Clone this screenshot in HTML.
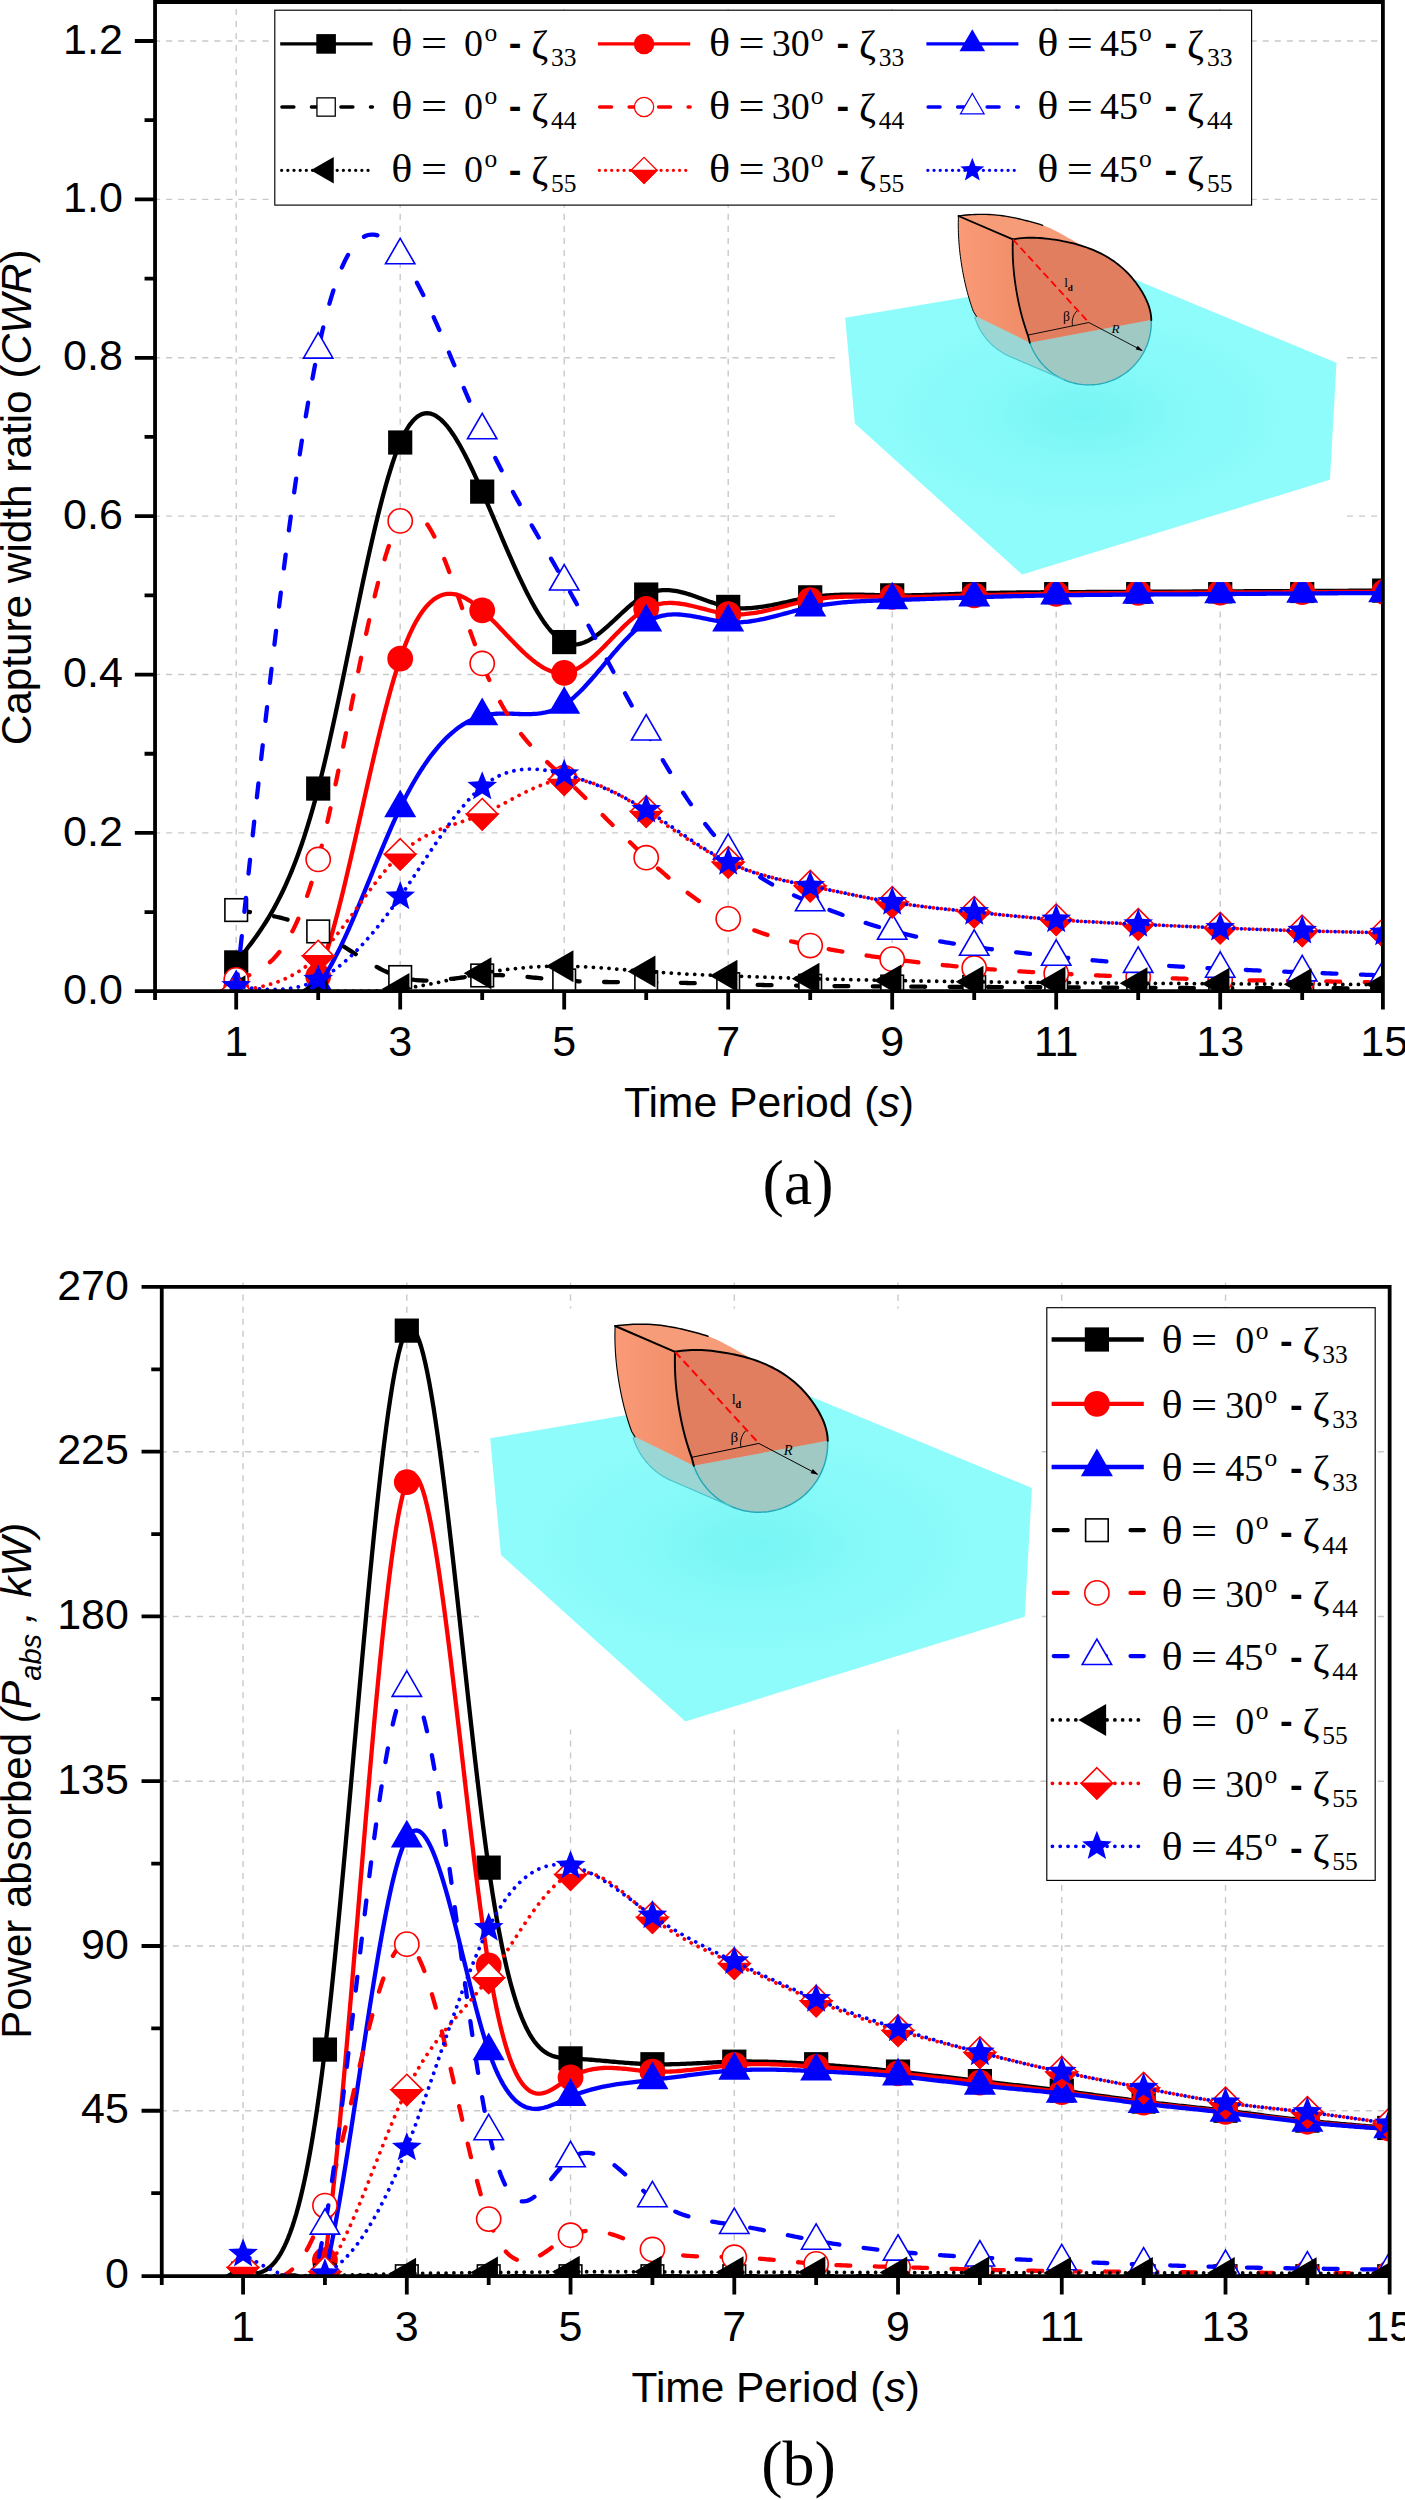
<!DOCTYPE html><html><head><meta charset="utf-8"><title>Figure</title><style>html,body{margin:0;padding:0;background:#fff;overflow:hidden}svg{display:block}</style></head><body><svg width="1405" height="2500" viewBox="0 0 1405 2500"><rect width="1405" height="2500" fill="#fff"/><clipPath id="ca"><rect x="155.05" y="2" width="1227.85" height="989.1"/></clipPath><path d="M154.05 832.92 H1382.9 M154.05 674.54 H1382.9 M154.05 516.16 H1382.9 M154.05 357.78 H1382.9 M154.05 199.4 H1382.9 M154.05 41.02 H1382.9" stroke="#c9c9c9" stroke-width="1.4" fill="none" stroke-dasharray="6.1 5.95"/><path d="M236.2 -3.1 V991.1 M400.2 -3.1 V991.1 M564.2 -3.1 V991.1 M728.2 -3.1 V991.1 M892.2 -3.1 V991.1 M1056.2 -3.1 V991.1 M1220.2 -3.1 V991.1" stroke="#c9c9c9" stroke-width="1.4" fill="none" stroke-dasharray="6.1 5.95"/><g clip-path="url(#ca)"><path d="M236.2 962.4 L238.25 959.84 L240.3 957.27 L242.35 954.69 L244.4 952.09 L246.45 949.46 L248.5 946.8 L250.55 944.1 L252.6 941.35 L254.65 938.55 L256.7 935.69 L258.75 932.76 L260.8 929.76 L262.85 926.67 L264.9 923.51 L266.95 920.24 L269 916.88 L271.05 913.41 L273.1 909.82 L275.15 906.12 L277.2 902.28 L279.25 898.32 L281.3 894.21 L283.35 889.95 L285.4 885.54 L287.45 880.97 L289.5 876.24 L291.55 871.32 L293.6 866.23 L295.65 860.95 L297.7 855.48 L299.75 849.8 L301.8 843.92 L303.85 837.82 L305.9 831.5 L307.95 824.96 L310 818.18 L312.05 811.15 L314.1 803.88 L316.15 796.36 L318.2 788.57 L320.25 780.52 L322.3 772.22 L324.35 763.69 L326.4 754.94 L328.45 745.99 L330.5 736.86 L332.55 727.57 L334.6 718.13 L336.65 708.56 L338.7 698.88 L340.75 689.11 L342.8 679.25 L344.85 669.34 L346.9 659.39 L348.95 649.41 L351 639.42 L353.05 629.44 L355.1 619.49 L357.15 609.58 L359.2 599.74 L361.25 589.97 L363.3 580.31 L365.35 570.75 L367.4 561.32 L369.45 552.05 L371.5 542.94 L373.55 534.01 L375.6 525.28 L377.65 516.78 L379.7 508.5 L381.75 500.48 L383.8 492.73 L385.85 485.26 L387.9 478.1 L389.95 471.27 L392 464.77 L394.05 458.63 L396.1 452.86 L398.15 447.48 L400.2 442.51 L402.25 437.97 L404.3 433.84 L406.35 430.11 L408.4 426.79 L410.45 423.85 L412.5 421.29 L414.55 419.1 L416.6 417.27 L418.65 415.79 L420.7 414.65 L422.75 413.84 L424.8 413.35 L426.85 413.18 L428.9 413.3 L430.95 413.72 L433 414.43 L435.05 415.4 L437.1 416.64 L439.15 418.14 L441.2 419.88 L443.25 421.86 L445.3 424.06 L447.35 426.48 L449.4 429.11 L451.45 431.94 L453.5 434.95 L455.55 438.15 L457.6 441.51 L459.65 445.03 L461.7 448.7 L463.75 452.52 L465.8 456.46 L467.85 460.53 L469.9 464.71 L471.95 468.99 L474 473.37 L476.05 477.83 L478.1 482.36 L480.15 486.96 L482.2 491.61 L484.25 496.31 L486.3 501.05 L488.35 505.82 L490.4 510.62 L492.45 515.43 L494.5 520.26 L496.55 525.09 L498.6 529.91 L500.65 534.73 L502.7 539.54 L504.75 544.31 L506.8 549.06 L508.85 553.78 L510.9 558.45 L512.95 563.07 L515 567.63 L517.05 572.13 L519.1 576.55 L521.15 580.9 L523.2 585.17 L525.25 589.34 L527.3 593.41 L529.35 597.38 L531.4 601.24 L533.45 604.98 L535.5 608.59 L537.55 612.07 L539.6 615.41 L541.65 618.6 L543.7 621.64 L545.75 624.51 L547.8 627.23 L549.85 629.76 L551.9 632.12 L553.95 634.29 L556 636.26 L558.05 638.03 L560.1 639.6 L562.15 640.95 L564.2 642.07 L566.25 642.97 L568.3 643.65 L570.35 644.12 L572.4 644.39 L574.45 644.46 L576.5 644.35 L578.55 644.06 L580.6 643.61 L582.65 643 L584.7 642.24 L586.75 641.34 L588.8 640.31 L590.85 639.15 L592.9 637.89 L594.95 636.52 L597 635.05 L599.05 633.5 L601.1 631.87 L603.15 630.18 L605.2 628.42 L607.25 626.61 L609.3 624.77 L611.35 622.89 L613.4 620.98 L615.45 619.06 L617.5 617.14 L619.55 615.21 L621.6 613.3 L623.65 611.41 L625.7 609.55 L627.75 607.73 L629.8 605.96 L631.85 604.24 L633.9 602.59 L635.95 601.01 L638 599.52 L640.05 598.12 L642.1 596.82 L644.15 595.63 L646.2 594.56 L648.25 593.61 L650.3 592.79 L652.35 592.09 L654.4 591.5 L656.45 591.02 L658.5 590.64 L660.55 590.37 L662.6 590.19 L664.65 590.1 L666.7 590.1 L668.75 590.18 L670.8 590.33 L672.85 590.56 L674.9 590.85 L676.95 591.21 L679 591.63 L681.05 592.09 L683.1 592.61 L685.15 593.17 L687.2 593.78 L689.25 594.41 L691.3 595.08 L693.35 595.77 L695.4 596.48 L697.45 597.21 L699.5 597.95 L701.55 598.7 L703.6 599.45 L705.65 600.19 L707.7 600.93 L709.75 601.66 L711.8 602.37 L713.85 603.06 L715.9 603.73 L717.95 604.36 L720 604.96 L722.05 605.52 L724.1 606.03 L726.15 606.5 L728.2 606.91 L730.25 607.27 L732.3 607.56 L734.35 607.81 L736.4 608 L738.45 608.14 L740.5 608.24 L742.55 608.28 L744.6 608.29 L746.65 608.25 L748.7 608.17 L750.75 608.05 L752.8 607.9 L754.85 607.71 L756.9 607.49 L758.95 607.24 L761 606.97 L763.05 606.67 L765.1 606.34 L767.15 605.99 L769.2 605.63 L771.25 605.24 L773.3 604.84 L775.35 604.43 L777.4 604.01 L779.45 603.57 L781.5 603.13 L783.55 602.68 L785.6 602.23 L787.65 601.78 L789.7 601.33 L791.75 600.89 L793.8 600.44 L795.85 600.01 L797.9 599.58 L799.95 599.17 L802 598.77 L804.05 598.38 L806.1 598.01 L808.15 597.66 L810.2 597.33 L812.25 597.02 L814.3 596.74 L816.35 596.48 L818.4 596.24 L820.45 596.02 L822.5 595.82 L824.55 595.63 L826.6 595.47 L828.65 595.32 L830.7 595.19 L832.75 595.08 L834.8 594.98 L836.85 594.9 L838.9 594.83 L840.95 594.77 L843 594.72 L845.05 594.69 L847.1 594.67 L849.15 594.65 L851.2 594.65 L853.25 594.65 L855.3 594.66 L857.35 594.68 L859.4 594.71 L861.45 594.74 L863.5 594.77 L865.55 594.81 L867.6 594.86 L869.65 594.9 L871.7 594.95 L873.75 595 L875.8 595.04 L877.85 595.09 L879.9 595.14 L881.95 595.18 L884 595.22 L886.05 595.26 L888.1 595.3 L890.15 595.33 L892.2 595.35 L894.25 595.37 L896.3 595.38 L898.35 595.38 L900.4 595.38 L902.45 595.38 L904.5 595.37 L906.55 595.35 L908.6 595.33 L910.65 595.3 L912.7 595.27 L914.75 595.24 L916.8 595.2 L918.85 595.16 L920.9 595.11 L922.95 595.06 L925 595.01 L927.05 594.95 L929.1 594.89 L931.15 594.83 L933.2 594.77 L935.25 594.71 L937.3 594.64 L939.35 594.57 L941.4 594.5 L943.45 594.43 L945.5 594.36 L947.55 594.28 L949.6 594.21 L951.65 594.14 L953.7 594.06 L955.75 593.99 L957.8 593.92 L959.85 593.84 L961.9 593.77 L963.95 593.7 L966 593.63 L968.05 593.56 L970.1 593.5 L972.15 593.43 L974.2 593.37 L976.25 593.31 L978.3 593.25 L980.35 593.2 L982.4 593.14 L984.45 593.09 L986.5 593.04 L988.55 592.99 L990.6 592.95 L992.65 592.9 L994.7 592.86 L996.75 592.82 L998.8 592.78 L1000.85 592.74 L1002.9 592.71 L1004.95 592.68 L1007 592.64 L1009.05 592.61 L1011.1 592.58 L1013.15 592.56 L1015.2 592.53 L1017.25 592.5 L1019.3 592.48 L1021.35 592.46 L1023.4 592.43 L1025.45 592.41 L1027.5 592.39 L1029.55 592.37 L1031.6 592.35 L1033.65 592.34 L1035.7 592.32 L1037.75 592.3 L1039.8 592.29 L1041.85 592.27 L1043.9 592.26 L1045.95 592.25 L1048 592.23 L1050.05 592.22 L1052.1 592.21 L1054.15 592.19 L1056.2 592.18 L1058.25 592.17 L1060.3 592.16 L1062.35 592.15 L1064.4 592.14 L1066.45 592.12 L1068.5 592.11 L1070.55 592.1 L1072.6 592.09 L1074.65 592.08 L1076.7 592.07 L1078.75 592.06 L1080.8 592.05 L1082.85 592.04 L1084.9 592.03 L1086.95 592.02 L1089 592.01 L1091.05 592 L1093.1 591.99 L1095.15 591.98 L1097.2 591.97 L1099.25 591.96 L1101.3 591.95 L1103.35 591.94 L1105.4 591.93 L1107.45 591.92 L1109.5 591.92 L1111.55 591.91 L1113.6 591.9 L1115.65 591.89 L1117.7 591.88 L1119.75 591.87 L1121.8 591.86 L1123.85 591.85 L1125.9 591.84 L1127.95 591.83 L1130 591.82 L1132.05 591.81 L1134.1 591.81 L1136.15 591.8 L1138.2 591.79 L1140.25 591.78 L1142.3 591.77 L1144.35 591.76 L1146.4 591.75 L1148.45 591.74 L1150.5 591.73 L1152.55 591.72 L1154.6 591.71 L1156.65 591.7 L1158.7 591.69 L1160.75 591.68 L1162.8 591.67 L1164.85 591.66 L1166.9 591.65 L1168.95 591.64 L1171 591.63 L1173.05 591.62 L1175.1 591.61 L1177.15 591.6 L1179.2 591.59 L1181.25 591.58 L1183.3 591.57 L1185.35 591.56 L1187.4 591.55 L1189.45 591.54 L1191.5 591.53 L1193.55 591.52 L1195.6 591.51 L1197.65 591.5 L1199.7 591.49 L1201.75 591.48 L1203.8 591.47 L1205.85 591.46 L1207.9 591.45 L1209.95 591.44 L1212 591.43 L1214.05 591.42 L1216.1 591.41 L1218.15 591.4 L1220.2 591.39 L1222.25 591.38 L1224.3 591.37 L1226.35 591.36 L1228.4 591.35 L1230.45 591.34 L1232.5 591.33 L1234.55 591.32 L1236.6 591.31 L1238.65 591.3 L1240.7 591.29 L1242.75 591.28 L1244.8 591.27 L1246.85 591.26 L1248.9 591.25 L1250.95 591.24 L1253 591.23 L1255.05 591.22 L1257.1 591.21 L1259.15 591.2 L1261.2 591.19 L1263.25 591.18 L1265.3 591.17 L1267.35 591.16 L1269.4 591.15 L1271.45 591.14 L1273.5 591.13 L1275.55 591.12 L1277.6 591.11 L1279.65 591.1 L1281.7 591.09 L1283.75 591.08 L1285.8 591.07 L1287.85 591.06 L1289.9 591.05 L1291.95 591.04 L1294 591.03 L1296.05 591.02 L1298.1 591.01 L1300.15 591 L1302.2 590.99 L1304.25 590.98 L1306.3 590.97 L1308.35 590.96 L1310.4 590.96 L1312.45 590.95 L1314.5 590.94 L1316.55 590.93 L1318.6 590.92 L1320.65 590.91 L1322.7 590.9 L1324.75 590.89 L1326.8 590.88 L1328.85 590.87 L1330.9 590.86 L1332.95 590.85 L1335 590.84 L1337.05 590.83 L1339.1 590.82 L1341.15 590.81 L1343.2 590.8 L1345.25 590.79 L1347.3 590.78 L1349.35 590.77 L1351.4 590.76 L1353.45 590.75 L1355.5 590.74 L1357.55 590.73 L1359.6 590.72 L1361.65 590.71 L1363.7 590.7 L1365.75 590.69 L1367.8 590.68 L1369.85 590.67 L1371.9 590.66 L1373.95 590.65 L1376 590.64 L1378.05 590.63 L1380.1 590.62 L1382.15 590.61 L1384.2 590.6" stroke="#000000" stroke-width="4.3" fill="none" stroke-linejoin="round"/><rect x="224.1" y="950.3" width="24.2" height="24.2" fill="#000000"/><rect x="306.1" y="776.47" width="24.2" height="24.2" fill="#000000"/><rect x="388.1" y="430.41" width="24.2" height="24.2" fill="#000000"/><rect x="470.1" y="479.51" width="24.2" height="24.2" fill="#000000"/><rect x="552.1" y="629.97" width="24.2" height="24.2" fill="#000000"/><rect x="634.1" y="582.46" width="24.2" height="24.2" fill="#000000"/><rect x="716.1" y="594.81" width="24.2" height="24.2" fill="#000000"/><rect x="798.1" y="585.23" width="24.2" height="24.2" fill="#000000"/><rect x="880.1" y="583.25" width="24.2" height="24.2" fill="#000000"/><rect x="962.1" y="581.27" width="24.2" height="24.2" fill="#000000"/><rect x="1044.1" y="580.08" width="24.2" height="24.2" fill="#000000"/><rect x="1126.1" y="579.69" width="24.2" height="24.2" fill="#000000"/><rect x="1208.1" y="579.29" width="24.2" height="24.2" fill="#000000"/><rect x="1290.1" y="578.89" width="24.2" height="24.2" fill="#000000"/><rect x="1372.1" y="578.5" width="24.2" height="24.2" fill="#000000"/><path d="M236.2 988.13 L238.25 990.29 L240.3 992.44 L242.35 994.58 L244.4 996.68 L246.45 998.75 L248.5 1000.77 L250.55 1002.74 L252.6 1004.64 L254.65 1006.47 L256.7 1008.21 L258.75 1009.87 L260.8 1011.42 L262.85 1012.86 L264.9 1014.18 L266.95 1015.37 L269 1016.43 L271.05 1017.33 L273.1 1018.08 L275.15 1018.66 L277.2 1019.07 L279.25 1019.3 L281.3 1019.33 L283.35 1019.15 L285.4 1018.77 L287.45 1018.16 L289.5 1017.33 L291.55 1016.25 L293.6 1014.93 L295.65 1013.34 L297.7 1011.49 L299.75 1009.37 L301.8 1006.95 L303.85 1004.25 L305.9 1001.23 L307.95 997.91 L310 994.26 L312.05 990.28 L314.1 985.96 L316.15 981.29 L318.2 976.25 L320.25 970.86 L322.3 965.11 L324.35 959.03 L326.4 952.63 L328.45 945.94 L330.5 938.96 L332.55 931.72 L334.6 924.23 L336.65 916.51 L338.7 908.58 L340.75 900.45 L342.8 892.15 L344.85 883.69 L346.9 875.09 L348.95 866.36 L351 857.53 L353.05 848.6 L355.1 839.61 L357.15 830.55 L359.2 821.47 L361.25 812.36 L363.3 803.25 L365.35 794.15 L367.4 785.09 L369.45 776.07 L371.5 767.13 L373.55 758.26 L375.6 749.5 L377.65 740.86 L379.7 732.36 L381.75 724.01 L383.8 715.83 L385.85 707.85 L387.9 700.07 L389.95 692.51 L392 685.19 L394.05 678.14 L396.1 671.36 L398.15 664.88 L400.2 658.7 L402.25 652.85 L404.3 647.33 L406.35 642.12 L408.4 637.21 L410.45 632.62 L412.5 628.31 L414.55 624.3 L416.6 620.56 L418.65 617.11 L420.7 613.92 L422.75 610.99 L424.8 608.33 L426.85 605.9 L428.9 603.73 L430.95 601.78 L433 600.07 L435.05 598.58 L437.1 597.31 L439.15 596.24 L441.2 595.38 L443.25 594.71 L445.3 594.23 L447.35 593.94 L449.4 593.82 L451.45 593.87 L453.5 594.08 L455.55 594.45 L457.6 594.96 L459.65 595.62 L461.7 596.42 L463.75 597.35 L465.8 598.39 L467.85 599.56 L469.9 600.83 L471.95 602.21 L474 603.68 L476.05 605.24 L478.1 606.89 L480.15 608.61 L482.2 610.4 L484.25 612.25 L486.3 614.16 L488.35 616.12 L490.4 618.13 L492.45 620.18 L494.5 622.26 L496.55 624.37 L498.6 626.5 L500.65 628.65 L502.7 630.82 L504.75 632.98 L506.8 635.15 L508.85 637.32 L510.9 639.47 L512.95 641.61 L515 643.72 L517.05 645.8 L519.1 647.86 L521.15 649.87 L523.2 651.84 L525.25 653.75 L527.3 655.61 L529.35 657.41 L531.4 659.14 L533.45 660.8 L535.5 662.37 L537.55 663.87 L539.6 665.27 L541.65 666.57 L543.7 667.78 L545.75 668.87 L547.8 669.85 L549.85 670.72 L551.9 671.46 L553.95 672.07 L556 672.54 L558.05 672.87 L560.1 673.05 L562.15 673.08 L564.2 672.96 L566.25 672.67 L568.3 672.22 L570.35 671.62 L572.4 670.88 L574.45 670 L576.5 669 L578.55 667.87 L580.6 666.63 L582.65 665.28 L584.7 663.83 L586.75 662.28 L588.8 660.65 L590.85 658.94 L592.9 657.16 L594.95 655.32 L597 653.41 L599.05 651.46 L601.1 649.46 L603.15 647.42 L605.2 645.36 L607.25 643.27 L609.3 641.17 L611.35 639.06 L613.4 636.95 L615.45 634.84 L617.5 632.75 L619.55 630.68 L621.6 628.63 L623.65 626.62 L625.7 624.65 L627.75 622.73 L629.8 620.87 L631.85 619.07 L633.9 617.34 L635.95 615.68 L638 614.11 L640.05 612.63 L642.1 611.25 L644.15 609.98 L646.2 608.81 L648.25 607.77 L650.3 606.84 L652.35 606.02 L654.4 605.31 L656.45 604.7 L658.5 604.18 L660.55 603.77 L662.6 603.44 L664.65 603.19 L666.7 603.03 L668.75 602.94 L670.8 602.93 L672.85 602.98 L674.9 603.09 L676.95 603.27 L679 603.5 L681.05 603.78 L683.1 604.1 L685.15 604.47 L687.2 604.87 L689.25 605.31 L691.3 605.77 L693.35 606.26 L695.4 606.77 L697.45 607.29 L699.5 607.82 L701.55 608.37 L703.6 608.91 L705.65 609.45 L707.7 609.99 L709.75 610.51 L711.8 611.02 L713.85 611.51 L715.9 611.98 L717.95 612.42 L720 612.82 L722.05 613.19 L724.1 613.52 L726.15 613.81 L728.2 614.04 L730.25 614.22 L732.3 614.35 L734.35 614.43 L736.4 614.46 L738.45 614.44 L740.5 614.38 L742.55 614.28 L744.6 614.13 L746.65 613.95 L748.7 613.73 L750.75 613.48 L752.8 613.2 L754.85 612.88 L756.9 612.54 L758.95 612.17 L761 611.77 L763.05 611.36 L765.1 610.92 L767.15 610.46 L769.2 609.99 L771.25 609.51 L773.3 609.01 L775.35 608.5 L777.4 607.98 L779.45 607.45 L781.5 606.92 L783.55 606.39 L785.6 605.85 L787.65 605.32 L789.7 604.79 L791.75 604.27 L793.8 603.75 L795.85 603.24 L797.9 602.74 L799.95 602.26 L802 601.79 L804.05 601.34 L806.1 600.9 L808.15 600.49 L810.2 600.1 L812.25 599.74 L814.3 599.4 L816.35 599.08 L818.4 598.78 L820.45 598.51 L822.5 598.26 L824.55 598.03 L826.6 597.81 L828.65 597.62 L830.7 597.45 L832.75 597.29 L834.8 597.15 L836.85 597.02 L838.9 596.91 L840.95 596.82 L843 596.74 L845.05 596.67 L847.1 596.61 L849.15 596.57 L851.2 596.53 L853.25 596.51 L855.3 596.49 L857.35 596.49 L859.4 596.49 L861.45 596.49 L863.5 596.51 L865.55 596.53 L867.6 596.55 L869.65 596.58 L871.7 596.61 L873.75 596.64 L875.8 596.68 L877.85 596.72 L879.9 596.75 L881.95 596.79 L884 596.82 L886.05 596.86 L888.1 596.89 L890.15 596.91 L892.2 596.93 L894.25 596.95 L896.3 596.96 L898.35 596.97 L900.4 596.97 L902.45 596.97 L904.5 596.97 L906.55 596.96 L908.6 596.94 L910.65 596.93 L912.7 596.9 L914.75 596.88 L916.8 596.85 L918.85 596.82 L920.9 596.79 L922.95 596.75 L925 596.71 L927.05 596.67 L929.1 596.62 L931.15 596.58 L933.2 596.53 L935.25 596.48 L937.3 596.42 L939.35 596.37 L941.4 596.31 L943.45 596.26 L945.5 596.2 L947.55 596.14 L949.6 596.08 L951.65 596.02 L953.7 595.96 L955.75 595.9 L957.8 595.83 L959.85 595.77 L961.9 595.71 L963.95 595.65 L966 595.59 L968.05 595.53 L970.1 595.47 L972.15 595.41 L974.2 595.35 L976.25 595.29 L978.3 595.24 L980.35 595.18 L982.4 595.13 L984.45 595.08 L986.5 595.02 L988.55 594.97 L990.6 594.92 L992.65 594.88 L994.7 594.83 L996.75 594.78 L998.8 594.74 L1000.85 594.69 L1002.9 594.65 L1004.95 594.61 L1007 594.56 L1009.05 594.52 L1011.1 594.48 L1013.15 594.44 L1015.2 594.4 L1017.25 594.37 L1019.3 594.33 L1021.35 594.29 L1023.4 594.26 L1025.45 594.22 L1027.5 594.19 L1029.55 594.15 L1031.6 594.12 L1033.65 594.09 L1035.7 594.06 L1037.75 594.03 L1039.8 593.99 L1041.85 593.96 L1043.9 593.93 L1045.95 593.91 L1048 593.88 L1050.05 593.85 L1052.1 593.82 L1054.15 593.79 L1056.2 593.77 L1058.25 593.74 L1060.3 593.71 L1062.35 593.69 L1064.4 593.66 L1066.45 593.64 L1068.5 593.61 L1070.55 593.59 L1072.6 593.56 L1074.65 593.54 L1076.7 593.52 L1078.75 593.49 L1080.8 593.47 L1082.85 593.45 L1084.9 593.43 L1086.95 593.41 L1089 593.38 L1091.05 593.36 L1093.1 593.34 L1095.15 593.32 L1097.2 593.3 L1099.25 593.28 L1101.3 593.26 L1103.35 593.25 L1105.4 593.23 L1107.45 593.21 L1109.5 593.19 L1111.55 593.17 L1113.6 593.16 L1115.65 593.14 L1117.7 593.12 L1119.75 593.11 L1121.8 593.09 L1123.85 593.07 L1125.9 593.06 L1127.95 593.04 L1130 593.03 L1132.05 593.02 L1134.1 593 L1136.15 592.99 L1138.2 592.97 L1140.25 592.96 L1142.3 592.95 L1144.35 592.94 L1146.4 592.92 L1148.45 592.91 L1150.5 592.9 L1152.55 592.89 L1154.6 592.88 L1156.65 592.87 L1158.7 592.85 L1160.75 592.84 L1162.8 592.83 L1164.85 592.82 L1166.9 592.81 L1168.95 592.8 L1171 592.79 L1173.05 592.78 L1175.1 592.77 L1177.15 592.76 L1179.2 592.75 L1181.25 592.75 L1183.3 592.74 L1185.35 592.73 L1187.4 592.72 L1189.45 592.71 L1191.5 592.7 L1193.55 592.69 L1195.6 592.68 L1197.65 592.67 L1199.7 592.67 L1201.75 592.66 L1203.8 592.65 L1205.85 592.64 L1207.9 592.63 L1209.95 592.62 L1212 592.61 L1214.05 592.6 L1216.1 592.6 L1218.15 592.59 L1220.2 592.58 L1222.25 592.57 L1224.3 592.56 L1226.35 592.55 L1228.4 592.54 L1230.45 592.53 L1232.5 592.52 L1234.55 592.51 L1236.6 592.5 L1238.65 592.49 L1240.7 592.49 L1242.75 592.48 L1244.8 592.47 L1246.85 592.46 L1248.9 592.45 L1250.95 592.44 L1253 592.43 L1255.05 592.42 L1257.1 592.41 L1259.15 592.4 L1261.2 592.39 L1263.25 592.38 L1265.3 592.37 L1267.35 592.36 L1269.4 592.35 L1271.45 592.34 L1273.5 592.33 L1275.55 592.32 L1277.6 592.31 L1279.65 592.29 L1281.7 592.28 L1283.75 592.27 L1285.8 592.26 L1287.85 592.25 L1289.9 592.24 L1291.95 592.23 L1294 592.22 L1296.05 592.21 L1298.1 592.2 L1300.15 592.19 L1302.2 592.18 L1304.25 592.17 L1306.3 592.16 L1308.35 592.15 L1310.4 592.14 L1312.45 592.13 L1314.5 592.12 L1316.55 592.11 L1318.6 592.1 L1320.65 592.09 L1322.7 592.08 L1324.75 592.07 L1326.8 592.06 L1328.85 592.05 L1330.9 592.04 L1332.95 592.03 L1335 592.02 L1337.05 592.01 L1339.1 592 L1341.15 591.99 L1343.2 591.98 L1345.25 591.97 L1347.3 591.96 L1349.35 591.95 L1351.4 591.94 L1353.45 591.93 L1355.5 591.92 L1357.55 591.91 L1359.6 591.9 L1361.65 591.89 L1363.7 591.88 L1365.75 591.87 L1367.8 591.86 L1369.85 591.85 L1371.9 591.85 L1373.95 591.84 L1376 591.83 L1378.05 591.82 L1380.1 591.81 L1382.15 591.8 L1384.2 591.79" stroke="#ff0000" stroke-width="4.3" fill="none" stroke-linejoin="round"/><circle cx="236.2" cy="988.13" r="12.9" fill="#ff0000"/><circle cx="318.2" cy="976.25" r="12.9" fill="#ff0000"/><circle cx="400.2" cy="658.7" r="12.9" fill="#ff0000"/><circle cx="482.2" cy="610.4" r="12.9" fill="#ff0000"/><circle cx="564.2" cy="672.96" r="12.9" fill="#ff0000"/><circle cx="646.2" cy="608.81" r="12.9" fill="#ff0000"/><circle cx="728.2" cy="614.04" r="12.9" fill="#ff0000"/><circle cx="810.2" cy="600.1" r="12.9" fill="#ff0000"/><circle cx="892.2" cy="596.93" r="12.9" fill="#ff0000"/><circle cx="974.2" cy="595.35" r="12.9" fill="#ff0000"/><circle cx="1056.2" cy="593.77" r="12.9" fill="#ff0000"/><circle cx="1138.2" cy="592.97" r="12.9" fill="#ff0000"/><circle cx="1220.2" cy="592.58" r="12.9" fill="#ff0000"/><circle cx="1302.2" cy="592.18" r="12.9" fill="#ff0000"/><circle cx="1384.2" cy="591.79" r="12.9" fill="#ff0000"/><path d="M236.2 988.92 L238.25 990.09 L240.3 991.24 L242.35 992.39 L244.4 993.52 L246.45 994.64 L248.5 995.73 L250.55 996.79 L252.6 997.82 L254.65 998.81 L256.7 999.76 L258.75 1000.66 L260.8 1001.51 L262.85 1002.3 L264.9 1003.04 L266.95 1003.7 L269 1004.29 L271.05 1004.81 L273.1 1005.25 L275.15 1005.6 L277.2 1005.87 L279.25 1006.04 L281.3 1006.1 L283.35 1006.07 L285.4 1005.93 L287.45 1005.67 L289.5 1005.29 L291.55 1004.79 L293.6 1004.17 L295.65 1003.41 L297.7 1002.51 L299.75 1001.47 L301.8 1000.29 L303.85 998.95 L305.9 997.46 L307.95 995.81 L310 993.99 L312.05 992 L314.1 989.84 L316.15 987.49 L318.2 984.96 L320.25 982.25 L322.3 979.35 L324.35 976.28 L326.4 973.04 L328.45 969.64 L330.5 966.09 L332.55 962.4 L334.6 958.57 L336.65 954.61 L338.7 950.52 L340.75 946.32 L342.8 942.02 L344.85 937.61 L346.9 933.11 L348.95 928.52 L351 923.86 L353.05 919.13 L355.1 914.33 L357.15 909.48 L359.2 904.58 L361.25 899.64 L363.3 894.66 L365.35 889.66 L367.4 884.65 L369.45 879.62 L371.5 874.58 L373.55 869.55 L375.6 864.54 L377.65 859.54 L379.7 854.56 L381.75 849.62 L383.8 844.72 L385.85 839.87 L387.9 835.08 L389.95 830.35 L392 825.69 L394.05 821.1 L396.1 816.61 L398.15 812.2 L400.2 807.9 L402.25 803.7 L404.3 799.61 L406.35 795.62 L408.4 791.74 L410.45 787.97 L412.5 784.3 L414.55 780.73 L416.6 777.26 L418.65 773.9 L420.7 770.64 L422.75 767.48 L424.8 764.41 L426.85 761.45 L428.9 758.58 L430.95 755.81 L433 753.14 L435.05 750.56 L437.1 748.08 L439.15 745.69 L441.2 743.4 L443.25 741.2 L445.3 739.09 L447.35 737.07 L449.4 735.14 L451.45 733.3 L453.5 731.55 L455.55 729.89 L457.6 728.31 L459.65 726.83 L461.7 725.42 L463.75 724.11 L465.8 722.87 L467.85 721.72 L469.9 720.66 L471.95 719.67 L474 718.77 L476.05 717.95 L478.1 717.21 L480.15 716.54 L482.2 715.96 L484.25 715.45 L486.3 715.01 L488.35 714.64 L490.4 714.34 L492.45 714.09 L494.5 713.9 L496.55 713.75 L498.6 713.65 L500.65 713.59 L502.7 713.56 L504.75 713.56 L506.8 713.59 L508.85 713.63 L510.9 713.69 L512.95 713.76 L515 713.84 L517.05 713.92 L519.1 713.99 L521.15 714.05 L523.2 714.1 L525.25 714.12 L527.3 714.13 L529.35 714.1 L531.4 714.05 L533.45 713.95 L535.5 713.81 L537.55 713.62 L539.6 713.38 L541.65 713.09 L543.7 712.73 L545.75 712.3 L547.8 711.8 L549.85 711.22 L551.9 710.57 L553.95 709.82 L556 708.99 L558.05 708.05 L560.1 707.02 L562.15 705.88 L564.2 704.63 L566.25 703.27 L568.3 701.8 L570.35 700.22 L572.4 698.54 L574.45 696.78 L576.5 694.92 L578.55 692.99 L580.6 690.98 L582.65 688.9 L584.7 686.76 L586.75 684.56 L588.8 682.32 L590.85 680.02 L592.9 677.69 L594.95 675.32 L597 672.92 L599.05 670.51 L601.1 668.07 L603.15 665.63 L605.2 663.18 L607.25 660.74 L609.3 658.3 L611.35 655.87 L613.4 653.46 L615.45 651.08 L617.5 648.73 L619.55 646.41 L621.6 644.14 L623.65 641.91 L625.7 639.74 L627.75 637.63 L629.8 635.58 L631.85 633.61 L633.9 631.71 L635.95 629.89 L638 628.17 L640.05 626.54 L642.1 625.01 L644.15 623.59 L646.2 622.27 L648.25 621.08 L650.3 620 L652.35 619.03 L654.4 618.17 L656.45 617.4 L658.5 616.74 L660.55 616.17 L662.6 615.68 L664.65 615.28 L666.7 614.97 L668.75 614.73 L670.8 614.56 L672.85 614.46 L674.9 614.42 L676.95 614.44 L679 614.52 L681.05 614.65 L683.1 614.83 L685.15 615.05 L687.2 615.31 L689.25 615.61 L691.3 615.93 L693.35 616.28 L695.4 616.66 L697.45 617.05 L699.5 617.46 L701.55 617.87 L703.6 618.3 L705.65 618.72 L707.7 619.14 L709.75 619.55 L711.8 619.95 L713.85 620.34 L715.9 620.71 L717.95 621.05 L720 621.37 L722.05 621.65 L724.1 621.9 L726.15 622.11 L728.2 622.27 L730.25 622.39 L732.3 622.46 L734.35 622.48 L736.4 622.46 L738.45 622.4 L740.5 622.3 L742.55 622.16 L744.6 621.98 L746.65 621.77 L748.7 621.53 L750.75 621.25 L752.8 620.95 L754.85 620.61 L756.9 620.25 L758.95 619.87 L761 619.46 L763.05 619.03 L765.1 618.58 L767.15 618.11 L769.2 617.63 L771.25 617.13 L773.3 616.62 L775.35 616.1 L777.4 615.57 L779.45 615.03 L781.5 614.49 L783.55 613.94 L785.6 613.39 L787.65 612.84 L789.7 612.29 L791.75 611.75 L793.8 611.2 L795.85 610.67 L797.9 610.14 L799.95 609.62 L802 609.11 L804.05 608.62 L806.1 608.14 L808.15 607.67 L810.2 607.23 L812.25 606.8 L814.3 606.4 L816.35 606.01 L818.4 605.64 L820.45 605.29 L822.5 604.95 L824.55 604.64 L826.6 604.33 L828.65 604.05 L830.7 603.78 L832.75 603.52 L834.8 603.28 L836.85 603.05 L838.9 602.84 L840.95 602.63 L843 602.44 L845.05 602.26 L847.1 602.09 L849.15 601.94 L851.2 601.79 L853.25 601.65 L855.3 601.52 L857.35 601.4 L859.4 601.28 L861.45 601.18 L863.5 601.08 L865.55 600.98 L867.6 600.9 L869.65 600.81 L871.7 600.74 L873.75 600.66 L875.8 600.59 L877.85 600.53 L879.9 600.46 L881.95 600.4 L884 600.34 L886.05 600.28 L888.1 600.22 L890.15 600.16 L892.2 600.1 L894.25 600.04 L896.3 599.98 L898.35 599.92 L900.4 599.85 L902.45 599.79 L904.5 599.72 L906.55 599.66 L908.6 599.59 L910.65 599.52 L912.7 599.45 L914.75 599.38 L916.8 599.31 L918.85 599.24 L920.9 599.17 L922.95 599.1 L925 599.03 L927.05 598.96 L929.1 598.89 L931.15 598.82 L933.2 598.74 L935.25 598.67 L937.3 598.6 L939.35 598.53 L941.4 598.45 L943.45 598.38 L945.5 598.31 L947.55 598.24 L949.6 598.16 L951.65 598.09 L953.7 598.02 L955.75 597.95 L957.8 597.88 L959.85 597.81 L961.9 597.74 L963.95 597.67 L966 597.6 L968.05 597.53 L970.1 597.46 L972.15 597.4 L974.2 597.33 L976.25 597.26 L978.3 597.2 L980.35 597.14 L982.4 597.07 L984.45 597.01 L986.5 596.95 L988.55 596.89 L990.6 596.83 L992.65 596.77 L994.7 596.71 L996.75 596.65 L998.8 596.6 L1000.85 596.54 L1002.9 596.49 L1004.95 596.43 L1007 596.38 L1009.05 596.33 L1011.1 596.27 L1013.15 596.22 L1015.2 596.17 L1017.25 596.12 L1019.3 596.07 L1021.35 596.03 L1023.4 595.98 L1025.45 595.93 L1027.5 595.89 L1029.55 595.85 L1031.6 595.8 L1033.65 595.76 L1035.7 595.72 L1037.75 595.68 L1039.8 595.64 L1041.85 595.6 L1043.9 595.56 L1045.95 595.52 L1048 595.49 L1050.05 595.45 L1052.1 595.42 L1054.15 595.38 L1056.2 595.35 L1058.25 595.32 L1060.3 595.29 L1062.35 595.26 L1064.4 595.23 L1066.45 595.2 L1068.5 595.17 L1070.55 595.14 L1072.6 595.12 L1074.65 595.09 L1076.7 595.07 L1078.75 595.04 L1080.8 595.02 L1082.85 595 L1084.9 594.97 L1086.95 594.95 L1089 594.93 L1091.05 594.91 L1093.1 594.89 L1095.15 594.87 L1097.2 594.85 L1099.25 594.83 L1101.3 594.82 L1103.35 594.8 L1105.4 594.78 L1107.45 594.77 L1109.5 594.75 L1111.55 594.73 L1113.6 594.72 L1115.65 594.7 L1117.7 594.69 L1119.75 594.67 L1121.8 594.66 L1123.85 594.65 L1125.9 594.63 L1127.95 594.62 L1130 594.61 L1132.05 594.6 L1134.1 594.58 L1136.15 594.57 L1138.2 594.56 L1140.25 594.55 L1142.3 594.53 L1144.35 594.52 L1146.4 594.51 L1148.45 594.5 L1150.5 594.49 L1152.55 594.48 L1154.6 594.46 L1156.65 594.45 L1158.7 594.44 L1160.75 594.43 L1162.8 594.42 L1164.85 594.41 L1166.9 594.4 L1168.95 594.39 L1171 594.38 L1173.05 594.36 L1175.1 594.35 L1177.15 594.34 L1179.2 594.33 L1181.25 594.32 L1183.3 594.31 L1185.35 594.3 L1187.4 594.28 L1189.45 594.27 L1191.5 594.26 L1193.55 594.25 L1195.6 594.24 L1197.65 594.23 L1199.7 594.21 L1201.75 594.2 L1203.8 594.19 L1205.85 594.18 L1207.9 594.16 L1209.95 594.15 L1212 594.14 L1214.05 594.12 L1216.1 594.11 L1218.15 594.1 L1220.2 594.08 L1222.25 594.07 L1224.3 594.05 L1226.35 594.04 L1228.4 594.02 L1230.45 594.01 L1232.5 593.99 L1234.55 593.98 L1236.6 593.96 L1238.65 593.95 L1240.7 593.93 L1242.75 593.92 L1244.8 593.9 L1246.85 593.88 L1248.9 593.87 L1250.95 593.85 L1253 593.83 L1255.05 593.82 L1257.1 593.8 L1259.15 593.79 L1261.2 593.77 L1263.25 593.75 L1265.3 593.74 L1267.35 593.72 L1269.4 593.7 L1271.45 593.69 L1273.5 593.67 L1275.55 593.65 L1277.6 593.64 L1279.65 593.62 L1281.7 593.6 L1283.75 593.59 L1285.8 593.57 L1287.85 593.56 L1289.9 593.54 L1291.95 593.52 L1294 593.51 L1296.05 593.49 L1298.1 593.48 L1300.15 593.46 L1302.2 593.45 L1304.25 593.43 L1306.3 593.42 L1308.35 593.41 L1310.4 593.39 L1312.45 593.38 L1314.5 593.37 L1316.55 593.35 L1318.6 593.34 L1320.65 593.33 L1322.7 593.31 L1324.75 593.3 L1326.8 593.29 L1328.85 593.27 L1330.9 593.26 L1332.95 593.25 L1335 593.24 L1337.05 593.23 L1339.1 593.21 L1341.15 593.2 L1343.2 593.19 L1345.25 593.18 L1347.3 593.17 L1349.35 593.16 L1351.4 593.15 L1353.45 593.13 L1355.5 593.12 L1357.55 593.11 L1359.6 593.1 L1361.65 593.09 L1363.7 593.08 L1365.75 593.07 L1367.8 593.06 L1369.85 593.05 L1371.9 593.04 L1373.95 593.03 L1376 593.02 L1378.05 593.01 L1380.1 593 L1382.15 592.98 L1384.2 592.97" stroke="#0000ff" stroke-width="4.3" fill="none" stroke-linejoin="round"/><polygon points="236.2,970.46 252.2,998.16 220.2,998.16" fill="#0000ff"/><polygon points="318.2,966.5 334.2,994.2 302.2,994.2" fill="#0000ff"/><polygon points="400.2,789.43 416.2,817.13 384.2,817.13" fill="#0000ff"/><polygon points="482.2,697.49 498.2,725.19 466.2,725.19" fill="#0000ff"/><polygon points="564.2,686.17 580.2,713.87 548.2,713.87" fill="#0000ff"/><polygon points="646.2,603.81 662.2,631.51 630.2,631.51" fill="#0000ff"/><polygon points="728.2,603.81 744.2,631.51 712.2,631.51" fill="#0000ff"/><polygon points="810.2,588.76 826.2,616.46 794.2,616.46" fill="#0000ff"/><polygon points="892.2,581.63 908.2,609.33 876.2,609.33" fill="#0000ff"/><polygon points="974.2,578.86 990.2,606.56 958.2,606.56" fill="#0000ff"/><polygon points="1056.2,576.88 1072.2,604.58 1040.2,604.58" fill="#0000ff"/><polygon points="1138.2,576.09 1154.2,603.79 1122.2,603.79" fill="#0000ff"/><polygon points="1220.2,575.62 1236.2,603.32 1204.2,603.32" fill="#0000ff"/><polygon points="1302.2,574.98 1318.2,602.68 1286.2,602.68" fill="#0000ff"/><polygon points="1384.2,574.51 1400.2,602.21 1368.2,602.21" fill="#0000ff"/><path d="M236.2 910.05 L238.25 910.34 L240.3 910.62 L242.35 910.91 L244.4 911.2 L246.45 911.49 L248.5 911.79 L250.55 912.09 L252.6 912.4 L254.65 912.72 L256.7 913.05 L258.75 913.38 L260.8 913.73 L262.85 914.09 L264.9 914.46 L266.95 914.84 L269 915.24 L271.05 915.65 L273.1 916.07 L275.15 916.52 L277.2 916.98 L279.25 917.46 L281.3 917.96 L283.35 918.49 L285.4 919.03 L287.45 919.6 L289.5 920.19 L291.55 920.8 L293.6 921.44 L295.65 922.1 L297.7 922.8 L299.75 923.52 L301.8 924.27 L303.85 925.05 L305.9 925.86 L307.95 926.7 L310 927.58 L312.05 928.49 L314.1 929.43 L316.15 930.42 L318.2 931.43 L320.25 932.49 L322.3 933.58 L324.35 934.7 L326.4 935.85 L328.45 937.03 L330.5 938.24 L332.55 939.47 L334.6 940.71 L336.65 941.98 L338.7 943.27 L340.75 944.56 L342.8 945.87 L344.85 947.19 L346.9 948.51 L348.95 949.83 L351 951.16 L353.05 952.49 L355.1 953.81 L357.15 955.12 L359.2 956.43 L361.25 957.73 L363.3 959.01 L365.35 960.28 L367.4 961.53 L369.45 962.75 L371.5 963.96 L373.55 965.14 L375.6 966.29 L377.65 967.41 L379.7 968.5 L381.75 969.55 L383.8 970.57 L385.85 971.54 L387.9 972.48 L389.95 973.36 L392 974.21 L394.05 975 L396.1 975.73 L398.15 976.42 L400.2 977.05 L402.25 977.61 L404.3 978.12 L406.35 978.58 L408.4 978.98 L410.45 979.33 L412.5 979.63 L414.55 979.89 L416.6 980.1 L418.65 980.27 L420.7 980.39 L422.75 980.48 L424.8 980.53 L426.85 980.54 L428.9 980.53 L430.95 980.48 L433 980.41 L435.05 980.3 L437.1 980.18 L439.15 980.03 L441.2 979.86 L443.25 979.67 L445.3 979.47 L447.35 979.25 L449.4 979.03 L451.45 978.79 L453.5 978.54 L455.55 978.29 L457.6 978.04 L459.65 977.78 L461.7 977.53 L463.75 977.27 L465.8 977.02 L467.85 976.78 L469.9 976.55 L471.95 976.33 L474 976.12 L476.05 975.93 L478.1 975.75 L480.15 975.6 L482.2 975.46 L484.25 975.35 L486.3 975.26 L488.35 975.19 L490.4 975.15 L492.45 975.12 L494.5 975.11 L496.55 975.12 L498.6 975.15 L500.65 975.2 L502.7 975.26 L504.75 975.34 L506.8 975.43 L508.85 975.53 L510.9 975.65 L512.95 975.78 L515 975.92 L517.05 976.07 L519.1 976.23 L521.15 976.4 L523.2 976.57 L525.25 976.76 L527.3 976.95 L529.35 977.14 L531.4 977.34 L533.45 977.54 L535.5 977.75 L537.55 977.96 L539.6 978.16 L541.65 978.37 L543.7 978.58 L545.75 978.79 L547.8 978.99 L549.85 979.19 L551.9 979.39 L553.95 979.58 L556 979.77 L558.05 979.95 L560.1 980.13 L562.15 980.29 L564.2 980.45 L566.25 980.6 L568.3 980.74 L570.35 980.87 L572.4 980.99 L574.45 981.1 L576.5 981.21 L578.55 981.3 L580.6 981.39 L582.65 981.47 L584.7 981.55 L586.75 981.62 L588.8 981.68 L590.85 981.74 L592.9 981.79 L594.95 981.83 L597 981.88 L599.05 981.91 L601.1 981.94 L603.15 981.97 L605.2 982 L607.25 982.02 L609.3 982.04 L611.35 982.05 L613.4 982.06 L615.45 982.07 L617.5 982.08 L619.55 982.09 L621.6 982.1 L623.65 982.1 L625.7 982.11 L627.75 982.11 L629.8 982.12 L631.85 982.12 L633.9 982.13 L635.95 982.13 L638 982.14 L640.05 982.15 L642.1 982.16 L644.15 982.18 L646.2 982.19 L648.25 982.21 L650.3 982.23 L652.35 982.26 L654.4 982.29 L656.45 982.32 L658.5 982.35 L660.55 982.38 L662.6 982.42 L664.65 982.46 L666.7 982.5 L668.75 982.54 L670.8 982.59 L672.85 982.63 L674.9 982.68 L676.95 982.73 L679 982.78 L681.05 982.83 L683.1 982.88 L685.15 982.94 L687.2 982.99 L689.25 983.05 L691.3 983.11 L693.35 983.17 L695.4 983.22 L697.45 983.28 L699.5 983.34 L701.55 983.4 L703.6 983.46 L705.65 983.52 L707.7 983.58 L709.75 983.64 L711.8 983.71 L713.85 983.77 L715.9 983.83 L717.95 983.88 L720 983.94 L722.05 984 L724.1 984.06 L726.15 984.12 L728.2 984.17 L730.25 984.23 L732.3 984.28 L734.35 984.34 L736.4 984.39 L738.45 984.44 L740.5 984.49 L742.55 984.54 L744.6 984.59 L746.65 984.63 L748.7 984.68 L750.75 984.73 L752.8 984.77 L754.85 984.82 L756.9 984.86 L758.95 984.9 L761 984.95 L763.05 984.99 L765.1 985.03 L767.15 985.07 L769.2 985.11 L771.25 985.14 L773.3 985.18 L775.35 985.22 L777.4 985.25 L779.45 985.29 L781.5 985.33 L783.55 985.36 L785.6 985.39 L787.65 985.43 L789.7 985.46 L791.75 985.49 L793.8 985.52 L795.85 985.55 L797.9 985.58 L799.95 985.61 L802 985.64 L804.05 985.67 L806.1 985.7 L808.15 985.73 L810.2 985.76 L812.25 985.78 L814.3 985.81 L816.35 985.84 L818.4 985.86 L820.45 985.89 L822.5 985.91 L824.55 985.94 L826.6 985.96 L828.65 985.99 L830.7 986.01 L832.75 986.03 L834.8 986.06 L836.85 986.08 L838.9 986.1 L840.95 986.12 L843 986.14 L845.05 986.16 L847.1 986.18 L849.15 986.2 L851.2 986.22 L853.25 986.24 L855.3 986.26 L857.35 986.28 L859.4 986.3 L861.45 986.32 L863.5 986.33 L865.55 986.35 L867.6 986.37 L869.65 986.39 L871.7 986.4 L873.75 986.42 L875.8 986.43 L877.85 986.45 L879.9 986.46 L881.95 986.48 L884 986.49 L886.05 986.51 L888.1 986.52 L890.15 986.54 L892.2 986.55 L894.25 986.56 L896.3 986.57 L898.35 986.59 L900.4 986.6 L902.45 986.61 L904.5 986.62 L906.55 986.63 L908.6 986.65 L910.65 986.66 L912.7 986.67 L914.75 986.68 L916.8 986.69 L918.85 986.7 L920.9 986.71 L922.95 986.72 L925 986.73 L927.05 986.74 L929.1 986.75 L931.15 986.76 L933.2 986.77 L935.25 986.78 L937.3 986.78 L939.35 986.79 L941.4 986.8 L943.45 986.81 L945.5 986.82 L947.55 986.83 L949.6 986.84 L951.65 986.85 L953.7 986.86 L955.75 986.86 L957.8 986.87 L959.85 986.88 L961.9 986.89 L963.95 986.9 L966 986.91 L968.05 986.92 L970.1 986.93 L972.15 986.94 L974.2 986.94 L976.25 986.95 L978.3 986.96 L980.35 986.97 L982.4 986.98 L984.45 986.99 L986.5 987 L988.55 987.01 L990.6 987.02 L992.65 987.03 L994.7 987.04 L996.75 987.05 L998.8 987.06 L1000.85 987.07 L1002.9 987.08 L1004.95 987.09 L1007 987.1 L1009.05 987.11 L1011.1 987.12 L1013.15 987.13 L1015.2 987.14 L1017.25 987.15 L1019.3 987.16 L1021.35 987.17 L1023.4 987.18 L1025.45 987.19 L1027.5 987.2 L1029.55 987.21 L1031.6 987.22 L1033.65 987.23 L1035.7 987.24 L1037.75 987.25 L1039.8 987.26 L1041.85 987.27 L1043.9 987.28 L1045.95 987.29 L1048 987.3 L1050.05 987.31 L1052.1 987.32 L1054.15 987.33 L1056.2 987.34 L1058.25 987.35 L1060.3 987.36 L1062.35 987.37 L1064.4 987.38 L1066.45 987.39 L1068.5 987.4 L1070.55 987.41 L1072.6 987.42 L1074.65 987.43 L1076.7 987.44 L1078.75 987.44 L1080.8 987.45 L1082.85 987.46 L1084.9 987.47 L1086.95 987.48 L1089 987.49 L1091.05 987.5 L1093.1 987.51 L1095.15 987.52 L1097.2 987.53 L1099.25 987.54 L1101.3 987.55 L1103.35 987.56 L1105.4 987.57 L1107.45 987.58 L1109.5 987.59 L1111.55 987.6 L1113.6 987.61 L1115.65 987.62 L1117.7 987.63 L1119.75 987.64 L1121.8 987.65 L1123.85 987.66 L1125.9 987.67 L1127.95 987.68 L1130 987.69 L1132.05 987.7 L1134.1 987.71 L1136.15 987.73 L1138.2 987.74 L1140.25 987.75 L1142.3 987.76 L1144.35 987.77 L1146.4 987.78 L1148.45 987.8 L1150.5 987.81 L1152.55 987.82 L1154.6 987.83 L1156.65 987.84 L1158.7 987.86 L1160.75 987.87 L1162.8 987.88 L1164.85 987.89 L1166.9 987.9 L1168.95 987.92 L1171 987.93 L1173.05 987.94 L1175.1 987.95 L1177.15 987.96 L1179.2 987.97 L1181.25 987.98 L1183.3 987.99 L1185.35 988.01 L1187.4 988.02 L1189.45 988.03 L1191.5 988.04 L1193.55 988.04 L1195.6 988.05 L1197.65 988.06 L1199.7 988.07 L1201.75 988.08 L1203.8 988.09 L1205.85 988.09 L1207.9 988.1 L1209.95 988.11 L1212 988.11 L1214.05 988.12 L1216.1 988.12 L1218.15 988.13 L1220.2 988.13 L1222.25 988.14 L1224.3 988.14 L1226.35 988.14 L1228.4 988.14 L1230.45 988.15 L1232.5 988.15 L1234.55 988.15 L1236.6 988.15 L1238.65 988.15 L1240.7 988.15 L1242.75 988.15 L1244.8 988.15 L1246.85 988.15 L1248.9 988.14 L1250.95 988.14 L1253 988.14 L1255.05 988.14 L1257.1 988.14 L1259.15 988.14 L1261.2 988.14 L1263.25 988.13 L1265.3 988.13 L1267.35 988.13 L1269.4 988.13 L1271.45 988.13 L1273.5 988.13 L1275.55 988.12 L1277.6 988.12 L1279.65 988.12 L1281.7 988.12 L1283.75 988.12 L1285.8 988.12 L1287.85 988.12 L1289.9 988.12 L1291.95 988.12 L1294 988.12 L1296.05 988.13 L1298.1 988.13 L1300.15 988.13 L1302.2 988.13 L1304.25 988.14 L1306.3 988.14 L1308.35 988.14 L1310.4 988.15 L1312.45 988.15 L1314.5 988.16 L1316.55 988.17 L1318.6 988.17 L1320.65 988.18 L1322.7 988.19 L1324.75 988.19 L1326.8 988.2 L1328.85 988.21 L1330.9 988.22 L1332.95 988.23 L1335 988.24 L1337.05 988.25 L1339.1 988.26 L1341.15 988.27 L1343.2 988.28 L1345.25 988.29 L1347.3 988.3 L1349.35 988.31 L1351.4 988.32 L1353.45 988.34 L1355.5 988.35 L1357.55 988.36 L1359.6 988.37 L1361.65 988.39 L1363.7 988.4 L1365.75 988.41 L1367.8 988.42 L1369.85 988.44 L1371.9 988.45 L1373.95 988.46 L1376 988.48 L1378.05 988.49 L1380.1 988.5 L1382.15 988.52 L1384.2 988.53" stroke="#000000" stroke-width="4.3" fill="none" stroke-linecap="round" stroke-dasharray="13.9 24.5"/><rect x="224.9" y="898.75" width="22.6" height="22.6" fill="#fff" stroke="#000000" stroke-width="1.6"/><rect x="306.9" y="920.13" width="22.6" height="22.6" fill="#fff" stroke="#000000" stroke-width="1.6"/><rect x="388.9" y="965.75" width="22.6" height="22.6" fill="#fff" stroke="#000000" stroke-width="1.6"/><rect x="470.9" y="964.16" width="22.6" height="22.6" fill="#fff" stroke="#000000" stroke-width="1.6"/><rect x="552.9" y="969.15" width="22.6" height="22.6" fill="#fff" stroke="#000000" stroke-width="1.6"/><rect x="634.9" y="970.89" width="22.6" height="22.6" fill="#fff" stroke="#000000" stroke-width="1.6"/><rect x="716.9" y="972.87" width="22.6" height="22.6" fill="#fff" stroke="#000000" stroke-width="1.6"/><rect x="798.9" y="974.46" width="22.6" height="22.6" fill="#fff" stroke="#000000" stroke-width="1.6"/><rect x="880.9" y="975.25" width="22.6" height="22.6" fill="#fff" stroke="#000000" stroke-width="1.6"/><rect x="962.9" y="975.64" width="22.6" height="22.6" fill="#fff" stroke="#000000" stroke-width="1.6"/><rect x="1044.9" y="976.04" width="22.6" height="22.6" fill="#fff" stroke="#000000" stroke-width="1.6"/><rect x="1126.9" y="976.44" width="22.6" height="22.6" fill="#fff" stroke="#000000" stroke-width="1.6"/><rect x="1208.9" y="976.83" width="22.6" height="22.6" fill="#fff" stroke="#000000" stroke-width="1.6"/><rect x="1290.9" y="976.83" width="22.6" height="22.6" fill="#fff" stroke="#000000" stroke-width="1.6"/><rect x="1372.9" y="977.23" width="22.6" height="22.6" fill="#fff" stroke="#000000" stroke-width="1.6"/><path d="M236.2 979.82 L238.25 979.14 L240.3 978.46 L242.35 977.75 L244.4 977.03 L246.45 976.26 L248.5 975.45 L250.55 974.59 L252.6 973.67 L254.65 972.68 L256.7 971.61 L258.75 970.45 L260.8 969.2 L262.85 967.84 L264.9 966.37 L266.95 964.77 L269 963.05 L271.05 961.18 L273.1 959.16 L275.15 956.99 L277.2 954.65 L279.25 952.14 L281.3 949.44 L283.35 946.55 L285.4 943.45 L287.45 940.15 L289.5 936.63 L291.55 932.88 L293.6 928.9 L295.65 924.67 L297.7 920.18 L299.75 915.43 L301.8 910.42 L303.85 905.12 L305.9 899.53 L307.95 893.64 L310 887.45 L312.05 880.95 L314.1 874.12 L316.15 866.95 L318.2 859.45 L320.25 851.6 L322.3 843.42 L324.35 834.94 L326.4 826.18 L328.45 817.17 L330.5 807.92 L332.55 798.46 L334.6 788.81 L336.65 779 L338.7 769.04 L340.75 758.98 L342.8 748.81 L344.85 738.58 L346.9 728.3 L348.95 718 L351 707.69 L353.05 697.41 L355.1 687.18 L357.15 677.01 L359.2 666.94 L361.25 656.99 L363.3 647.17 L365.35 637.51 L367.4 628.05 L369.45 618.79 L371.5 609.76 L373.55 601 L375.6 592.51 L377.65 584.32 L379.7 576.46 L381.75 568.95 L383.8 561.81 L385.85 555.06 L387.9 548.74 L389.95 542.86 L392 537.44 L394.05 532.52 L396.1 528.11 L398.15 524.23 L400.2 520.91 L402.25 518.17 L404.3 515.99 L406.35 514.36 L408.4 513.25 L410.45 512.65 L412.5 512.53 L414.55 512.89 L416.6 513.69 L418.65 514.93 L420.7 516.57 L422.75 518.61 L424.8 521.03 L426.85 523.8 L428.9 526.9 L430.95 530.33 L433 534.05 L435.05 538.05 L437.1 542.31 L439.15 546.81 L441.2 551.53 L443.25 556.46 L445.3 561.57 L447.35 566.84 L449.4 572.26 L451.45 577.81 L453.5 583.47 L455.55 589.22 L457.6 595.04 L459.65 600.91 L461.7 606.81 L463.75 612.73 L465.8 618.64 L467.85 624.52 L469.9 630.37 L471.95 636.15 L474 641.85 L476.05 647.45 L478.1 652.93 L480.15 658.27 L482.2 663.45 L484.25 668.47 L486.3 673.31 L488.35 677.98 L490.4 682.5 L492.45 686.85 L494.5 691.06 L496.55 695.12 L498.6 699.03 L500.65 702.81 L502.7 706.45 L504.75 709.97 L506.8 713.36 L508.85 716.64 L510.9 719.8 L512.95 722.85 L515 725.8 L517.05 728.64 L519.1 731.4 L521.15 734.06 L523.2 736.64 L525.25 739.14 L527.3 741.56 L529.35 743.91 L531.4 746.2 L533.45 748.42 L535.5 750.59 L537.55 752.71 L539.6 754.78 L541.65 756.81 L543.7 758.8 L545.75 760.76 L547.8 762.69 L549.85 764.6 L551.9 766.49 L553.95 768.37 L556 770.24 L558.05 772.1 L560.1 773.97 L562.15 775.84 L564.2 777.72 L566.25 779.62 L568.3 781.54 L570.35 783.46 L572.4 785.4 L574.45 787.35 L576.5 789.32 L578.55 791.29 L580.6 793.28 L582.65 795.28 L584.7 797.28 L586.75 799.29 L588.8 801.31 L590.85 803.34 L592.9 805.37 L594.95 807.4 L597 809.44 L599.05 811.49 L601.1 813.53 L603.15 815.58 L605.2 817.63 L607.25 819.68 L609.3 821.73 L611.35 823.78 L613.4 825.83 L615.45 827.87 L617.5 829.91 L619.55 831.95 L621.6 833.98 L623.65 836.01 L625.7 838.03 L627.75 840.04 L629.8 842.04 L631.85 844.04 L633.9 846.03 L635.95 848 L638 849.97 L640.05 851.92 L642.1 853.86 L644.15 855.79 L646.2 857.71 L648.25 859.61 L650.3 861.49 L652.35 863.36 L654.4 865.21 L656.45 867.05 L658.5 868.87 L660.55 870.68 L662.6 872.47 L664.65 874.24 L666.7 875.99 L668.75 877.73 L670.8 879.44 L672.85 881.14 L674.9 882.82 L676.95 884.48 L679 886.12 L681.05 887.75 L683.1 889.35 L685.15 890.93 L687.2 892.49 L689.25 894.03 L691.3 895.54 L693.35 897.04 L695.4 898.51 L697.45 899.97 L699.5 901.4 L701.55 902.8 L703.6 904.18 L705.65 905.54 L707.7 906.88 L709.75 908.19 L711.8 909.47 L713.85 910.74 L715.9 911.97 L717.95 913.18 L720 914.37 L722.05 915.53 L724.1 916.66 L726.15 917.76 L728.2 918.84 L730.25 919.89 L732.3 920.92 L734.35 921.91 L736.4 922.89 L738.45 923.83 L740.5 924.75 L742.55 925.65 L744.6 926.53 L746.65 927.38 L748.7 928.21 L750.75 929.01 L752.8 929.8 L754.85 930.57 L756.9 931.31 L758.95 932.04 L761 932.75 L763.05 933.43 L765.1 934.11 L767.15 934.76 L769.2 935.4 L771.25 936.02 L773.3 936.62 L775.35 937.22 L777.4 937.79 L779.45 938.35 L781.5 938.9 L783.55 939.44 L785.6 939.97 L787.65 940.48 L789.7 940.98 L791.75 941.47 L793.8 941.96 L795.85 942.43 L797.9 942.89 L799.95 943.35 L802 943.8 L804.05 944.24 L806.1 944.67 L808.15 945.1 L810.2 945.53 L812.25 945.95 L814.3 946.36 L816.35 946.77 L818.4 947.18 L820.45 947.58 L822.5 947.98 L824.55 948.37 L826.6 948.76 L828.65 949.14 L830.7 949.52 L832.75 949.9 L834.8 950.27 L836.85 950.63 L838.9 951 L840.95 951.36 L843 951.71 L845.05 952.06 L847.1 952.41 L849.15 952.75 L851.2 953.09 L853.25 953.43 L855.3 953.76 L857.35 954.09 L859.4 954.41 L861.45 954.73 L863.5 955.05 L865.55 955.36 L867.6 955.68 L869.65 955.98 L871.7 956.29 L873.75 956.59 L875.8 956.88 L877.85 957.18 L879.9 957.47 L881.95 957.76 L884 958.04 L886.05 958.32 L888.1 958.6 L890.15 958.88 L892.2 959.15 L894.25 959.42 L896.3 959.69 L898.35 959.95 L900.4 960.21 L902.45 960.47 L904.5 960.73 L906.55 960.98 L908.6 961.23 L910.65 961.48 L912.7 961.72 L914.75 961.96 L916.8 962.2 L918.85 962.44 L920.9 962.68 L922.95 962.91 L925 963.14 L927.05 963.36 L929.1 963.59 L931.15 963.81 L933.2 964.03 L935.25 964.25 L937.3 964.46 L939.35 964.67 L941.4 964.88 L943.45 965.09 L945.5 965.3 L947.55 965.5 L949.6 965.7 L951.65 965.9 L953.7 966.09 L955.75 966.29 L957.8 966.48 L959.85 966.67 L961.9 966.86 L963.95 967.04 L966 967.23 L968.05 967.41 L970.1 967.59 L972.15 967.76 L974.2 967.94 L976.25 968.11 L978.3 968.28 L980.35 968.45 L982.4 968.62 L984.45 968.78 L986.5 968.95 L988.55 969.11 L990.6 969.27 L992.65 969.43 L994.7 969.58 L996.75 969.74 L998.8 969.89 L1000.85 970.04 L1002.9 970.19 L1004.95 970.33 L1007 970.48 L1009.05 970.62 L1011.1 970.76 L1013.15 970.9 L1015.2 971.04 L1017.25 971.18 L1019.3 971.31 L1021.35 971.45 L1023.4 971.58 L1025.45 971.71 L1027.5 971.84 L1029.55 971.97 L1031.6 972.09 L1033.65 972.21 L1035.7 972.34 L1037.75 972.46 L1039.8 972.58 L1041.85 972.7 L1043.9 972.81 L1045.95 972.93 L1048 973.04 L1050.05 973.15 L1052.1 973.26 L1054.15 973.37 L1056.2 973.48 L1058.25 973.59 L1060.3 973.69 L1062.35 973.8 L1064.4 973.9 L1066.45 974 L1068.5 974.1 L1070.55 974.2 L1072.6 974.3 L1074.65 974.4 L1076.7 974.5 L1078.75 974.59 L1080.8 974.69 L1082.85 974.78 L1084.9 974.87 L1086.95 974.96 L1089 975.05 L1091.05 975.14 L1093.1 975.23 L1095.15 975.32 L1097.2 975.41 L1099.25 975.5 L1101.3 975.58 L1103.35 975.67 L1105.4 975.75 L1107.45 975.84 L1109.5 975.92 L1111.55 976 L1113.6 976.08 L1115.65 976.17 L1117.7 976.25 L1119.75 976.33 L1121.8 976.41 L1123.85 976.49 L1125.9 976.57 L1127.95 976.65 L1130 976.73 L1132.05 976.81 L1134.1 976.89 L1136.15 976.97 L1138.2 977.05 L1140.25 977.12 L1142.3 977.2 L1144.35 977.28 L1146.4 977.36 L1148.45 977.44 L1150.5 977.51 L1152.55 977.59 L1154.6 977.67 L1156.65 977.75 L1158.7 977.82 L1160.75 977.9 L1162.8 977.97 L1164.85 978.05 L1166.9 978.12 L1168.95 978.19 L1171 978.27 L1173.05 978.34 L1175.1 978.41 L1177.15 978.48 L1179.2 978.55 L1181.25 978.62 L1183.3 978.69 L1185.35 978.76 L1187.4 978.82 L1189.45 978.89 L1191.5 978.95 L1193.55 979.02 L1195.6 979.08 L1197.65 979.14 L1199.7 979.2 L1201.75 979.26 L1203.8 979.32 L1205.85 979.38 L1207.9 979.43 L1209.95 979.49 L1212 979.54 L1214.05 979.59 L1216.1 979.64 L1218.15 979.69 L1220.2 979.74 L1222.25 979.78 L1224.3 979.83 L1226.35 979.87 L1228.4 979.91 L1230.45 979.96 L1232.5 979.99 L1234.55 980.03 L1236.6 980.07 L1238.65 980.11 L1240.7 980.14 L1242.75 980.18 L1244.8 980.21 L1246.85 980.24 L1248.9 980.27 L1250.95 980.31 L1253 980.34 L1255.05 980.37 L1257.1 980.4 L1259.15 980.42 L1261.2 980.45 L1263.25 980.48 L1265.3 980.51 L1267.35 980.54 L1269.4 980.56 L1271.45 980.59 L1273.5 980.62 L1275.55 980.64 L1277.6 980.67 L1279.65 980.7 L1281.7 980.72 L1283.75 980.75 L1285.8 980.78 L1287.85 980.8 L1289.9 980.83 L1291.95 980.86 L1294 980.89 L1296.05 980.92 L1298.1 980.95 L1300.15 980.97 L1302.2 981.01 L1304.25 981.04 L1306.3 981.07 L1308.35 981.1 L1310.4 981.13 L1312.45 981.17 L1314.5 981.2 L1316.55 981.24 L1318.6 981.27 L1320.65 981.31 L1322.7 981.34 L1324.75 981.38 L1326.8 981.42 L1328.85 981.45 L1330.9 981.49 L1332.95 981.53 L1335 981.57 L1337.05 981.61 L1339.1 981.65 L1341.15 981.69 L1343.2 981.73 L1345.25 981.77 L1347.3 981.81 L1349.35 981.85 L1351.4 981.9 L1353.45 981.94 L1355.5 981.98 L1357.55 982.02 L1359.6 982.07 L1361.65 982.11 L1363.7 982.15 L1365.75 982.19 L1367.8 982.24 L1369.85 982.28 L1371.9 982.33 L1373.95 982.37 L1376 982.41 L1378.05 982.46 L1380.1 982.5 L1382.15 982.55 L1384.2 982.59" stroke="#ff0000" stroke-width="4.3" fill="none" stroke-linecap="round" stroke-dasharray="13.9 24.5"/><circle cx="236.2" cy="979.82" r="12.1" fill="#fff" stroke="#ff0000" stroke-width="1.6"/><circle cx="318.2" cy="859.45" r="12.1" fill="#fff" stroke="#ff0000" stroke-width="1.6"/><circle cx="400.2" cy="520.91" r="12.1" fill="#fff" stroke="#ff0000" stroke-width="1.6"/><circle cx="482.2" cy="663.45" r="12.1" fill="#fff" stroke="#ff0000" stroke-width="1.6"/><circle cx="564.2" cy="777.72" r="12.1" fill="#fff" stroke="#ff0000" stroke-width="1.6"/><circle cx="646.2" cy="857.71" r="12.1" fill="#fff" stroke="#ff0000" stroke-width="1.6"/><circle cx="728.2" cy="918.84" r="12.1" fill="#fff" stroke="#ff0000" stroke-width="1.6"/><circle cx="810.2" cy="945.53" r="12.1" fill="#fff" stroke="#ff0000" stroke-width="1.6"/><circle cx="892.2" cy="959.15" r="12.1" fill="#fff" stroke="#ff0000" stroke-width="1.6"/><circle cx="974.2" cy="967.94" r="12.1" fill="#fff" stroke="#ff0000" stroke-width="1.6"/><circle cx="1056.2" cy="973.48" r="12.1" fill="#fff" stroke="#ff0000" stroke-width="1.6"/><circle cx="1138.2" cy="977.05" r="12.1" fill="#fff" stroke="#ff0000" stroke-width="1.6"/><circle cx="1220.2" cy="979.74" r="12.1" fill="#fff" stroke="#ff0000" stroke-width="1.6"/><circle cx="1302.2" cy="981.01" r="12.1" fill="#fff" stroke="#ff0000" stroke-width="1.6"/><circle cx="1384.2" cy="982.59" r="12.1" fill="#fff" stroke="#ff0000" stroke-width="1.6"/><path d="M236.2 988.13 L238.25 969.02 L240.3 949.92 L242.35 930.85 L244.4 911.81 L246.45 892.81 L248.5 873.88 L250.55 855.02 L252.6 836.24 L254.65 817.55 L256.7 798.97 L258.75 780.51 L260.8 762.18 L262.85 743.99 L264.9 725.95 L266.95 708.08 L269 690.39 L271.05 672.89 L273.1 655.58 L275.15 638.49 L277.2 621.62 L279.25 604.99 L281.3 588.61 L283.35 572.49 L285.4 556.64 L287.45 541.07 L289.5 525.8 L291.55 510.84 L293.6 496.19 L295.65 481.88 L297.7 467.9 L299.75 454.29 L301.8 441.03 L303.85 428.16 L305.9 415.68 L307.95 403.6 L310 391.93 L312.05 380.68 L314.1 369.88 L316.15 359.52 L318.2 349.62 L320.25 340.2 L322.3 331.23 L324.35 322.73 L326.4 314.67 L328.45 307.05 L330.5 299.87 L332.55 293.1 L334.6 286.76 L336.65 280.82 L338.7 275.29 L340.75 270.14 L342.8 265.38 L344.85 261 L346.9 256.98 L348.95 253.32 L351 250.02 L353.05 247.06 L355.1 244.43 L357.15 242.13 L359.2 240.15 L361.25 238.49 L363.3 237.12 L365.35 236.06 L367.4 235.28 L369.45 234.77 L371.5 234.54 L373.55 234.58 L375.6 234.87 L377.65 235.4 L379.7 236.18 L381.75 237.18 L383.8 238.41 L385.85 239.86 L387.9 241.51 L389.95 243.36 L392 245.4 L394.05 247.62 L396.1 250.02 L398.15 252.58 L400.2 255.31 L402.25 258.18 L404.3 261.2 L406.35 264.36 L408.4 267.66 L410.45 271.08 L412.5 274.63 L414.55 278.29 L416.6 282.07 L418.65 285.95 L420.7 289.94 L422.75 294.02 L424.8 298.2 L426.85 302.46 L428.9 306.8 L430.95 311.22 L433 315.71 L435.05 320.26 L437.1 324.87 L439.15 329.53 L441.2 334.24 L443.25 339 L445.3 343.79 L447.35 348.62 L449.4 353.47 L451.45 358.34 L453.5 363.23 L455.55 368.13 L457.6 373.03 L459.65 377.93 L461.7 382.83 L463.75 387.72 L465.8 392.59 L467.85 397.44 L469.9 402.26 L471.95 407.05 L474 411.8 L476.05 416.51 L478.1 421.17 L480.15 425.77 L482.2 430.32 L484.25 434.8 L486.3 439.22 L488.35 443.58 L490.4 447.88 L492.45 452.12 L494.5 456.31 L496.55 460.45 L498.6 464.53 L500.65 468.57 L502.7 472.56 L504.75 476.51 L506.8 480.42 L508.85 484.29 L510.9 488.12 L512.95 491.92 L515 495.68 L517.05 499.41 L519.1 503.11 L521.15 506.79 L523.2 510.44 L525.25 514.07 L527.3 517.68 L529.35 521.27 L531.4 524.84 L533.45 528.41 L535.5 531.95 L537.55 535.49 L539.6 539.02 L541.65 542.55 L543.7 546.07 L545.75 549.59 L547.8 553.11 L549.85 556.64 L551.9 560.17 L553.95 563.7 L556 567.25 L558.05 570.81 L560.1 574.38 L562.15 577.97 L564.2 581.57 L566.25 585.19 L568.3 588.84 L570.35 592.5 L572.4 596.18 L574.45 599.87 L576.5 603.58 L578.55 607.3 L580.6 611.04 L582.65 614.79 L584.7 618.55 L586.75 622.31 L588.8 626.09 L590.85 629.88 L592.9 633.67 L594.95 637.47 L597 641.28 L599.05 645.08 L601.1 648.9 L603.15 652.71 L605.2 656.53 L607.25 660.34 L609.3 664.15 L611.35 667.97 L613.4 671.78 L615.45 675.58 L617.5 679.39 L619.55 683.18 L621.6 686.97 L623.65 690.75 L625.7 694.52 L627.75 698.29 L629.8 702.04 L631.85 705.78 L633.9 709.51 L635.95 713.22 L638 716.92 L640.05 720.61 L642.1 724.27 L644.15 727.93 L646.2 731.56 L648.25 735.17 L650.3 738.76 L652.35 742.33 L654.4 745.88 L656.45 749.4 L658.5 752.9 L660.55 756.38 L662.6 759.83 L664.65 763.25 L666.7 766.64 L668.75 770.01 L670.8 773.34 L672.85 776.65 L674.9 779.92 L676.95 783.16 L679 786.36 L681.05 789.54 L683.1 792.67 L685.15 795.77 L687.2 798.83 L689.25 801.85 L691.3 804.84 L693.35 807.78 L695.4 810.68 L697.45 813.54 L699.5 816.36 L701.55 819.13 L703.6 821.86 L705.65 824.54 L707.7 827.18 L709.75 829.77 L711.8 832.3 L713.85 834.79 L715.9 837.23 L717.95 839.62 L720 841.95 L722.05 844.23 L724.1 846.45 L726.15 848.62 L728.2 850.74 L730.25 852.79 L732.3 854.8 L734.35 856.74 L736.4 858.63 L738.45 860.47 L740.5 862.26 L742.55 864 L744.6 865.7 L746.65 867.34 L748.7 868.94 L750.75 870.5 L752.8 872.01 L754.85 873.48 L756.9 874.91 L758.95 876.31 L761 877.66 L763.05 878.98 L765.1 880.26 L767.15 881.51 L769.2 882.73 L771.25 883.91 L773.3 885.07 L775.35 886.2 L777.4 887.3 L779.45 888.37 L781.5 889.42 L783.55 890.45 L785.6 891.46 L787.65 892.44 L789.7 893.41 L791.75 894.35 L793.8 895.28 L795.85 896.2 L797.9 897.1 L799.95 897.99 L802 898.87 L804.05 899.74 L806.1 900.59 L808.15 901.45 L810.2 902.29 L812.25 903.13 L814.3 903.97 L816.35 904.8 L818.4 905.62 L820.45 906.44 L822.5 907.25 L824.55 908.06 L826.6 908.87 L828.65 909.66 L830.7 910.45 L832.75 911.24 L834.8 912.02 L836.85 912.79 L838.9 913.56 L840.95 914.32 L843 915.07 L845.05 915.81 L847.1 916.55 L849.15 917.28 L851.2 918.01 L853.25 918.73 L855.3 919.44 L857.35 920.14 L859.4 920.83 L861.45 921.52 L863.5 922.2 L865.55 922.87 L867.6 923.53 L869.65 924.19 L871.7 924.83 L873.75 925.47 L875.8 926.1 L877.85 926.72 L879.9 927.33 L881.95 927.93 L884 928.52 L886.05 929.11 L888.1 929.68 L890.15 930.24 L892.2 930.8 L894.25 931.34 L896.3 931.88 L898.35 932.4 L900.4 932.92 L902.45 933.43 L904.5 933.93 L906.55 934.42 L908.6 934.9 L910.65 935.37 L912.7 935.83 L914.75 936.29 L916.8 936.74 L918.85 937.18 L920.9 937.61 L922.95 938.04 L925 938.45 L927.05 938.87 L929.1 939.27 L931.15 939.67 L933.2 940.06 L935.25 940.44 L937.3 940.82 L939.35 941.2 L941.4 941.56 L943.45 941.92 L945.5 942.28 L947.55 942.63 L949.6 942.98 L951.65 943.32 L953.7 943.65 L955.75 943.99 L957.8 944.31 L959.85 944.64 L961.9 944.96 L963.95 945.27 L966 945.58 L968.05 945.89 L970.1 946.2 L972.15 946.5 L974.2 946.8 L976.25 947.09 L978.3 947.38 L980.35 947.67 L982.4 947.96 L984.45 948.25 L986.5 948.53 L988.55 948.81 L990.6 949.09 L992.65 949.36 L994.7 949.63 L996.75 949.9 L998.8 950.17 L1000.85 950.43 L1002.9 950.7 L1004.95 950.96 L1007 951.21 L1009.05 951.47 L1011.1 951.72 L1013.15 951.97 L1015.2 952.22 L1017.25 952.47 L1019.3 952.71 L1021.35 952.95 L1023.4 953.19 L1025.45 953.43 L1027.5 953.67 L1029.55 953.9 L1031.6 954.13 L1033.65 954.36 L1035.7 954.59 L1037.75 954.82 L1039.8 955.04 L1041.85 955.26 L1043.9 955.48 L1045.95 955.7 L1048 955.92 L1050.05 956.14 L1052.1 956.35 L1054.15 956.56 L1056.2 956.77 L1058.25 956.98 L1060.3 957.19 L1062.35 957.4 L1064.4 957.6 L1066.45 957.8 L1068.5 958 L1070.55 958.2 L1072.6 958.4 L1074.65 958.6 L1076.7 958.79 L1078.75 958.99 L1080.8 959.18 L1082.85 959.37 L1084.9 959.56 L1086.95 959.74 L1089 959.93 L1091.05 960.11 L1093.1 960.29 L1095.15 960.48 L1097.2 960.65 L1099.25 960.83 L1101.3 961.01 L1103.35 961.18 L1105.4 961.35 L1107.45 961.53 L1109.5 961.7 L1111.55 961.86 L1113.6 962.03 L1115.65 962.19 L1117.7 962.36 L1119.75 962.52 L1121.8 962.68 L1123.85 962.84 L1125.9 962.99 L1127.95 963.15 L1130 963.3 L1132.05 963.45 L1134.1 963.6 L1136.15 963.75 L1138.2 963.9 L1140.25 964.05 L1142.3 964.19 L1144.35 964.33 L1146.4 964.47 L1148.45 964.61 L1150.5 964.75 L1152.55 964.89 L1154.6 965.02 L1156.65 965.15 L1158.7 965.29 L1160.75 965.42 L1162.8 965.55 L1164.85 965.68 L1166.9 965.8 L1168.95 965.93 L1171 966.05 L1173.05 966.18 L1175.1 966.3 L1177.15 966.42 L1179.2 966.54 L1181.25 966.66 L1183.3 966.77 L1185.35 966.89 L1187.4 967.01 L1189.45 967.12 L1191.5 967.23 L1193.55 967.35 L1195.6 967.46 L1197.65 967.57 L1199.7 967.68 L1201.75 967.79 L1203.8 967.89 L1205.85 968 L1207.9 968.11 L1209.95 968.21 L1212 968.32 L1214.05 968.42 L1216.1 968.53 L1218.15 968.63 L1220.2 968.73 L1222.25 968.83 L1224.3 968.93 L1226.35 969.03 L1228.4 969.13 L1230.45 969.23 L1232.5 969.33 L1234.55 969.43 L1236.6 969.53 L1238.65 969.62 L1240.7 969.72 L1242.75 969.81 L1244.8 969.91 L1246.85 970 L1248.9 970.1 L1250.95 970.19 L1253 970.28 L1255.05 970.38 L1257.1 970.47 L1259.15 970.56 L1261.2 970.65 L1263.25 970.74 L1265.3 970.83 L1267.35 970.92 L1269.4 971.01 L1271.45 971.1 L1273.5 971.19 L1275.55 971.27 L1277.6 971.36 L1279.65 971.45 L1281.7 971.53 L1283.75 971.62 L1285.8 971.7 L1287.85 971.79 L1289.9 971.87 L1291.95 971.96 L1294 972.04 L1296.05 972.13 L1298.1 972.21 L1300.15 972.29 L1302.2 972.37 L1304.25 972.46 L1306.3 972.54 L1308.35 972.62 L1310.4 972.7 L1312.45 972.78 L1314.5 972.86 L1316.55 972.94 L1318.6 973.02 L1320.65 973.1 L1322.7 973.18 L1324.75 973.26 L1326.8 973.33 L1328.85 973.41 L1330.9 973.49 L1332.95 973.57 L1335 973.65 L1337.05 973.72 L1339.1 973.8 L1341.15 973.88 L1343.2 973.95 L1345.25 974.03 L1347.3 974.11 L1349.35 974.18 L1351.4 974.26 L1353.45 974.34 L1355.5 974.41 L1357.55 974.49 L1359.6 974.56 L1361.65 974.64 L1363.7 974.71 L1365.75 974.79 L1367.8 974.86 L1369.85 974.94 L1371.9 975.01 L1373.95 975.09 L1376 975.16 L1378.05 975.24 L1380.1 975.31 L1382.15 975.39 L1384.2 975.46" stroke="#0000ff" stroke-width="4.3" fill="none" stroke-linecap="round" stroke-dasharray="13.9 24.5"/><polygon points="236.2,971.2 250.9,996.6 221.5,996.6" fill="#fff" stroke="#0000ff" stroke-width="1.6" stroke-linejoin="miter"/><polygon points="318.2,332.69 332.9,358.09 303.5,358.09" fill="#fff" stroke="#0000ff" stroke-width="1.6" stroke-linejoin="miter"/><polygon points="400.2,238.37 414.9,263.77 385.5,263.77" fill="#fff" stroke="#0000ff" stroke-width="1.6" stroke-linejoin="miter"/><polygon points="482.2,413.38 496.9,438.78 467.5,438.78" fill="#fff" stroke="#0000ff" stroke-width="1.6" stroke-linejoin="miter"/><polygon points="564.2,564.64 578.9,590.04 549.5,590.04" fill="#fff" stroke="#0000ff" stroke-width="1.6" stroke-linejoin="miter"/><polygon points="646.2,714.62 660.9,740.02 631.5,740.02" fill="#fff" stroke="#0000ff" stroke-width="1.6" stroke-linejoin="miter"/><polygon points="728.2,833.8 742.9,859.2 713.5,859.2" fill="#fff" stroke="#0000ff" stroke-width="1.6" stroke-linejoin="miter"/><polygon points="810.2,885.36 824.9,910.76 795.5,910.76" fill="#fff" stroke="#0000ff" stroke-width="1.6" stroke-linejoin="miter"/><polygon points="892.2,913.87 906.9,939.27 877.5,939.27" fill="#fff" stroke="#0000ff" stroke-width="1.6" stroke-linejoin="miter"/><polygon points="974.2,929.86 988.9,955.26 959.5,955.26" fill="#fff" stroke="#0000ff" stroke-width="1.6" stroke-linejoin="miter"/><polygon points="1056.2,939.84 1070.9,965.24 1041.5,965.24" fill="#fff" stroke="#0000ff" stroke-width="1.6" stroke-linejoin="miter"/><polygon points="1138.2,946.97 1152.9,972.37 1123.5,972.37" fill="#fff" stroke="#0000ff" stroke-width="1.6" stroke-linejoin="miter"/><polygon points="1220.2,951.8 1234.9,977.2 1205.5,977.2" fill="#fff" stroke="#0000ff" stroke-width="1.6" stroke-linejoin="miter"/><polygon points="1302.2,955.44 1316.9,980.84 1287.5,980.84" fill="#fff" stroke="#0000ff" stroke-width="1.6" stroke-linejoin="miter"/><polygon points="1384.2,958.53 1398.9,983.93 1369.5,983.93" fill="#fff" stroke="#0000ff" stroke-width="1.6" stroke-linejoin="miter"/><path d="M236.2 991.3 L238.25 991.27 L240.3 991.25 L242.35 991.22 L244.4 991.2 L246.45 991.17 L248.5 991.15 L250.55 991.12 L252.6 991.1 L254.65 991.07 L256.7 991.05 L258.75 991.03 L260.8 991 L262.85 990.98 L264.9 990.96 L266.95 990.94 L269 990.92 L271.05 990.9 L273.1 990.89 L275.15 990.87 L277.2 990.86 L279.25 990.84 L281.3 990.83 L283.35 990.82 L285.4 990.81 L287.45 990.8 L289.5 990.8 L291.55 990.79 L293.6 990.79 L295.65 990.79 L297.7 990.79 L299.75 990.79 L301.8 990.8 L303.85 990.8 L305.9 990.81 L307.95 990.82 L310 990.83 L312.05 990.85 L314.1 990.86 L316.15 990.88 L318.2 990.9 L320.25 990.93 L322.3 990.95 L324.35 990.98 L326.4 991.01 L328.45 991.04 L330.5 991.07 L332.55 991.1 L334.6 991.12 L336.65 991.15 L338.7 991.18 L340.75 991.2 L342.8 991.22 L344.85 991.24 L346.9 991.25 L348.95 991.26 L351 991.27 L353.05 991.27 L355.1 991.27 L357.15 991.26 L359.2 991.24 L361.25 991.22 L363.3 991.19 L365.35 991.15 L367.4 991.11 L369.45 991.05 L371.5 990.99 L373.55 990.92 L375.6 990.84 L377.65 990.74 L379.7 990.64 L381.75 990.53 L383.8 990.4 L385.85 990.26 L387.9 990.11 L389.95 989.95 L392 989.77 L394.05 989.58 L396.1 989.38 L398.15 989.16 L400.2 988.92 L402.25 988.67 L404.3 988.41 L406.35 988.13 L408.4 987.83 L410.45 987.53 L412.5 987.21 L414.55 986.88 L416.6 986.53 L418.65 986.18 L420.7 985.82 L422.75 985.44 L424.8 985.06 L426.85 984.67 L428.9 984.27 L430.95 983.87 L433 983.46 L435.05 983.04 L437.1 982.62 L439.15 982.19 L441.2 981.76 L443.25 981.33 L445.3 980.89 L447.35 980.46 L449.4 980.02 L451.45 979.58 L453.5 979.14 L455.55 978.7 L457.6 978.26 L459.65 977.82 L461.7 977.39 L463.75 976.96 L465.8 976.53 L467.85 976.11 L469.9 975.69 L471.95 975.28 L474 974.87 L476.05 974.47 L478.1 974.08 L480.15 973.7 L482.2 973.32 L484.25 972.96 L486.3 972.6 L488.35 972.26 L490.4 971.92 L492.45 971.59 L494.5 971.27 L496.55 970.96 L498.6 970.66 L500.65 970.37 L502.7 970.09 L504.75 969.82 L506.8 969.56 L508.85 969.31 L510.9 969.06 L512.95 968.83 L515 968.61 L517.05 968.39 L519.1 968.19 L521.15 968 L523.2 967.81 L525.25 967.64 L527.3 967.47 L529.35 967.32 L531.4 967.17 L533.45 967.04 L535.5 966.91 L537.55 966.79 L539.6 966.69 L541.65 966.59 L543.7 966.51 L545.75 966.43 L547.8 966.36 L549.85 966.31 L551.9 966.26 L553.95 966.23 L556 966.2 L558.05 966.18 L560.1 966.18 L562.15 966.18 L564.2 966.2 L566.25 966.22 L568.3 966.26 L570.35 966.3 L572.4 966.35 L574.45 966.41 L576.5 966.48 L578.55 966.56 L580.6 966.65 L582.65 966.74 L584.7 966.84 L586.75 966.95 L588.8 967.06 L590.85 967.18 L592.9 967.31 L594.95 967.44 L597 967.58 L599.05 967.72 L601.1 967.86 L603.15 968.01 L605.2 968.17 L607.25 968.32 L609.3 968.48 L611.35 968.64 L613.4 968.81 L615.45 968.98 L617.5 969.15 L619.55 969.32 L621.6 969.49 L623.65 969.66 L625.7 969.83 L627.75 970 L629.8 970.18 L631.85 970.35 L633.9 970.52 L635.95 970.69 L638 970.85 L640.05 971.02 L642.1 971.18 L644.15 971.34 L646.2 971.5 L648.25 971.66 L650.3 971.81 L652.35 971.96 L654.4 972.1 L656.45 972.24 L658.5 972.38 L660.55 972.52 L662.6 972.65 L664.65 972.78 L666.7 972.91 L668.75 973.04 L670.8 973.16 L672.85 973.28 L674.9 973.4 L676.95 973.51 L679 973.63 L681.05 973.74 L683.1 973.85 L685.15 973.95 L687.2 974.06 L689.25 974.16 L691.3 974.26 L693.35 974.36 L695.4 974.46 L697.45 974.56 L699.5 974.65 L701.55 974.75 L703.6 974.84 L705.65 974.93 L707.7 975.02 L709.75 975.11 L711.8 975.19 L713.85 975.28 L715.9 975.36 L717.95 975.45 L720 975.53 L722.05 975.61 L724.1 975.7 L726.15 975.78 L728.2 975.86 L730.25 975.94 L732.3 976.02 L734.35 976.1 L736.4 976.18 L738.45 976.25 L740.5 976.33 L742.55 976.41 L744.6 976.49 L746.65 976.56 L748.7 976.64 L750.75 976.71 L752.8 976.79 L754.85 976.86 L756.9 976.94 L758.95 977.01 L761 977.08 L763.05 977.15 L765.1 977.22 L767.15 977.29 L769.2 977.36 L771.25 977.43 L773.3 977.5 L775.35 977.57 L777.4 977.64 L779.45 977.71 L781.5 977.77 L783.55 977.84 L785.6 977.9 L787.65 977.97 L789.7 978.03 L791.75 978.09 L793.8 978.16 L795.85 978.22 L797.9 978.28 L799.95 978.34 L802 978.4 L804.05 978.46 L806.1 978.52 L808.15 978.57 L810.2 978.63 L812.25 978.69 L814.3 978.74 L816.35 978.8 L818.4 978.85 L820.45 978.9 L822.5 978.95 L824.55 979.01 L826.6 979.06 L828.65 979.11 L830.7 979.16 L832.75 979.21 L834.8 979.26 L836.85 979.3 L838.9 979.35 L840.95 979.4 L843 979.45 L845.05 979.49 L847.1 979.54 L849.15 979.58 L851.2 979.63 L853.25 979.67 L855.3 979.72 L857.35 979.76 L859.4 979.8 L861.45 979.85 L863.5 979.89 L865.55 979.93 L867.6 979.97 L869.65 980.01 L871.7 980.05 L873.75 980.09 L875.8 980.14 L877.85 980.18 L879.9 980.22 L881.95 980.26 L884 980.29 L886.05 980.33 L888.1 980.37 L890.15 980.41 L892.2 980.45 L894.25 980.49 L896.3 980.53 L898.35 980.57 L900.4 980.6 L902.45 980.64 L904.5 980.68 L906.55 980.72 L908.6 980.76 L910.65 980.79 L912.7 980.83 L914.75 980.87 L916.8 980.9 L918.85 980.94 L920.9 980.98 L922.95 981.01 L925 981.05 L927.05 981.08 L929.1 981.12 L931.15 981.15 L933.2 981.19 L935.25 981.22 L937.3 981.25 L939.35 981.29 L941.4 981.32 L943.45 981.35 L945.5 981.39 L947.55 981.42 L949.6 981.45 L951.65 981.48 L953.7 981.51 L955.75 981.54 L957.8 981.57 L959.85 981.6 L961.9 981.63 L963.95 981.66 L966 981.69 L968.05 981.72 L970.1 981.74 L972.15 981.77 L974.2 981.8 L976.25 981.82 L978.3 981.85 L980.35 981.87 L982.4 981.9 L984.45 981.92 L986.5 981.95 L988.55 981.97 L990.6 981.99 L992.65 982.02 L994.7 982.04 L996.75 982.06 L998.8 982.08 L1000.85 982.1 L1002.9 982.12 L1004.95 982.14 L1007 982.16 L1009.05 982.18 L1011.1 982.2 L1013.15 982.22 L1015.2 982.24 L1017.25 982.26 L1019.3 982.28 L1021.35 982.3 L1023.4 982.32 L1025.45 982.34 L1027.5 982.35 L1029.55 982.37 L1031.6 982.39 L1033.65 982.41 L1035.7 982.42 L1037.75 982.44 L1039.8 982.46 L1041.85 982.47 L1043.9 982.49 L1045.95 982.51 L1048 982.52 L1050.05 982.54 L1052.1 982.56 L1054.15 982.57 L1056.2 982.59 L1058.25 982.61 L1060.3 982.62 L1062.35 982.64 L1064.4 982.65 L1066.45 982.67 L1068.5 982.69 L1070.55 982.7 L1072.6 982.72 L1074.65 982.74 L1076.7 982.75 L1078.75 982.77 L1080.8 982.78 L1082.85 982.8 L1084.9 982.82 L1086.95 982.83 L1089 982.85 L1091.05 982.86 L1093.1 982.88 L1095.15 982.9 L1097.2 982.91 L1099.25 982.93 L1101.3 982.94 L1103.35 982.96 L1105.4 982.97 L1107.45 982.99 L1109.5 983.01 L1111.55 983.02 L1113.6 983.04 L1115.65 983.05 L1117.7 983.07 L1119.75 983.08 L1121.8 983.1 L1123.85 983.11 L1125.9 983.13 L1127.95 983.15 L1130 983.16 L1132.05 983.18 L1134.1 983.19 L1136.15 983.21 L1138.2 983.22 L1140.25 983.24 L1142.3 983.25 L1144.35 983.27 L1146.4 983.28 L1148.45 983.3 L1150.5 983.31 L1152.55 983.33 L1154.6 983.34 L1156.65 983.36 L1158.7 983.37 L1160.75 983.39 L1162.8 983.4 L1164.85 983.42 L1166.9 983.43 L1168.95 983.45 L1171 983.46 L1173.05 983.48 L1175.1 983.49 L1177.15 983.5 L1179.2 983.52 L1181.25 983.53 L1183.3 983.55 L1185.35 983.56 L1187.4 983.57 L1189.45 983.59 L1191.5 983.6 L1193.55 983.61 L1195.6 983.63 L1197.65 983.64 L1199.7 983.65 L1201.75 983.67 L1203.8 983.68 L1205.85 983.69 L1207.9 983.7 L1209.95 983.72 L1212 983.73 L1214.05 983.74 L1216.1 983.75 L1218.15 983.77 L1220.2 983.78 L1222.25 983.79 L1224.3 983.8 L1226.35 983.81 L1228.4 983.82 L1230.45 983.83 L1232.5 983.84 L1234.55 983.86 L1236.6 983.87 L1238.65 983.88 L1240.7 983.89 L1242.75 983.9 L1244.8 983.91 L1246.85 983.92 L1248.9 983.93 L1250.95 983.94 L1253 983.95 L1255.05 983.96 L1257.1 983.97 L1259.15 983.98 L1261.2 983.99 L1263.25 984 L1265.3 984.01 L1267.35 984.01 L1269.4 984.02 L1271.45 984.03 L1273.5 984.04 L1275.55 984.05 L1277.6 984.06 L1279.65 984.07 L1281.7 984.08 L1283.75 984.09 L1285.8 984.1 L1287.85 984.11 L1289.9 984.12 L1291.95 984.13 L1294 984.14 L1296.05 984.14 L1298.1 984.15 L1300.15 984.16 L1302.2 984.17 L1304.25 984.18 L1306.3 984.19 L1308.35 984.2 L1310.4 984.21 L1312.45 984.22 L1314.5 984.23 L1316.55 984.24 L1318.6 984.25 L1320.65 984.26 L1322.7 984.27 L1324.75 984.28 L1326.8 984.29 L1328.85 984.3 L1330.9 984.31 L1332.95 984.32 L1335 984.33 L1337.05 984.34 L1339.1 984.35 L1341.15 984.36 L1343.2 984.37 L1345.25 984.38 L1347.3 984.39 L1349.35 984.4 L1351.4 984.41 L1353.45 984.42 L1355.5 984.43 L1357.55 984.44 L1359.6 984.45 L1361.65 984.46 L1363.7 984.47 L1365.75 984.48 L1367.8 984.49 L1369.85 984.5 L1371.9 984.51 L1373.95 984.52 L1376 984.53 L1378.05 984.54 L1380.1 984.55 L1382.15 984.56 L1384.2 984.57" stroke="#000000" stroke-width="3.8" fill="none" stroke-linecap="round" stroke-dasharray="0.01 7.8"/><polygon points="217.73,991.3 245.43,975.3 245.43,1007.3" fill="#000000"/><polygon points="299.73,990.9 327.43,974.9 327.43,1006.9" fill="#000000"/><polygon points="381.73,988.92 409.43,972.92 409.43,1004.92" fill="#000000"/><polygon points="463.73,973.32 491.43,957.32 491.43,989.32" fill="#000000"/><polygon points="545.73,966.2 573.43,950.2 573.43,982.2" fill="#000000"/><polygon points="627.73,971.5 655.43,955.5 655.43,987.5" fill="#000000"/><polygon points="709.73,975.86 737.43,959.86 737.43,991.86" fill="#000000"/><polygon points="791.73,978.63 819.43,962.63 819.43,994.63" fill="#000000"/><polygon points="873.73,980.45 901.43,964.45 901.43,996.45" fill="#000000"/><polygon points="955.73,981.8 983.43,965.8 983.43,997.8" fill="#000000"/><polygon points="1037.73,982.59 1065.43,966.59 1065.43,998.59" fill="#000000"/><polygon points="1119.73,983.22 1147.43,967.22 1147.43,999.22" fill="#000000"/><polygon points="1201.73,983.78 1229.43,967.78 1229.43,999.78" fill="#000000"/><polygon points="1283.73,984.17 1311.43,968.17 1311.43,1000.17" fill="#000000"/><polygon points="1365.73,984.57 1393.43,968.57 1393.43,1000.57" fill="#000000"/><path d="M236.2 991.3 L238.25 990.97 L240.3 990.65 L242.35 990.31 L244.4 989.97 L246.45 989.63 L248.5 989.27 L250.55 988.9 L252.6 988.51 L254.65 988.11 L256.7 987.69 L258.75 987.25 L260.8 986.78 L262.85 986.29 L264.9 985.78 L266.95 985.23 L269 984.65 L271.05 984.04 L273.1 983.39 L275.15 982.71 L277.2 981.98 L279.25 981.22 L281.3 980.41 L283.35 979.55 L285.4 978.65 L287.45 977.69 L289.5 976.68 L291.55 975.62 L293.6 974.5 L295.65 973.32 L297.7 972.09 L299.75 970.79 L301.8 969.42 L303.85 967.99 L305.9 966.48 L307.95 964.91 L310 963.26 L312.05 961.54 L314.1 959.74 L316.15 957.86 L318.2 955.9 L320.25 953.86 L322.3 951.73 L324.35 949.54 L326.4 947.27 L328.45 944.93 L330.5 942.53 L332.55 940.07 L334.6 937.56 L336.65 935 L338.7 932.4 L340.75 929.75 L342.8 927.06 L344.85 924.35 L346.9 921.6 L348.95 918.83 L351 916.05 L353.05 913.24 L355.1 910.43 L357.15 907.6 L359.2 904.78 L361.25 901.96 L363.3 899.14 L365.35 896.33 L367.4 893.54 L369.45 890.76 L371.5 888.01 L373.55 885.29 L375.6 882.6 L377.65 879.94 L379.7 877.32 L381.75 874.75 L383.8 872.23 L385.85 869.76 L387.9 867.34 L389.95 864.99 L392 862.7 L394.05 860.49 L396.1 858.35 L398.15 856.28 L400.2 854.3 L402.25 852.41 L404.3 850.6 L406.35 848.87 L408.4 847.21 L410.45 845.64 L412.5 844.13 L414.55 842.7 L416.6 841.32 L418.65 840.02 L420.7 838.77 L422.75 837.58 L424.8 836.44 L426.85 835.36 L428.9 834.32 L430.95 833.32 L433 832.37 L435.05 831.46 L437.1 830.58 L439.15 829.73 L441.2 828.92 L443.25 828.13 L445.3 827.36 L447.35 826.62 L449.4 825.89 L451.45 825.18 L453.5 824.48 L455.55 823.78 L457.6 823.09 L459.65 822.41 L461.7 821.72 L463.75 821.03 L465.8 820.33 L467.85 819.63 L469.9 818.91 L471.95 818.17 L474 817.42 L476.05 816.64 L478.1 815.84 L480.15 815.01 L482.2 814.15 L484.25 813.26 L486.3 812.33 L488.35 811.38 L490.4 810.4 L492.45 809.4 L494.5 808.38 L496.55 807.33 L498.6 806.27 L500.65 805.2 L502.7 804.12 L504.75 803.03 L506.8 801.93 L508.85 800.83 L510.9 799.73 L512.95 798.64 L515 797.54 L517.05 796.46 L519.1 795.38 L521.15 794.32 L523.2 793.27 L525.25 792.24 L527.3 791.23 L529.35 790.25 L531.4 789.28 L533.45 788.35 L535.5 787.45 L537.55 786.58 L539.6 785.74 L541.65 784.95 L543.7 784.19 L545.75 783.48 L547.8 782.82 L549.85 782.2 L551.9 781.64 L553.95 781.12 L556 780.67 L558.05 780.27 L560.1 779.94 L562.15 779.67 L564.2 779.47 L566.25 779.33 L568.3 779.27 L570.35 779.26 L572.4 779.33 L574.45 779.46 L576.5 779.64 L578.55 779.89 L580.6 780.2 L582.65 780.56 L584.7 780.98 L586.75 781.46 L588.8 781.98 L590.85 782.56 L592.9 783.18 L594.95 783.86 L597 784.57 L599.05 785.34 L601.1 786.14 L603.15 786.99 L605.2 787.88 L607.25 788.8 L609.3 789.76 L611.35 790.76 L613.4 791.79 L615.45 792.85 L617.5 793.94 L619.55 795.06 L621.6 796.21 L623.65 797.38 L625.7 798.58 L627.75 799.8 L629.8 801.04 L631.85 802.3 L633.9 803.58 L635.95 804.88 L638 806.18 L640.05 807.51 L642.1 808.84 L644.15 810.19 L646.2 811.54 L648.25 812.9 L650.3 814.26 L652.35 815.64 L654.4 817.01 L656.45 818.39 L658.5 819.77 L660.55 821.16 L662.6 822.54 L664.65 823.92 L666.7 825.31 L668.75 826.69 L670.8 828.07 L672.85 829.45 L674.9 830.82 L676.95 832.18 L679 833.55 L681.05 834.9 L683.1 836.25 L685.15 837.59 L687.2 838.91 L689.25 840.23 L691.3 841.54 L693.35 842.84 L695.4 844.12 L697.45 845.39 L699.5 846.64 L701.55 847.88 L703.6 849.11 L705.65 850.31 L707.7 851.5 L709.75 852.67 L711.8 853.82 L713.85 854.95 L715.9 856.06 L717.95 857.15 L720 858.21 L722.05 859.25 L724.1 860.27 L726.15 861.26 L728.2 862.22 L730.25 863.16 L732.3 864.07 L734.35 864.95 L736.4 865.81 L738.45 866.64 L740.5 867.45 L742.55 868.24 L744.6 869 L746.65 869.75 L748.7 870.47 L750.75 871.17 L752.8 871.86 L754.85 872.52 L756.9 873.17 L758.95 873.8 L761 874.41 L763.05 875 L765.1 875.59 L767.15 876.15 L769.2 876.71 L771.25 877.25 L773.3 877.77 L775.35 878.29 L777.4 878.79 L779.45 879.29 L781.5 879.78 L783.55 880.25 L785.6 880.72 L787.65 881.18 L789.7 881.64 L791.75 882.09 L793.8 882.53 L795.85 882.97 L797.9 883.4 L799.95 883.84 L802 884.27 L804.05 884.69 L806.1 885.12 L808.15 885.55 L810.2 885.98 L812.25 886.41 L814.3 886.84 L816.35 887.27 L818.4 887.7 L820.45 888.13 L822.5 888.56 L824.55 888.99 L826.6 889.43 L828.65 889.86 L830.7 890.29 L832.75 890.72 L834.8 891.15 L836.85 891.58 L838.9 892.01 L840.95 892.43 L843 892.86 L845.05 893.28 L847.1 893.7 L849.15 894.12 L851.2 894.54 L853.25 894.96 L855.3 895.37 L857.35 895.78 L859.4 896.18 L861.45 896.59 L863.5 896.99 L865.55 897.38 L867.6 897.78 L869.65 898.16 L871.7 898.55 L873.75 898.93 L875.8 899.31 L877.85 899.68 L879.9 900.04 L881.95 900.4 L884 900.76 L886.05 901.11 L888.1 901.46 L890.15 901.8 L892.2 902.13 L894.25 902.46 L896.3 902.78 L898.35 903.1 L900.4 903.41 L902.45 903.71 L904.5 904.01 L906.55 904.31 L908.6 904.6 L910.65 904.88 L912.7 905.16 L914.75 905.44 L916.8 905.71 L918.85 905.98 L920.9 906.24 L922.95 906.5 L925 906.75 L927.05 907 L929.1 907.25 L931.15 907.5 L933.2 907.74 L935.25 907.98 L937.3 908.21 L939.35 908.44 L941.4 908.67 L943.45 908.9 L945.5 909.12 L947.55 909.35 L949.6 909.57 L951.65 909.79 L953.7 910 L955.75 910.22 L957.8 910.43 L959.85 910.65 L961.9 910.86 L963.95 911.07 L966 911.28 L968.05 911.49 L970.1 911.69 L972.15 911.9 L974.2 912.11 L976.25 912.32 L978.3 912.52 L980.35 912.73 L982.4 912.94 L984.45 913.15 L986.5 913.35 L988.55 913.56 L990.6 913.76 L992.65 913.97 L994.7 914.17 L996.75 914.37 L998.8 914.58 L1000.85 914.78 L1002.9 914.98 L1004.95 915.18 L1007 915.37 L1009.05 915.57 L1011.1 915.77 L1013.15 915.96 L1015.2 916.15 L1017.25 916.35 L1019.3 916.54 L1021.35 916.73 L1023.4 916.91 L1025.45 917.1 L1027.5 917.28 L1029.55 917.46 L1031.6 917.64 L1033.65 917.82 L1035.7 918 L1037.75 918.17 L1039.8 918.34 L1041.85 918.51 L1043.9 918.68 L1045.95 918.85 L1048 919.01 L1050.05 919.17 L1052.1 919.33 L1054.15 919.48 L1056.2 919.63 L1058.25 919.78 L1060.3 919.93 L1062.35 920.07 L1064.4 920.22 L1066.45 920.36 L1068.5 920.49 L1070.55 920.63 L1072.6 920.76 L1074.65 920.89 L1076.7 921.02 L1078.75 921.14 L1080.8 921.27 L1082.85 921.39 L1084.9 921.51 L1086.95 921.63 L1089 921.75 L1091.05 921.86 L1093.1 921.98 L1095.15 922.09 L1097.2 922.2 L1099.25 922.31 L1101.3 922.42 L1103.35 922.52 L1105.4 922.63 L1107.45 922.74 L1109.5 922.84 L1111.55 922.94 L1113.6 923.04 L1115.65 923.15 L1117.7 923.25 L1119.75 923.35 L1121.8 923.45 L1123.85 923.54 L1125.9 923.64 L1127.95 923.74 L1130 923.84 L1132.05 923.93 L1134.1 924.03 L1136.15 924.13 L1138.2 924.23 L1140.25 924.32 L1142.3 924.42 L1144.35 924.52 L1146.4 924.61 L1148.45 924.71 L1150.5 924.81 L1152.55 924.9 L1154.6 925 L1156.65 925.1 L1158.7 925.19 L1160.75 925.29 L1162.8 925.39 L1164.85 925.48 L1166.9 925.58 L1168.95 925.67 L1171 925.77 L1173.05 925.86 L1175.1 925.96 L1177.15 926.05 L1179.2 926.15 L1181.25 926.24 L1183.3 926.34 L1185.35 926.43 L1187.4 926.52 L1189.45 926.62 L1191.5 926.71 L1193.55 926.8 L1195.6 926.89 L1197.65 926.98 L1199.7 927.07 L1201.75 927.16 L1203.8 927.25 L1205.85 927.34 L1207.9 927.43 L1209.95 927.52 L1212 927.6 L1214.05 927.69 L1216.1 927.78 L1218.15 927.86 L1220.2 927.95 L1222.25 928.03 L1224.3 928.12 L1226.35 928.2 L1228.4 928.28 L1230.45 928.36 L1232.5 928.44 L1234.55 928.52 L1236.6 928.6 L1238.65 928.68 L1240.7 928.76 L1242.75 928.84 L1244.8 928.92 L1246.85 928.99 L1248.9 929.07 L1250.95 929.14 L1253 929.22 L1255.05 929.29 L1257.1 929.37 L1259.15 929.44 L1261.2 929.51 L1263.25 929.58 L1265.3 929.65 L1267.35 929.72 L1269.4 929.79 L1271.45 929.86 L1273.5 929.93 L1275.55 929.99 L1277.6 930.06 L1279.65 930.13 L1281.7 930.19 L1283.75 930.25 L1285.8 930.32 L1287.85 930.38 L1289.9 930.44 L1291.95 930.5 L1294 930.56 L1296.05 930.62 L1298.1 930.68 L1300.15 930.74 L1302.2 930.8 L1304.25 930.86 L1306.3 930.91 L1308.35 930.97 L1310.4 931.02 L1312.45 931.08 L1314.5 931.13 L1316.55 931.18 L1318.6 931.24 L1320.65 931.29 L1322.7 931.34 L1324.75 931.39 L1326.8 931.44 L1328.85 931.49 L1330.9 931.54 L1332.95 931.59 L1335 931.63 L1337.05 931.68 L1339.1 931.73 L1341.15 931.78 L1343.2 931.82 L1345.25 931.87 L1347.3 931.91 L1349.35 931.96 L1351.4 932 L1353.45 932.05 L1355.5 932.09 L1357.55 932.14 L1359.6 932.18 L1361.65 932.23 L1363.7 932.27 L1365.75 932.31 L1367.8 932.36 L1369.85 932.4 L1371.9 932.44 L1373.95 932.49 L1376 932.53 L1378.05 932.57 L1380.1 932.61 L1382.15 932.66 L1384.2 932.7" stroke="#ff0000" stroke-width="3.8" fill="none" stroke-linecap="round" stroke-dasharray="0.01 7.8" stroke-dashoffset="3.9"/><polygon points="236.2,975.7 251.8,991.3 236.2,1006.9 220.6,991.3" fill="#fff" stroke="#ff0000" stroke-width="1.6"/><polygon points="251.8,991.3 236.2,1006.9 220.6,991.3" fill="#ff0000" stroke="#ff0000" stroke-width="1.6"/><polygon points="318.2,940.3 333.8,955.9 318.2,971.5 302.6,955.9" fill="#fff" stroke="#ff0000" stroke-width="1.6"/><polygon points="333.8,955.9 318.2,971.5 302.6,955.9" fill="#ff0000" stroke="#ff0000" stroke-width="1.6"/><polygon points="400.2,838.7 415.8,854.3 400.2,869.9 384.6,854.3" fill="#fff" stroke="#ff0000" stroke-width="1.6"/><polygon points="415.8,854.3 400.2,869.9 384.6,854.3" fill="#ff0000" stroke="#ff0000" stroke-width="1.6"/><polygon points="482.2,798.55 497.8,814.15 482.2,829.75 466.6,814.15" fill="#fff" stroke="#ff0000" stroke-width="1.6"/><polygon points="497.8,814.15 482.2,829.75 466.6,814.15" fill="#ff0000" stroke="#ff0000" stroke-width="1.6"/><polygon points="564.2,763.87 579.8,779.47 564.2,795.07 548.6,779.47" fill="#fff" stroke="#ff0000" stroke-width="1.6"/><polygon points="579.8,779.47 564.2,795.07 548.6,779.47" fill="#ff0000" stroke="#ff0000" stroke-width="1.6"/><polygon points="646.2,795.94 661.8,811.54 646.2,827.14 630.6,811.54" fill="#fff" stroke="#ff0000" stroke-width="1.6"/><polygon points="661.8,811.54 646.2,827.14 630.6,811.54" fill="#ff0000" stroke="#ff0000" stroke-width="1.6"/><polygon points="728.2,846.62 743.8,862.22 728.2,877.82 712.6,862.22" fill="#fff" stroke="#ff0000" stroke-width="1.6"/><polygon points="743.8,862.22 728.2,877.82 712.6,862.22" fill="#ff0000" stroke="#ff0000" stroke-width="1.6"/><polygon points="810.2,870.38 825.8,885.98 810.2,901.58 794.6,885.98" fill="#fff" stroke="#ff0000" stroke-width="1.6"/><polygon points="825.8,885.98 810.2,901.58 794.6,885.98" fill="#ff0000" stroke="#ff0000" stroke-width="1.6"/><polygon points="892.2,886.53 907.8,902.13 892.2,917.73 876.6,902.13" fill="#fff" stroke="#ff0000" stroke-width="1.6"/><polygon points="907.8,902.13 892.2,917.73 876.6,902.13" fill="#ff0000" stroke="#ff0000" stroke-width="1.6"/><polygon points="974.2,896.51 989.8,912.11 974.2,927.71 958.6,912.11" fill="#fff" stroke="#ff0000" stroke-width="1.6"/><polygon points="989.8,912.11 974.2,927.71 958.6,912.11" fill="#ff0000" stroke="#ff0000" stroke-width="1.6"/><polygon points="1056.2,904.03 1071.8,919.63 1056.2,935.23 1040.6,919.63" fill="#fff" stroke="#ff0000" stroke-width="1.6"/><polygon points="1071.8,919.63 1056.2,935.23 1040.6,919.63" fill="#ff0000" stroke="#ff0000" stroke-width="1.6"/><polygon points="1138.2,908.63 1153.8,924.23 1138.2,939.83 1122.6,924.23" fill="#fff" stroke="#ff0000" stroke-width="1.6"/><polygon points="1153.8,924.23 1138.2,939.83 1122.6,924.23" fill="#ff0000" stroke="#ff0000" stroke-width="1.6"/><polygon points="1220.2,912.35 1235.8,927.95 1220.2,943.55 1204.6,927.95" fill="#fff" stroke="#ff0000" stroke-width="1.6"/><polygon points="1235.8,927.95 1220.2,943.55 1204.6,927.95" fill="#ff0000" stroke="#ff0000" stroke-width="1.6"/><polygon points="1302.2,915.2 1317.8,930.8 1302.2,946.4 1286.6,930.8" fill="#fff" stroke="#ff0000" stroke-width="1.6"/><polygon points="1317.8,930.8 1302.2,946.4 1286.6,930.8" fill="#ff0000" stroke="#ff0000" stroke-width="1.6"/><polygon points="1384.2,917.1 1399.8,932.7 1384.2,948.3 1368.6,932.7" fill="#fff" stroke="#ff0000" stroke-width="1.6"/><polygon points="1399.8,932.7 1384.2,948.3 1368.6,932.7" fill="#ff0000" stroke="#ff0000" stroke-width="1.6"/><path d="M236.2 986.15 L238.25 986.42 L240.3 986.69 L242.35 986.95 L244.4 987.21 L246.45 987.46 L248.5 987.7 L250.55 987.93 L252.6 988.16 L254.65 988.37 L256.7 988.56 L258.75 988.74 L260.8 988.9 L262.85 989.05 L264.9 989.17 L266.95 989.27 L269 989.34 L271.05 989.39 L273.1 989.41 L275.15 989.41 L277.2 989.37 L279.25 989.3 L281.3 989.2 L283.35 989.07 L285.4 988.89 L287.45 988.68 L289.5 988.43 L291.55 988.14 L293.6 987.8 L295.65 987.42 L297.7 986.99 L299.75 986.52 L301.8 985.99 L303.85 985.41 L305.9 984.79 L307.95 984.1 L310 983.36 L312.05 982.57 L314.1 981.71 L316.15 980.8 L318.2 979.82 L320.25 978.78 L322.3 977.67 L324.35 976.5 L326.4 975.27 L328.45 973.98 L330.5 972.64 L332.55 971.23 L334.6 969.76 L336.65 968.23 L338.7 966.65 L340.75 965.01 L342.8 963.32 L344.85 961.57 L346.9 959.77 L348.95 957.92 L351 956.01 L353.05 954.05 L355.1 952.04 L357.15 949.98 L359.2 947.87 L361.25 945.72 L363.3 943.51 L365.35 941.26 L367.4 938.97 L369.45 936.62 L371.5 934.24 L373.55 931.81 L375.6 929.33 L377.65 926.82 L379.7 924.26 L381.75 921.66 L383.8 919.03 L385.85 916.35 L387.9 913.64 L389.95 910.88 L392 908.1 L394.05 905.27 L396.1 902.41 L398.15 899.52 L400.2 896.59 L402.25 893.63 L404.3 890.64 L406.35 887.62 L408.4 884.58 L410.45 881.52 L412.5 878.45 L414.55 875.36 L416.6 872.26 L418.65 869.15 L420.7 866.04 L422.75 862.93 L424.8 859.82 L426.85 856.71 L428.9 853.62 L430.95 850.53 L433 847.46 L435.05 844.42 L437.1 841.39 L439.15 838.38 L441.2 835.41 L443.25 832.47 L445.3 829.56 L447.35 826.69 L449.4 823.86 L451.45 821.07 L453.5 818.33 L455.55 815.64 L457.6 813.01 L459.65 810.43 L461.7 807.91 L463.75 805.46 L465.8 803.07 L467.85 800.75 L469.9 798.51 L471.95 796.34 L474 794.25 L476.05 792.24 L478.1 790.32 L480.15 788.49 L482.2 786.75 L484.25 785.11 L486.3 783.56 L488.35 782.1 L490.4 780.73 L492.45 779.44 L494.5 778.25 L496.55 777.13 L498.6 776.1 L500.65 775.15 L502.7 774.27 L504.75 773.47 L506.8 772.75 L508.85 772.09 L510.9 771.51 L512.95 770.99 L515 770.54 L517.05 770.16 L519.1 769.83 L521.15 769.57 L523.2 769.36 L525.25 769.21 L527.3 769.11 L529.35 769.07 L531.4 769.07 L533.45 769.12 L535.5 769.22 L537.55 769.36 L539.6 769.55 L541.65 769.77 L543.7 770.04 L545.75 770.33 L547.8 770.67 L549.85 771.03 L551.9 771.43 L553.95 771.85 L556 772.3 L558.05 772.77 L560.1 773.27 L562.15 773.78 L564.2 774.32 L566.25 774.87 L568.3 775.44 L570.35 776.02 L572.4 776.62 L574.45 777.24 L576.5 777.87 L578.55 778.52 L580.6 779.19 L582.65 779.88 L584.7 780.58 L586.75 781.3 L588.8 782.03 L590.85 782.79 L592.9 783.56 L594.95 784.34 L597 785.15 L599.05 785.97 L601.1 786.81 L603.15 787.67 L605.2 788.55 L607.25 789.44 L609.3 790.36 L611.35 791.29 L613.4 792.23 L615.45 793.2 L617.5 794.19 L619.55 795.19 L621.6 796.21 L623.65 797.25 L625.7 798.31 L627.75 799.39 L629.8 800.49 L631.85 801.61 L633.9 802.74 L635.95 803.89 L638 805.07 L640.05 806.26 L642.1 807.47 L644.15 808.7 L646.2 809.95 L648.25 811.23 L650.3 812.51 L652.35 813.82 L654.4 815.14 L656.45 816.48 L658.5 817.82 L660.55 819.18 L662.6 820.56 L664.65 821.94 L666.7 823.32 L668.75 824.72 L670.8 826.12 L672.85 827.52 L674.9 828.93 L676.95 830.34 L679 831.75 L681.05 833.15 L683.1 834.56 L685.15 835.96 L687.2 837.36 L689.25 838.75 L691.3 840.13 L693.35 841.5 L695.4 842.86 L697.45 844.21 L699.5 845.55 L701.55 846.88 L703.6 848.19 L705.65 849.48 L707.7 850.75 L709.75 852.01 L711.8 853.24 L713.85 854.45 L715.9 855.64 L717.95 856.81 L720 857.95 L722.05 859.06 L724.1 860.14 L726.15 861.2 L728.2 862.22 L730.25 863.21 L732.3 864.17 L734.35 865.1 L736.4 866 L738.45 866.87 L740.5 867.71 L742.55 868.53 L744.6 869.32 L746.65 870.08 L748.7 870.82 L750.75 871.54 L752.8 872.23 L754.85 872.9 L756.9 873.56 L758.95 874.19 L761 874.8 L763.05 875.39 L765.1 875.97 L767.15 876.53 L769.2 877.07 L771.25 877.6 L773.3 878.11 L775.35 878.61 L777.4 879.1 L779.45 879.58 L781.5 880.05 L783.55 880.51 L785.6 880.96 L787.65 881.4 L789.7 881.83 L791.75 882.26 L793.8 882.68 L795.85 883.1 L797.9 883.52 L799.95 883.93 L802 884.34 L804.05 884.75 L806.1 885.16 L808.15 885.57 L810.2 885.98 L812.25 886.39 L814.3 886.81 L816.35 887.23 L818.4 887.65 L820.45 888.07 L822.5 888.49 L824.55 888.92 L826.6 889.34 L828.65 889.77 L830.7 890.2 L832.75 890.62 L834.8 891.05 L836.85 891.48 L838.9 891.9 L840.95 892.33 L843 892.75 L845.05 893.18 L847.1 893.6 L849.15 894.02 L851.2 894.44 L853.25 894.86 L855.3 895.28 L857.35 895.69 L859.4 896.1 L861.45 896.51 L863.5 896.91 L865.55 897.31 L867.6 897.71 L869.65 898.11 L871.7 898.5 L873.75 898.88 L875.8 899.26 L877.85 899.64 L879.9 900.01 L881.95 900.38 L884 900.74 L886.05 901.1 L888.1 901.45 L890.15 901.79 L892.2 902.13 L894.25 902.46 L896.3 902.79 L898.35 903.11 L900.4 903.42 L902.45 903.73 L904.5 904.03 L906.55 904.33 L908.6 904.62 L910.65 904.91 L912.7 905.19 L914.75 905.47 L916.8 905.74 L918.85 906 L920.9 906.27 L922.95 906.53 L925 906.78 L927.05 907.03 L929.1 907.28 L931.15 907.52 L933.2 907.76 L935.25 908 L937.3 908.24 L939.35 908.47 L941.4 908.7 L943.45 908.92 L945.5 909.14 L947.55 909.37 L949.6 909.59 L951.65 909.8 L953.7 910.02 L955.75 910.23 L957.8 910.44 L959.85 910.65 L961.9 910.86 L963.95 911.07 L966 911.28 L968.05 911.49 L970.1 911.7 L972.15 911.9 L974.2 912.11 L976.25 912.32 L978.3 912.52 L980.35 912.73 L982.4 912.94 L984.45 913.14 L986.5 913.35 L988.55 913.55 L990.6 913.76 L992.65 913.96 L994.7 914.16 L996.75 914.37 L998.8 914.57 L1000.85 914.77 L1002.9 914.97 L1004.95 915.17 L1007 915.37 L1009.05 915.56 L1011.1 915.76 L1013.15 915.95 L1015.2 916.15 L1017.25 916.34 L1019.3 916.53 L1021.35 916.72 L1023.4 916.91 L1025.45 917.09 L1027.5 917.28 L1029.55 917.46 L1031.6 917.64 L1033.65 917.82 L1035.7 917.99 L1037.75 918.17 L1039.8 918.34 L1041.85 918.51 L1043.9 918.68 L1045.95 918.84 L1048 919.01 L1050.05 919.17 L1052.1 919.32 L1054.15 919.48 L1056.2 919.63 L1058.25 919.78 L1060.3 919.93 L1062.35 920.07 L1064.4 920.22 L1066.45 920.36 L1068.5 920.49 L1070.55 920.63 L1072.6 920.76 L1074.65 920.89 L1076.7 921.02 L1078.75 921.15 L1080.8 921.27 L1082.85 921.39 L1084.9 921.51 L1086.95 921.63 L1089 921.75 L1091.05 921.86 L1093.1 921.98 L1095.15 922.09 L1097.2 922.2 L1099.25 922.31 L1101.3 922.42 L1103.35 922.53 L1105.4 922.63 L1107.45 922.74 L1109.5 922.84 L1111.55 922.94 L1113.6 923.05 L1115.65 923.15 L1117.7 923.25 L1119.75 923.35 L1121.8 923.45 L1123.85 923.54 L1125.9 923.64 L1127.95 923.74 L1130 923.84 L1132.05 923.94 L1134.1 924.03 L1136.15 924.13 L1138.2 924.23 L1140.25 924.32 L1142.3 924.42 L1144.35 924.52 L1146.4 924.61 L1148.45 924.71 L1150.5 924.81 L1152.55 924.9 L1154.6 925 L1156.65 925.1 L1158.7 925.19 L1160.75 925.29 L1162.8 925.39 L1164.85 925.48 L1166.9 925.58 L1168.95 925.67 L1171 925.77 L1173.05 925.86 L1175.1 925.96 L1177.15 926.05 L1179.2 926.15 L1181.25 926.24 L1183.3 926.34 L1185.35 926.43 L1187.4 926.52 L1189.45 926.61 L1191.5 926.71 L1193.55 926.8 L1195.6 926.89 L1197.65 926.98 L1199.7 927.07 L1201.75 927.16 L1203.8 927.25 L1205.85 927.34 L1207.9 927.43 L1209.95 927.52 L1212 927.6 L1214.05 927.69 L1216.1 927.78 L1218.15 927.86 L1220.2 927.95 L1222.25 928.03 L1224.3 928.12 L1226.35 928.2 L1228.4 928.28 L1230.45 928.36 L1232.5 928.44 L1234.55 928.53 L1236.6 928.6 L1238.65 928.68 L1240.7 928.76 L1242.75 928.84 L1244.8 928.92 L1246.85 928.99 L1248.9 929.07 L1250.95 929.15 L1253 929.22 L1255.05 929.29 L1257.1 929.37 L1259.15 929.44 L1261.2 929.51 L1263.25 929.58 L1265.3 929.65 L1267.35 929.72 L1269.4 929.79 L1271.45 929.86 L1273.5 929.93 L1275.55 929.99 L1277.6 930.06 L1279.65 930.13 L1281.7 930.19 L1283.75 930.25 L1285.8 930.32 L1287.85 930.38 L1289.9 930.44 L1291.95 930.5 L1294 930.56 L1296.05 930.62 L1298.1 930.68 L1300.15 930.74 L1302.2 930.8 L1304.25 930.86 L1306.3 930.91 L1308.35 930.97 L1310.4 931.02 L1312.45 931.08 L1314.5 931.13 L1316.55 931.18 L1318.6 931.24 L1320.65 931.29 L1322.7 931.34 L1324.75 931.39 L1326.8 931.44 L1328.85 931.49 L1330.9 931.54 L1332.95 931.59 L1335 931.63 L1337.05 931.68 L1339.1 931.73 L1341.15 931.78 L1343.2 931.82 L1345.25 931.87 L1347.3 931.91 L1349.35 931.96 L1351.4 932 L1353.45 932.05 L1355.5 932.09 L1357.55 932.14 L1359.6 932.18 L1361.65 932.23 L1363.7 932.27 L1365.75 932.31 L1367.8 932.36 L1369.85 932.4 L1371.9 932.44 L1373.95 932.49 L1376 932.53 L1378.05 932.57 L1380.1 932.61 L1382.15 932.66 L1384.2 932.7" stroke="#0000ff" stroke-width="3.8" fill="none" stroke-linecap="round" stroke-dasharray="0.01 7.8"/><polygon points="236.2,970.55 240.14,980.73 251.04,981.33 242.58,988.23 245.37,998.77 236.2,992.86 227.03,998.77 229.82,988.23 221.36,981.33 232.26,980.73" fill="#0000ff"/><polygon points="318.2,964.22 322.14,974.39 333.04,975 324.58,981.89 327.37,992.44 318.2,986.53 309.03,992.44 311.82,981.89 303.36,975 314.26,974.39" fill="#0000ff"/><polygon points="400.2,880.99 404.14,891.16 415.04,891.77 406.58,898.66 409.37,909.21 400.2,903.3 391.03,909.21 393.82,898.66 385.36,891.77 396.26,891.16" fill="#0000ff"/><polygon points="482.2,771.15 486.14,781.33 497.04,781.93 488.58,788.83 491.37,799.37 482.2,793.46 473.03,799.37 475.82,788.83 467.36,781.93 478.26,781.33" fill="#0000ff"/><polygon points="564.2,758.72 568.14,768.89 579.04,769.5 570.58,776.39 573.37,786.94 564.2,781.03 555.03,786.94 557.82,776.39 549.36,769.5 560.26,768.89" fill="#0000ff"/><polygon points="646.2,794.35 650.14,804.53 661.04,805.13 652.58,812.03 655.37,822.58 646.2,816.66 637.03,822.58 639.82,812.03 631.36,805.13 642.26,804.53" fill="#0000ff"/><polygon points="728.2,846.62 732.14,856.79 743.04,857.4 734.58,864.29 737.37,874.84 728.2,868.93 719.03,874.84 721.82,864.29 713.36,857.4 724.26,856.79" fill="#0000ff"/><polygon points="810.2,870.38 814.14,880.55 825.04,881.16 816.58,888.05 819.37,898.6 810.2,892.69 801.03,898.6 803.82,888.05 795.36,881.16 806.26,880.55" fill="#0000ff"/><polygon points="892.2,886.53 896.14,896.71 907.04,897.31 898.58,904.2 901.37,914.75 892.2,908.84 883.03,914.75 885.82,904.2 877.36,897.31 888.26,896.71" fill="#0000ff"/><polygon points="974.2,896.51 978.14,906.68 989.04,907.29 980.58,914.18 983.37,924.73 974.2,918.82 965.03,924.73 967.82,914.18 959.36,907.29 970.26,906.68" fill="#0000ff"/><polygon points="1056.2,904.03 1060.14,914.21 1071.04,914.81 1062.58,921.71 1065.37,932.25 1056.2,926.34 1047.03,932.25 1049.82,921.71 1041.36,914.81 1052.26,914.21" fill="#0000ff"/><polygon points="1138.2,908.63 1142.14,918.8 1153.04,919.41 1144.58,926.3 1147.37,936.85 1138.2,930.93 1129.03,936.85 1131.82,926.3 1123.36,919.41 1134.26,918.8" fill="#0000ff"/><polygon points="1220.2,912.35 1224.14,922.52 1235.04,923.13 1226.58,930.02 1229.37,940.57 1220.2,934.66 1211.03,940.57 1213.82,930.02 1205.36,923.13 1216.26,922.52" fill="#0000ff"/><polygon points="1302.2,915.2 1306.14,925.37 1317.04,925.98 1308.58,932.87 1311.37,943.42 1302.2,937.51 1293.03,943.42 1295.82,932.87 1287.36,925.98 1298.26,925.37" fill="#0000ff"/><polygon points="1384.2,917.1 1388.14,927.27 1399.04,927.88 1390.58,934.77 1393.37,945.32 1384.2,939.41 1375.03,945.32 1377.82,934.77 1369.36,927.88 1380.26,927.27" fill="#0000ff"/></g><g transform="translate(835,200.2) scale(0.907)"><rect x="0" y="0" width="562.7" height="421" fill="#fff"/><defs><radialGradient id="cy835" gradientUnits="userSpaceOnUse" cx="275" cy="236" r="230" gradientTransform="translate(0,236) scale(1,0.5) translate(0,-236)"><stop offset="0" stop-color="#76f5f4"/><stop offset="0.45" stop-color="#84f9f8"/><stop offset="1" stop-color="#8efcfb"/></radialGradient><linearGradient id="cy835l" x1="0" x2="1" y1="0" y2="0"><stop offset="0" stop-color="#fa9a76"/><stop offset="1" stop-color="#ef8c68"/></linearGradient></defs><polygon points="11.2,129.7 309.8,78.9 552.9,179.3 545.7,308.2 206.4,412.8 21.9,246.3" fill="url(#cy835)"/><path d="M136.12 17.41 L136 21.12 L135.93 24.83 L135.92 28.53 L135.96 32.24 L136.06 35.94 L136.22 39.64 L136.42 43.34 L136.68 47.03 L136.99 50.73 L137.34 54.41 L137.74 58.09 L138.19 61.77 L138.69 65.44 L139.22 69.11 L139.8 72.77 L140.42 76.42 L141.08 80.07 L141.79 83.71 L142.53 87.34 L143.32 90.95 L144.16 94.56 L145.04 98.16 L145.97 101.74 L146.96 105.31 L147.99 108.87 L149.08 112.41 L150.22 115.93 L151.42 119.44 L152.67 122.93 L152.59 123 L153.09 125.22 L153.66 127.42 L154.3 129.61 L155.02 131.77 L155.81 133.9 L156.66 136.01 L157.59 138.09 L158.59 140.14 L159.65 142.15 L160.78 144.13 L161.97 146.07 L163.23 147.96 L164.55 149.82 L165.93 151.63 L167.36 153.39 L168.86 155.11 L170.41 156.77 L172.02 158.39 L173.68 159.95 L175.39 161.45 L177.15 162.89 L178.95 164.28 L180.8 165.61 L182.7 166.87 L184.63 168.07 L186.6 169.21 L188.61 170.28 L190.65 171.28 L192.73 172.21 L252.69 198.02 L250.62 197.08 L248.58 196.08 L246.57 195.01 L244.59 193.87 L242.66 192.67 L240.77 191.41 L238.92 190.08 L237.11 188.69 L235.35 187.25 L233.64 185.75 L231.98 184.19 L230.38 182.57 L228.83 180.91 L227.33 179.19 L225.89 177.43 L224.51 175.62 L223.19 173.76 L221.93 171.87 L220.74 169.93 L219.61 167.95 L218.55 165.94 L217.56 163.89 L216.63 161.81 L215.77 159.7 L214.98 157.57 L214.27 155.41 L213.62 153.22 L213.05 151.02 L212.55 148.8 L212.64 148.73 L211.38 145.24 L210.19 141.73 L209.04 138.21 L207.96 134.67 L206.92 131.11 L205.94 127.54 L205.01 123.96 L204.12 120.36 L203.29 116.75 L202.5 113.14 L201.75 109.51 L201.05 105.87 L200.39 102.22 L199.77 98.57 L199.19 94.91 L198.65 91.24 L198.16 87.57 L197.71 83.9 L197.3 80.21 L196.95 76.53 L196.64 72.84 L196.39 69.14 L196.18 65.44 L196.03 61.74 L195.93 58.04 L195.88 54.34 L195.89 50.63 L195.96 46.92 L196.09 43.21Z" fill="#9ad6d4"/><path d="M136.12 17.41 L136 21.12 L135.93 24.83 L135.92 28.53 L135.96 32.24 L136.06 35.94 L136.22 39.64 L136.42 43.34 L136.68 47.03 L136.99 50.73 L137.34 54.41 L137.74 58.09 L138.19 61.77 L138.69 65.44 L139.22 69.11 L139.8 72.77 L140.42 76.42 L141.08 80.07 L141.79 83.71 L142.53 87.34 L143.32 90.95 L144.16 94.56 L145.04 98.16 L145.97 101.74 L146.96 105.31 L147.99 108.87 L149.08 112.41 L150.22 115.93 L151.42 119.44 L152.67 122.93 L156.05 128.09 L214.83 157.13 L214.83 157.13 L214.29 155.49 L213.8 153.83 L213.34 152.16 L212.93 150.49 L212.55 148.8 L212.64 148.73 L211.38 145.24 L210.19 141.73 L209.04 138.21 L207.96 134.67 L206.92 131.11 L205.94 127.54 L205.01 123.96 L204.12 120.36 L203.29 116.75 L202.5 113.14 L201.75 109.51 L201.05 105.87 L200.39 102.22 L199.77 98.57 L199.19 94.91 L198.65 91.24 L198.16 87.57 L197.71 83.9 L197.3 80.21 L196.95 76.53 L196.64 72.84 L196.39 69.14 L196.18 65.44 L196.03 61.74 L195.93 58.04 L195.88 54.34 L195.89 50.63 L195.96 46.92 L196.09 43.21Z" fill="url(#cy835l)"/><path d="M136.12 17.41 L139.14 17 L142.15 16.64 L145.18 16.33 L148.21 16.08 L151.25 15.88 L154.29 15.73 L157.33 15.63 L160.38 15.59 L163.42 15.6 L166.46 15.66 L169.51 15.77 L172.55 15.94 L175.58 16.16 L178.61 16.43 L181.64 16.76 L184.66 17.13 L187.67 17.56 L190.67 18.04 L193.66 18.58 L196.64 19.16 L199.61 19.78 L202.57 20.45 L205.53 21.15 L208.48 21.88 L211.43 22.63 L214.38 23.4 L217.33 24.18 L220.26 24.98 L223.19 25.82 L226.11 26.71 L228.99 27.65 L231.85 28.68 L234.68 29.79 L237.46 30.99 L240.21 32.29 L242.92 33.66 L245.62 35.08 L248.29 36.53 L250.95 38.01 L253.6 39.5 L256.25 40.99 L258.9 42.48 L261.54 43.98 L264.19 45.47 L266.84 46.94 L269.51 48.4 L272.18 49.84 L274.87 51.26 L277.58 52.65 L277.67 52.15 L274.53 51.07 L271.37 50.06 L268.2 49.12 L265 48.24 L261.8 47.42 L258.57 46.66 L255.33 45.95 L252.08 45.29 L248.83 44.68 L245.56 44.11 L242.28 43.57 L239 43.09 L235.71 42.65 L232.42 42.27 L229.12 41.95 L225.82 41.69 L222.51 41.51 L219.21 41.4 L215.9 41.37 L212.6 41.43 L209.29 41.58 L205.99 41.83 L202.68 42.18 L199.38 42.64 L196.09 43.21Z" fill="#f79c78"/><path d="M348.62 132.21 L348.67 134.69 L348.63 137.17 L348.5 139.65 L348.28 142.12 L347.98 144.58 L347.58 147.03 L347.1 149.47 L346.53 151.88 L345.87 154.27 L345.13 156.64 L344.3 158.98 L343.39 161.29 L342.39 163.56 L341.31 165.79 L340.16 167.99 L338.92 170.14 L337.61 172.25 L336.23 174.31 L334.77 176.31 L333.24 178.26 L331.64 180.16 L329.97 182 L328.23 183.77 L326.44 185.48 L324.58 187.13 L322.67 188.71 L320.7 190.21 L318.67 191.65 L316.6 193.01 L314.48 194.3 L312.31 195.51 L310.1 196.64 L307.85 197.69 L305.57 198.65 L303.25 199.54 L300.9 200.34 L298.53 201.05 L296.13 201.68 L293.71 202.22 L291.27 202.68 L288.81 203.04 L286.35 203.32 L283.87 203.51 L281.39 203.61 L278.91 203.62 L276.43 203.54 L273.96 203.37 L271.49 203.11 L269.03 202.76 L266.59 202.33 L264.17 201.8 L261.76 201.19 L259.38 200.49 L257.03 199.71 L254.7 198.84 L252.41 197.89 L250.16 196.86 L247.94 195.75 L245.76 194.56 L243.63 193.28 L241.55 191.94 L239.51 190.52 L237.53 189.03 L235.6 187.46 L233.74 185.83 L231.93 184.13 L230.18 182.37 L228.5 180.55 L226.88 178.66 L225.34 176.72 L223.86 174.73 L222.46 172.68 L221.14 170.58 L219.88 168.44 L218.71 166.25 L217.62 164.03 L216.61 161.76 L215.68 159.46 L214.83 157.13Z" fill="#a1c9c4"/><path d="M196.09 43.21 L199.38 42.64 L202.68 42.18 L205.99 41.83 L209.29 41.58 L212.6 41.43 L215.9 41.37 L219.21 41.4 L222.51 41.51 L225.82 41.69 L229.12 41.95 L232.42 42.27 L235.71 42.65 L239 43.09 L242.28 43.57 L245.56 44.11 L248.83 44.68 L252.08 45.29 L255.33 45.95 L258.57 46.66 L261.8 47.42 L265 48.24 L268.2 49.12 L271.37 50.06 L274.53 51.07 L277.67 52.15 L280.78 53.3 L283.86 54.53 L286.92 55.82 L289.94 57.2 L292.92 58.65 L295.87 60.19 L298.77 61.8 L301.62 63.5 L304.43 65.28 L307.18 67.14 L309.88 69.08 L312.51 71.1 L315.08 73.2 L317.58 75.38 L320.01 77.64 L322.36 79.97 L324.63 82.38 L326.83 84.86 L328.96 87.4 L331.02 90 L333 92.67 L334.91 95.39 L336.75 98.17 L338.51 101 L340.19 103.88 L341.76 106.81 L343.22 109.8 L344.54 112.84 L345.71 115.93 L346.71 119.07 L347.53 122.27 L348.16 125.52 L348.57 128.82 L348.76 132.18 L214.83 157.13 L214.83 157.13 L214.29 155.49 L213.8 153.83 L213.34 152.16 L212.93 150.49 L212.55 148.8 L212.64 148.73 L211.38 145.24 L210.19 141.73 L209.04 138.21 L207.96 134.67 L206.92 131.11 L205.94 127.54 L205.01 123.96 L204.12 120.36 L203.29 116.75 L202.5 113.14 L201.75 109.51 L201.05 105.87 L200.39 102.22 L199.77 98.57 L199.19 94.91 L198.65 91.24 L198.16 87.57 L197.71 83.9 L197.3 80.21 L196.95 76.53 L196.64 72.84 L196.39 69.14 L196.18 65.44 L196.03 61.74 L195.93 58.04 L195.88 54.34 L195.89 50.63 L195.96 46.92 L196.09 43.21Z" fill="#e17e60"/><path d="M348.62 132.21 L348.67 134.69 L348.63 137.17 L348.5 139.65 L348.28 142.12 L347.98 144.58 L347.58 147.03 L347.1 149.47 L346.53 151.88 L345.87 154.27 L345.13 156.64 L344.3 158.98 L343.39 161.29 L342.39 163.56 L341.31 165.79 L340.16 167.99 L338.92 170.14 L337.61 172.25 L336.23 174.31 L334.77 176.31 L333.24 178.26 L331.64 180.16 L329.97 182 L328.23 183.77 L326.44 185.48 L324.58 187.13 L322.67 188.71 L320.7 190.21 L318.67 191.65 L316.6 193.01 L314.48 194.3 L312.31 195.51 L310.1 196.64 L307.85 197.69 L305.57 198.65 L303.25 199.54 L300.9 200.34 L298.53 201.05 L296.13 201.68 L293.71 202.22 L291.27 202.68 L288.81 203.04 L286.35 203.32 L283.87 203.51 L281.39 203.61 L278.91 203.62 L276.43 203.54 L273.96 203.37 L271.49 203.11 L269.03 202.76 L266.59 202.33 L264.17 201.8 L261.76 201.19 L259.38 200.49 L257.03 199.71 L254.7 198.84 L252.41 197.89 L250.16 196.86 L247.94 195.75 L245.76 194.56 L243.63 193.28 L241.55 191.94 L239.51 190.52 L237.53 189.03 L235.6 187.46 L233.74 185.83 L231.93 184.13 L230.18 182.37 L228.5 180.55 L226.88 178.66 L225.34 176.72 L223.86 174.73 L222.46 172.68 L221.14 170.58 L219.88 168.44 L218.71 166.25 L217.62 164.03 L216.61 161.76 L215.68 159.46 L214.83 157.13" fill="none" stroke="#25a9b9" stroke-width="1.5"/><path d="M156.05 128.09 L154.3 129.61 L155.02 131.77 L155.81 133.9 L156.66 136.01 L157.59 138.09 L158.59 140.14 L159.65 142.15 L160.78 144.13 L161.97 146.07 L163.23 147.96 L164.55 149.82 L165.93 151.63 L167.36 153.39 L168.86 155.11 L170.41 156.77 L172.02 158.39 L173.68 159.95 L175.39 161.45 L177.15 162.89 L178.95 164.28 L180.8 165.61 L182.7 166.87 L184.63 168.07 L186.6 169.21 L188.61 170.28 L190.65 171.28 L192.73 172.21 L252.69 198.02" fill="none" stroke="#4cc4cc" stroke-width="1.2"/><path d="M196.09 43.21 L199.38 42.64 L202.68 42.18 L205.99 41.83 L209.29 41.58 L212.6 41.43 L215.9 41.37 L219.21 41.4 L222.51 41.51 L225.82 41.69 L229.12 41.95 L232.42 42.27 L235.71 42.65 L239 43.09 L242.28 43.57 L245.56 44.11 L248.83 44.68 L252.08 45.29 L255.33 45.95 L258.57 46.66 L261.8 47.42 L265 48.24 L268.2 49.12 L271.37 50.06 L274.53 51.07 L277.67 52.15 L280.78 53.3 L283.86 54.53 L286.92 55.82 L289.94 57.2 L292.92 58.65 L295.87 60.19 L298.77 61.8 L301.62 63.5 L304.43 65.28 L307.18 67.14 L309.88 69.08 L312.51 71.1 L315.08 73.2 L317.58 75.38 L320.01 77.64 L322.36 79.97 L324.63 82.38 L326.83 84.86 L328.96 87.4 L331.02 90 L333 92.67 L334.91 95.39 L336.75 98.17 L338.51 101 L340.19 103.88 L341.76 106.81 L343.22 109.8 L344.54 112.84 L345.71 115.93 L346.71 119.07 L347.53 122.27 L348.16 125.52 L348.57 128.82 L348.76 132.18" fill="none" stroke="#000" stroke-width="2" stroke-linecap="round"/><path d="M196.09 43.21 L195.96 46.92 L195.89 50.63 L195.88 54.34 L195.93 58.04 L196.03 61.74 L196.18 65.44 L196.39 69.14 L196.64 72.84 L196.95 76.53 L197.3 80.21 L197.71 83.9 L198.16 87.57 L198.65 91.24 L199.19 94.91 L199.77 98.57 L200.39 102.22 L201.05 105.87 L201.75 109.51 L202.5 113.14 L203.29 116.75 L204.12 120.36 L205.01 123.96 L205.94 127.54 L206.92 131.11 L207.96 134.67 L209.04 138.21 L210.19 141.73 L211.38 145.24 L212.64 148.73 L214.83 157.13" fill="none" stroke="#000" stroke-width="2" stroke-linecap="round"/><path d="M196.09 43.21 L136.12 17.41" fill="none" stroke="#000" stroke-width="2" stroke-linecap="round"/><path d="M136.12 17.41 L139.14 17 L142.15 16.64 L145.18 16.33 L148.21 16.08 L151.25 15.88 L154.29 15.73 L157.33 15.63 L160.38 15.59 L163.42 15.6 L166.46 15.66 L169.51 15.77 L172.55 15.94 L175.58 16.16 L178.61 16.43 L181.64 16.76 L184.66 17.13 L187.67 17.56 L190.67 18.04 L193.66 18.58 L196.64 19.16 L199.61 19.78 L202.57 20.45 L205.53 21.15 L208.48 21.88 L211.43 22.63 L214.38 23.4 L217.33 24.18 L220.26 24.98 L223.19 25.82 L226.11 26.71 L228.99 27.65" fill="none" stroke="#000" stroke-width="1.5" stroke-linecap="round"/><path d="M136.12 17.41 L136 21.12 L135.93 24.83 L135.92 28.53 L135.96 32.24 L136.06 35.94 L136.22 39.64 L136.42 43.34 L136.68 47.03 L136.99 50.73 L137.34 54.41 L137.74 58.09 L138.19 61.77 L138.69 65.44 L139.22 69.11 L139.8 72.77 L140.42 76.42 L141.08 80.07 L141.79 83.71 L142.53 87.34 L143.32 90.95 L144.16 94.56 L145.04 98.16 L145.97 101.74 L146.96 105.31 L147.99 108.87 L149.08 112.41 L150.22 115.93 L151.42 119.44 L152.67 122.93 L156.05 128.09" fill="none" stroke="#000" stroke-width="1.1" stroke-linecap="round"/><path d="M196.09 43.21 L279.9 134.85" stroke="#f00" stroke-width="2" stroke-dasharray="8 4.5" fill="none"/><path d="M279.9 134.85 L212.64 148.73" stroke="#000" stroke-width="1" fill="none"/><path d="M279.9 134.85 L338.44 165.63" stroke="#000" stroke-width="1" fill="none"/><polygon points="339.44,166.13 333.8,160.49 331.57,164.73" fill="#000"/><path d="M261.97 138.66 L261.7 137.06 L261.58 135.43 L261.6 133.81 L261.76 132.19 L262.07 130.59 L262.52 129.02 L263.11 127.5 L263.83 126.04 L264.67 124.65 L265.64 123.34 L266.71 122.12" fill="none" stroke="#000" stroke-width="1"/><text x="252.85" y="95.71" font-family='"Liberation Serif", serif' font-size="14.5">l</text><text x="256.59" y="99.62" font-family='"Liberation Serif", serif' font-weight="bold" font-size="10">d</text><text x="251.43" y="133.43" font-family='"Liberation Serif", serif' font-size="15">β</text><text x="304.81" y="146.42" font-family='"Liberation Serif", serif' font-style="italic" font-size="14.5">R</text></g><path d="M155.05 2 H1382.9 V1009.5 M155.05 0.1 V1000 M134.85 991.1 H1384.8 M134.85 832.92 H155.05 M134.85 674.54 H155.05 M134.85 516.16 H155.05 M134.85 357.78 H155.05 M134.85 199.4 H155.05 M134.85 41.02 H155.05 M144.55 912.11 H155.05 M144.55 753.73 H155.05 M144.55 595.35 H155.05 M144.55 436.97 H155.05 M144.55 278.59 H155.05 M144.55 120.21 H155.05 M236.2 991.1 V1009.5 M318.2 991.1 V1000 M400.2 991.1 V1009.5 M482.2 991.1 V1000 M564.2 991.1 V1009.5 M646.2 991.1 V1000 M728.2 991.1 V1009.5 M810.2 991.1 V1000 M892.2 991.1 V1009.5 M974.2 991.1 V1000 M1056.2 991.1 V1009.5 M1138.2 991.1 V1000 M1220.2 991.1 V1009.5 M1302.2 991.1 V1000" stroke="#000" stroke-width="3.8" fill="none"/><text x="122.9" y="1004" text-anchor="end" font-family='"Liberation Sans", sans-serif' font-size="43">0.0</text><text x="122.9" y="845.62" text-anchor="end" font-family='"Liberation Sans", sans-serif' font-size="43">0.2</text><text x="122.9" y="687.24" text-anchor="end" font-family='"Liberation Sans", sans-serif' font-size="43">0.4</text><text x="122.9" y="528.86" text-anchor="end" font-family='"Liberation Sans", sans-serif' font-size="43">0.6</text><text x="122.9" y="370.48" text-anchor="end" font-family='"Liberation Sans", sans-serif' font-size="43">0.8</text><text x="122.9" y="212.1" text-anchor="end" font-family='"Liberation Sans", sans-serif' font-size="43">1.0</text><text x="122.9" y="53.72" text-anchor="end" font-family='"Liberation Sans", sans-serif' font-size="43">1.2</text><text x="236.2" y="1056.2" text-anchor="middle" font-family='"Liberation Sans", sans-serif' font-size="43">1</text><text x="400.2" y="1056.2" text-anchor="middle" font-family='"Liberation Sans", sans-serif' font-size="43">3</text><text x="564.2" y="1056.2" text-anchor="middle" font-family='"Liberation Sans", sans-serif' font-size="43">5</text><text x="728.2" y="1056.2" text-anchor="middle" font-family='"Liberation Sans", sans-serif' font-size="43">7</text><text x="892.2" y="1056.2" text-anchor="middle" font-family='"Liberation Sans", sans-serif' font-size="43">9</text><text x="1056.2" y="1056.2" text-anchor="middle" font-family='"Liberation Sans", sans-serif' font-size="43">11</text><text x="1220.2" y="1056.2" text-anchor="middle" font-family='"Liberation Sans", sans-serif' font-size="43">13</text><text x="1384.2" y="1056.2" text-anchor="middle" font-family='"Liberation Sans", sans-serif' font-size="43">15</text><text transform="translate(31,497.4) rotate(-90)" text-anchor="middle" font-family='"Liberation Sans", sans-serif' font-size="42.3">Capture width ratio (<tspan font-style="italic">CWR</tspan>)</text><text x="768.98" y="1116.5" text-anchor="middle" font-family='"Liberation Sans", sans-serif' font-size="42.7">Time Period (<tspan font-style="italic">s</tspan>)</text><text x="798" y="1204.4" text-anchor="middle" font-family='"Liberation Serif", serif' font-size="64">(a)</text><rect x="274.8" y="10.2" width="976.8" height="194.9" fill="#fff" stroke="#000" stroke-width="1.15"/><path d="M280.2 43.9 L372.5 43.9" stroke="#000000" stroke-width="3.3" fill="none"/><rect x="316.3" y="34.1" width="19.6" height="19.6" fill="#000000"/><text transform="translate(391.3,55.5) scale(1.16,1.03)" font-family='"Liberation Serif", serif' font-size="38">θ</text><text transform="translate(420.9,55.5) scale(1.22,1)" font-family='"Liberation Serif", serif' font-size="38">=</text><text x="464" y="55.5" font-family='"Liberation Serif", serif' font-size="38">0</text><text x="484.5" y="41" font-family='"Liberation Serif", serif' font-size="25.5">o</text><text transform="translate(508.7,55.1) scale(1,0.92)" font-family='"Liberation Sans", sans-serif' font-weight="bold" font-size="38">-</text><text x="531.2" y="57.5" font-family='"Liberation Serif", serif' font-size="41">ζ</text><text x="551" y="65.5" font-family='"Liberation Serif", serif' font-size="25.5">33</text><path d="M281.85 107 L372.5 107" stroke="#000000" stroke-width="3.3" fill="none" stroke-linecap="round" stroke-dasharray="12.1 17.4"/><rect x="316.95" y="97.85" width="18.31" height="18.31" fill="#fff" stroke="#000000" stroke-width="1.3"/><text transform="translate(391.3,118.6) scale(1.16,1.03)" font-family='"Liberation Serif", serif' font-size="38">θ</text><text transform="translate(420.9,118.6) scale(1.22,1)" font-family='"Liberation Serif", serif' font-size="38">=</text><text x="464" y="118.6" font-family='"Liberation Serif", serif' font-size="38">0</text><text x="484.5" y="104.1" font-family='"Liberation Serif", serif' font-size="25.5">o</text><text transform="translate(508.7,118.2) scale(1,0.92)" font-family='"Liberation Sans", sans-serif' font-weight="bold" font-size="38">-</text><text x="531.2" y="120.6" font-family='"Liberation Serif", serif' font-size="41">ζ</text><text x="551" y="128.6" font-family='"Liberation Serif", serif' font-size="25.5">44</text><path d="M281.66 170.3 L372.5 170.3" stroke="#000000" stroke-width="3.3" fill="none" stroke-linecap="round" stroke-dasharray="0.01 6.16"/><polygon points="310.77,170.3 333.76,157.02 333.76,183.58" fill="#000000"/><text transform="translate(391.3,181.9) scale(1.16,1.03)" font-family='"Liberation Serif", serif' font-size="38">θ</text><text transform="translate(420.9,181.9) scale(1.22,1)" font-family='"Liberation Serif", serif' font-size="38">=</text><text x="464" y="181.9" font-family='"Liberation Serif", serif' font-size="38">0</text><text x="484.5" y="167.4" font-family='"Liberation Serif", serif' font-size="25.5">o</text><text transform="translate(508.7,181.5) scale(1,0.92)" font-family='"Liberation Sans", sans-serif' font-weight="bold" font-size="38">-</text><text x="531.2" y="183.9" font-family='"Liberation Serif", serif' font-size="41">ζ</text><text x="551" y="191.9" font-family='"Liberation Serif", serif' font-size="25.5">55</text><path d="M597.9 43.9 L690.2 43.9" stroke="#ff0000" stroke-width="3.3" fill="none"/><circle cx="644.05" cy="43.9" r="10.26" fill="#ff0000"/><text transform="translate(709,55.5) scale(1.16,1.03)" font-family='"Liberation Serif", serif' font-size="38">θ</text><text transform="translate(738.6,55.5) scale(1.22,1)" font-family='"Liberation Serif", serif' font-size="38">=</text><text x="771.7" y="55.5" font-family='"Liberation Serif", serif' font-size="38">30</text><text x="810.8" y="41" font-family='"Liberation Serif", serif' font-size="25.5">o</text><text transform="translate(836.4,55.1) scale(1,0.92)" font-family='"Liberation Sans", sans-serif' font-weight="bold" font-size="38">-</text><text x="858.9" y="57.5" font-family='"Liberation Serif", serif' font-size="41">ζ</text><text x="878.7" y="65.5" font-family='"Liberation Serif", serif' font-size="25.5">33</text><path d="M599.55 107 L690.2 107" stroke="#ff0000" stroke-width="3.3" fill="none" stroke-linecap="round" stroke-dasharray="12.1 17.4"/><circle cx="644.05" cy="107" r="9.62" fill="#fff" stroke="#ff0000" stroke-width="1.27"/><text transform="translate(709,118.6) scale(1.16,1.03)" font-family='"Liberation Serif", serif' font-size="38">θ</text><text transform="translate(738.6,118.6) scale(1.22,1)" font-family='"Liberation Serif", serif' font-size="38">=</text><text x="771.7" y="118.6" font-family='"Liberation Serif", serif' font-size="38">30</text><text x="810.8" y="104.1" font-family='"Liberation Serif", serif' font-size="25.5">o</text><text transform="translate(836.4,118.2) scale(1,0.92)" font-family='"Liberation Sans", sans-serif' font-weight="bold" font-size="38">-</text><text x="858.9" y="120.6" font-family='"Liberation Serif", serif' font-size="41">ζ</text><text x="878.7" y="128.6" font-family='"Liberation Serif", serif' font-size="25.5">44</text><path d="M599.36 170.3 L690.2 170.3" stroke="#ff0000" stroke-width="3.3" fill="none" stroke-linecap="round" stroke-dasharray="0.01 6.16"/><polygon points="644.05,157.35 657,170.3 644.05,183.25 631.1,170.3" fill="#fff" stroke="#ff0000" stroke-width="1.33"/><polygon points="657,170.3 644.05,183.25 631.1,170.3" fill="#ff0000" stroke="#ff0000" stroke-width="1.33"/><text transform="translate(709,181.9) scale(1.16,1.03)" font-family='"Liberation Serif", serif' font-size="38">θ</text><text transform="translate(738.6,181.9) scale(1.22,1)" font-family='"Liberation Serif", serif' font-size="38">=</text><text x="771.7" y="181.9" font-family='"Liberation Serif", serif' font-size="38">30</text><text x="810.8" y="167.4" font-family='"Liberation Serif", serif' font-size="25.5">o</text><text transform="translate(836.4,181.5) scale(1,0.92)" font-family='"Liberation Sans", sans-serif' font-weight="bold" font-size="38">-</text><text x="858.9" y="183.9" font-family='"Liberation Serif", serif' font-size="41">ζ</text><text x="878.7" y="191.9" font-family='"Liberation Serif", serif' font-size="25.5">55</text><path d="M926.4 43.9 L1018.4 43.9" stroke="#0000ff" stroke-width="3.3" fill="none"/><polygon points="972.3,29.13 985.1,51.29 959.5,51.29" fill="#0000ff"/><text transform="translate(1037.2,55.5) scale(1.16,1.03)" font-family='"Liberation Serif", serif' font-size="38">θ</text><text transform="translate(1066.8,55.5) scale(1.22,1)" font-family='"Liberation Serif", serif' font-size="38">=</text><text x="1099.9" y="55.5" font-family='"Liberation Serif", serif' font-size="38">45</text><text x="1139" y="41" font-family='"Liberation Serif", serif' font-size="25.5">o</text><text transform="translate(1164.6,55.1) scale(1,0.92)" font-family='"Liberation Sans", sans-serif' font-weight="bold" font-size="38">-</text><text x="1187.1" y="57.5" font-family='"Liberation Serif", serif' font-size="41">ζ</text><text x="1206.9" y="65.5" font-family='"Liberation Serif", serif' font-size="25.5">33</text><path d="M928.05 107 L1018.4 107" stroke="#0000ff" stroke-width="3.3" fill="none" stroke-linecap="round" stroke-dasharray="12.1 17.4"/><polygon points="972.3,93.45 984.06,113.77 960.54,113.77" fill="#fff" stroke="#0000ff" stroke-width="1.28" stroke-linejoin="miter"/><text transform="translate(1037.2,118.6) scale(1.16,1.03)" font-family='"Liberation Serif", serif' font-size="38">θ</text><text transform="translate(1066.8,118.6) scale(1.22,1)" font-family='"Liberation Serif", serif' font-size="38">=</text><text x="1099.9" y="118.6" font-family='"Liberation Serif", serif' font-size="38">45</text><text x="1139" y="104.1" font-family='"Liberation Serif", serif' font-size="25.5">o</text><text transform="translate(1164.6,118.2) scale(1,0.92)" font-family='"Liberation Sans", sans-serif' font-weight="bold" font-size="38">-</text><text x="1187.1" y="120.6" font-family='"Liberation Serif", serif' font-size="41">ζ</text><text x="1206.9" y="128.6" font-family='"Liberation Serif", serif' font-size="25.5">44</text><path d="M927.86 170.3 L1018.4 170.3" stroke="#0000ff" stroke-width="3.3" fill="none" stroke-linecap="round" stroke-dasharray="0.01 6.16"/><polygon points="972.3,157.66 975.49,165.9 984.32,166.4 977.47,171.98 979.73,180.52 972.3,175.73 964.87,180.52 967.13,171.98 960.28,166.4 969.11,165.9" fill="#0000ff"/><text transform="translate(1037.2,181.9) scale(1.16,1.03)" font-family='"Liberation Serif", serif' font-size="38">θ</text><text transform="translate(1066.8,181.9) scale(1.22,1)" font-family='"Liberation Serif", serif' font-size="38">=</text><text x="1099.9" y="181.9" font-family='"Liberation Serif", serif' font-size="38">45</text><text x="1139" y="167.4" font-family='"Liberation Serif", serif' font-size="25.5">o</text><text transform="translate(1164.6,181.5) scale(1,0.92)" font-family='"Liberation Sans", sans-serif' font-weight="bold" font-size="38">-</text><text x="1187.1" y="183.9" font-family='"Liberation Serif", serif' font-size="41">ζ</text><text x="1206.9" y="191.9" font-family='"Liberation Serif", serif' font-size="25.5">55</text><clipPath id="cb"><rect x="161.75" y="1286.95" width="1227.9" height="989.25"/></clipPath><path d="M160.75 2110.74 H1389.65 M160.75 1945.98 H1389.65 M160.75 1781.22 H1389.65 M160.75 1616.47 H1389.65 M160.75 1451.71 H1389.65" stroke="#c9c9c9" stroke-width="1.4" fill="none" stroke-dasharray="6.1 5.95"/><path d="M243.07 1282.5 V2276.2 M406.81 1282.5 V2276.2 M570.55 1282.5 V2276.2 M734.29 1282.5 V2276.2 M898.03 1282.5 V2276.2 M1061.77 1282.5 V2276.2 M1225.51 1282.5 V2276.2" stroke="#c9c9c9" stroke-width="1.4" fill="none" stroke-dasharray="6.1 5.95"/><g clip-path="url(#cb)"><path d="M243.07 2273.67 L245.12 2273.78 L247.16 2273.86 L249.21 2273.91 L251.26 2273.88 L253.3 2273.78 L255.35 2273.56 L257.4 2273.22 L259.44 2272.73 L261.49 2272.06 L263.54 2271.21 L265.58 2270.14 L267.63 2268.83 L269.68 2267.27 L271.72 2265.42 L273.77 2263.28 L275.82 2260.82 L277.86 2258.01 L279.91 2254.84 L281.96 2251.29 L284 2247.32 L286.05 2242.93 L288.1 2238.09 L290.15 2232.78 L292.19 2226.97 L294.24 2220.65 L296.29 2213.8 L298.33 2206.39 L300.38 2198.39 L302.43 2189.8 L304.47 2180.59 L306.52 2170.74 L308.57 2160.22 L310.61 2149.02 L312.66 2137.11 L314.71 2124.47 L316.75 2111.08 L318.8 2096.92 L320.85 2081.97 L322.89 2066.2 L324.94 2049.6 L326.99 2032.15 L329.03 2013.91 L331.08 1994.93 L333.13 1975.28 L335.17 1955.02 L337.22 1934.2 L339.27 1912.89 L341.31 1891.14 L343.36 1869.03 L345.41 1846.6 L347.45 1823.93 L349.5 1801.06 L351.55 1778.07 L353.59 1755.01 L355.64 1731.95 L357.69 1708.93 L359.73 1686.03 L361.78 1663.31 L363.83 1640.82 L365.88 1618.63 L367.92 1596.8 L369.97 1575.39 L372.02 1554.45 L374.06 1534.05 L376.11 1514.26 L378.16 1495.12 L380.2 1476.71 L382.25 1459.08 L384.3 1442.29 L386.34 1426.4 L388.39 1411.48 L390.44 1397.59 L392.48 1384.78 L394.53 1373.12 L396.58 1362.66 L398.62 1353.48 L400.67 1345.62 L402.72 1339.15 L404.76 1334.14 L406.81 1330.63 L408.86 1328.67 L410.9 1328.23 L412.95 1329.25 L415 1331.67 L417.04 1335.43 L419.09 1340.47 L421.14 1346.74 L423.18 1354.19 L425.23 1362.74 L427.28 1372.35 L429.32 1382.96 L431.37 1394.52 L433.42 1406.95 L435.46 1420.22 L437.51 1434.25 L439.56 1449 L441.6 1464.4 L443.65 1480.4 L445.7 1496.93 L447.75 1513.96 L449.79 1531.4 L451.84 1549.22 L453.89 1567.35 L455.93 1585.73 L457.98 1604.31 L460.03 1623.03 L462.07 1641.83 L464.12 1660.65 L466.17 1679.44 L468.21 1698.15 L470.26 1716.7 L472.31 1735.05 L474.35 1753.14 L476.4 1770.91 L478.45 1788.31 L480.49 1805.27 L482.54 1821.74 L484.59 1837.66 L486.63 1852.98 L488.68 1867.63 L490.73 1881.58 L492.77 1894.82 L494.82 1907.38 L496.87 1919.28 L498.91 1930.53 L500.96 1941.15 L503.01 1951.16 L505.05 1960.58 L507.1 1969.42 L509.15 1977.71 L511.19 1985.46 L513.24 1992.69 L515.29 1999.42 L517.33 2005.67 L519.38 2011.45 L521.43 2016.79 L523.47 2021.7 L525.52 2026.19 L527.57 2030.3 L529.62 2034.03 L531.66 2037.41 L533.71 2040.45 L535.76 2043.18 L537.8 2045.6 L539.85 2047.74 L541.9 2049.62 L543.94 2051.25 L545.99 2052.65 L548.04 2053.84 L550.08 2054.85 L552.13 2055.68 L554.18 2056.35 L556.22 2056.89 L558.27 2057.31 L560.32 2057.63 L562.36 2057.87 L564.41 2058.05 L566.46 2058.18 L568.5 2058.29 L570.55 2058.38 L572.6 2058.49 L574.64 2058.6 L576.69 2058.72 L578.74 2058.85 L580.78 2058.99 L582.83 2059.13 L584.88 2059.28 L586.92 2059.43 L588.97 2059.6 L591.02 2059.76 L593.06 2059.93 L595.11 2060.1 L597.16 2060.28 L599.2 2060.46 L601.25 2060.64 L603.3 2060.82 L605.34 2061.01 L607.39 2061.19 L609.44 2061.38 L611.49 2061.56 L613.53 2061.74 L615.58 2061.92 L617.63 2062.1 L619.67 2062.28 L621.72 2062.45 L623.77 2062.61 L625.81 2062.78 L627.86 2062.94 L629.91 2063.09 L631.95 2063.24 L634 2063.38 L636.05 2063.51 L638.09 2063.63 L640.14 2063.75 L642.19 2063.86 L644.23 2063.96 L646.28 2064.04 L648.33 2064.12 L650.37 2064.19 L652.42 2064.24 L654.47 2064.29 L656.51 2064.32 L658.56 2064.34 L660.61 2064.35 L662.65 2064.35 L664.7 2064.34 L666.75 2064.32 L668.79 2064.29 L670.84 2064.25 L672.89 2064.21 L674.93 2064.16 L676.98 2064.1 L679.03 2064.03 L681.07 2063.96 L683.12 2063.89 L685.17 2063.81 L687.21 2063.72 L689.26 2063.63 L691.31 2063.54 L693.36 2063.45 L695.4 2063.35 L697.45 2063.25 L699.5 2063.15 L701.54 2063.05 L703.59 2062.94 L705.64 2062.84 L707.68 2062.74 L709.73 2062.64 L711.78 2062.54 L713.82 2062.44 L715.87 2062.35 L717.92 2062.25 L719.96 2062.17 L722.01 2062.08 L724.06 2062 L726.1 2061.92 L728.15 2061.85 L730.2 2061.79 L732.24 2061.73 L734.29 2061.68 L736.34 2061.64 L738.38 2061.6 L740.43 2061.57 L742.48 2061.55 L744.52 2061.53 L746.57 2061.52 L748.62 2061.52 L750.66 2061.52 L752.71 2061.53 L754.76 2061.55 L756.8 2061.57 L758.85 2061.59 L760.9 2061.63 L762.94 2061.67 L764.99 2061.71 L767.04 2061.76 L769.08 2061.82 L771.13 2061.88 L773.18 2061.94 L775.23 2062.01 L777.27 2062.09 L779.32 2062.17 L781.37 2062.25 L783.41 2062.34 L785.46 2062.43 L787.51 2062.53 L789.55 2062.63 L791.6 2062.73 L793.65 2062.84 L795.69 2062.95 L797.74 2063.07 L799.79 2063.19 L801.83 2063.31 L803.88 2063.44 L805.93 2063.56 L807.97 2063.69 L810.02 2063.83 L812.07 2063.96 L814.11 2064.1 L816.16 2064.24 L818.21 2064.39 L820.25 2064.53 L822.3 2064.68 L824.35 2064.83 L826.39 2064.98 L828.44 2065.13 L830.49 2065.29 L832.53 2065.45 L834.58 2065.61 L836.63 2065.77 L838.67 2065.94 L840.72 2066.1 L842.77 2066.27 L844.81 2066.44 L846.86 2066.61 L848.91 2066.79 L850.95 2066.97 L853 2067.14 L855.05 2067.33 L857.1 2067.51 L859.14 2067.69 L861.19 2067.88 L863.24 2068.07 L865.28 2068.26 L867.33 2068.45 L869.38 2068.65 L871.42 2068.84 L873.47 2069.04 L875.52 2069.24 L877.56 2069.44 L879.61 2069.65 L881.66 2069.85 L883.7 2070.06 L885.75 2070.27 L887.8 2070.48 L889.84 2070.69 L891.89 2070.91 L893.94 2071.13 L895.98 2071.35 L898.03 2071.57 L900.08 2071.79 L902.12 2072.01 L904.17 2072.24 L906.22 2072.46 L908.26 2072.69 L910.31 2072.92 L912.36 2073.15 L914.4 2073.39 L916.45 2073.62 L918.5 2073.85 L920.54 2074.09 L922.59 2074.33 L924.64 2074.57 L926.68 2074.8 L928.73 2075.04 L930.78 2075.28 L932.82 2075.53 L934.87 2075.77 L936.92 2076.01 L938.97 2076.25 L941.01 2076.49 L943.06 2076.74 L945.11 2076.98 L947.15 2077.22 L949.2 2077.47 L951.25 2077.71 L953.29 2077.95 L955.34 2078.2 L957.39 2078.44 L959.43 2078.68 L961.48 2078.93 L963.53 2079.17 L965.57 2079.41 L967.62 2079.65 L969.67 2079.89 L971.71 2080.13 L973.76 2080.37 L975.81 2080.61 L977.85 2080.85 L979.9 2081.08 L981.95 2081.32 L983.99 2081.56 L986.04 2081.79 L988.09 2082.02 L990.13 2082.25 L992.18 2082.49 L994.23 2082.72 L996.27 2082.95 L998.32 2083.18 L1000.37 2083.41 L1002.41 2083.64 L1004.46 2083.87 L1006.51 2084.1 L1008.55 2084.33 L1010.6 2084.56 L1012.65 2084.79 L1014.69 2085.02 L1016.74 2085.25 L1018.79 2085.48 L1020.84 2085.71 L1022.88 2085.95 L1024.93 2086.18 L1026.98 2086.41 L1029.02 2086.65 L1031.07 2086.89 L1033.12 2087.12 L1035.16 2087.36 L1037.21 2087.6 L1039.26 2087.84 L1041.3 2088.08 L1043.35 2088.33 L1045.4 2088.57 L1047.44 2088.82 L1049.49 2089.07 L1051.54 2089.32 L1053.58 2089.57 L1055.63 2089.83 L1057.68 2090.08 L1059.72 2090.34 L1061.77 2090.6 L1063.82 2090.87 L1065.86 2091.13 L1067.91 2091.4 L1069.96 2091.67 L1072 2091.94 L1074.05 2092.22 L1076.1 2092.49 L1078.14 2092.77 L1080.19 2093.04 L1082.24 2093.32 L1084.28 2093.6 L1086.33 2093.88 L1088.38 2094.16 L1090.42 2094.45 L1092.47 2094.73 L1094.52 2095.01 L1096.56 2095.3 L1098.61 2095.58 L1100.66 2095.86 L1102.71 2096.15 L1104.75 2096.43 L1106.8 2096.71 L1108.85 2096.99 L1110.89 2097.28 L1112.94 2097.56 L1114.99 2097.84 L1117.03 2098.11 L1119.08 2098.39 L1121.13 2098.67 L1123.17 2098.94 L1125.22 2099.22 L1127.27 2099.49 L1129.31 2099.76 L1131.36 2100.03 L1133.41 2100.29 L1135.45 2100.56 L1137.5 2100.82 L1139.55 2101.08 L1141.59 2101.33 L1143.64 2101.59 L1145.69 2101.84 L1147.73 2102.09 L1149.78 2102.33 L1151.83 2102.58 L1153.87 2102.82 L1155.92 2103.06 L1157.97 2103.29 L1160.01 2103.53 L1162.06 2103.76 L1164.11 2103.99 L1166.15 2104.22 L1168.2 2104.45 L1170.25 2104.68 L1172.29 2104.9 L1174.34 2105.13 L1176.39 2105.35 L1178.43 2105.57 L1180.48 2105.79 L1182.53 2106.01 L1184.58 2106.24 L1186.62 2106.46 L1188.67 2106.68 L1190.72 2106.9 L1192.76 2107.12 L1194.81 2107.34 L1196.86 2107.56 L1198.9 2107.78 L1200.95 2108 L1203 2108.22 L1205.04 2108.44 L1207.09 2108.67 L1209.14 2108.89 L1211.18 2109.12 L1213.23 2109.35 L1215.28 2109.57 L1217.32 2109.8 L1219.37 2110.04 L1221.42 2110.27 L1223.46 2110.5 L1225.51 2110.74 L1227.56 2110.98 L1229.6 2111.22 L1231.65 2111.47 L1233.7 2111.71 L1235.74 2111.96 L1237.79 2112.21 L1239.84 2112.45 L1241.88 2112.71 L1243.93 2112.96 L1245.98 2113.21 L1248.02 2113.46 L1250.07 2113.72 L1252.12 2113.97 L1254.16 2114.23 L1256.21 2114.48 L1258.26 2114.74 L1260.3 2115 L1262.35 2115.25 L1264.4 2115.51 L1266.45 2115.76 L1268.49 2116.02 L1270.54 2116.28 L1272.59 2116.53 L1274.63 2116.78 L1276.68 2117.04 L1278.73 2117.29 L1280.77 2117.54 L1282.82 2117.79 L1284.87 2118.03 L1286.91 2118.28 L1288.96 2118.52 L1291.01 2118.77 L1293.05 2119.01 L1295.1 2119.25 L1297.15 2119.48 L1299.19 2119.72 L1301.24 2119.95 L1303.29 2120.18 L1305.33 2120.4 L1307.38 2120.63 L1309.43 2120.85 L1311.47 2121.07 L1313.52 2121.28 L1315.57 2121.49 L1317.61 2121.7 L1319.66 2121.91 L1321.71 2122.11 L1323.75 2122.32 L1325.8 2122.52 L1327.85 2122.71 L1329.89 2122.91 L1331.94 2123.1 L1333.99 2123.29 L1336.03 2123.48 L1338.08 2123.67 L1340.13 2123.86 L1342.17 2124.04 L1344.22 2124.22 L1346.27 2124.4 L1348.32 2124.58 L1350.36 2124.76 L1352.41 2124.94 L1354.46 2125.11 L1356.5 2125.28 L1358.55 2125.46 L1360.6 2125.63 L1362.64 2125.8 L1364.69 2125.97 L1366.74 2126.13 L1368.78 2126.3 L1370.83 2126.47 L1372.88 2126.64 L1374.92 2126.8 L1376.97 2126.97 L1379.02 2127.13 L1381.06 2127.29 L1383.11 2127.46 L1385.16 2127.62 L1387.2 2127.79 L1389.25 2127.95" stroke="#000000" stroke-width="4.3" fill="none" stroke-linejoin="round"/><rect x="230.97" y="2261.57" width="24.2" height="24.2" fill="#000000"/><rect x="312.84" y="2037.5" width="24.2" height="24.2" fill="#000000"/><rect x="394.71" y="1318.53" width="24.2" height="24.2" fill="#000000"/><rect x="476.58" y="1855.53" width="24.2" height="24.2" fill="#000000"/><rect x="558.45" y="2046.28" width="24.2" height="24.2" fill="#000000"/><rect x="640.32" y="2052.14" width="24.2" height="24.2" fill="#000000"/><rect x="722.19" y="2049.58" width="24.2" height="24.2" fill="#000000"/><rect x="804.06" y="2052.14" width="24.2" height="24.2" fill="#000000"/><rect x="885.93" y="2059.47" width="24.2" height="24.2" fill="#000000"/><rect x="967.8" y="2068.98" width="24.2" height="24.2" fill="#000000"/><rect x="1049.67" y="2078.5" width="24.2" height="24.2" fill="#000000"/><rect x="1131.54" y="2089.49" width="24.2" height="24.2" fill="#000000"/><rect x="1213.41" y="2098.64" width="24.2" height="24.2" fill="#000000"/><rect x="1295.28" y="2108.53" width="24.2" height="24.2" fill="#000000"/><rect x="1377.15" y="2115.85" width="24.2" height="24.2" fill="#000000"/><path d="M243.07 2274.4 L245.12 2281.58 L247.16 2288.74 L249.21 2295.83 L251.26 2302.85 L253.3 2309.75 L255.35 2316.5 L257.4 2323.09 L259.44 2329.48 L261.49 2335.64 L263.54 2341.55 L265.58 2347.18 L267.63 2352.49 L269.68 2357.47 L271.72 2362.08 L273.77 2366.29 L275.82 2370.08 L277.86 2373.41 L279.91 2376.26 L281.96 2378.61 L284 2380.42 L286.05 2381.66 L288.1 2382.3 L290.15 2382.33 L292.19 2381.7 L294.24 2380.4 L296.29 2378.39 L298.33 2375.64 L300.38 2372.13 L302.43 2367.83 L304.47 2362.7 L306.52 2356.73 L308.57 2349.88 L310.61 2342.13 L312.66 2333.44 L314.71 2323.79 L316.75 2313.15 L318.8 2301.49 L320.85 2288.79 L322.89 2275.01 L324.94 2260.12 L326.99 2244.12 L329.03 2227.06 L331.08 2209.01 L333.13 2190.04 L335.17 2170.21 L337.22 2149.6 L339.27 2128.28 L341.31 2106.32 L343.36 2083.78 L345.41 2060.75 L347.45 2037.27 L349.5 2013.44 L351.55 1989.31 L353.59 1964.96 L355.64 1940.45 L357.69 1915.86 L359.73 1891.25 L361.78 1866.71 L363.83 1842.28 L365.88 1818.05 L367.92 1794.09 L369.97 1770.46 L372.02 1747.24 L374.06 1724.5 L376.11 1702.29 L378.16 1680.7 L380.2 1659.8 L382.25 1639.65 L384.3 1620.32 L386.34 1601.89 L388.39 1584.42 L390.44 1567.99 L392.48 1552.66 L394.53 1538.5 L396.58 1525.58 L398.62 1513.98 L400.67 1503.76 L402.72 1494.99 L404.76 1487.75 L406.81 1482.1 L408.86 1478.08 L410.9 1475.67 L412.95 1474.8 L415 1475.41 L417.04 1477.43 L419.09 1480.81 L421.14 1485.49 L423.18 1491.39 L425.23 1498.47 L427.28 1506.67 L429.32 1515.91 L431.37 1526.14 L433.42 1537.29 L435.46 1549.32 L437.51 1562.15 L439.56 1575.72 L441.6 1589.97 L443.65 1604.85 L445.7 1620.28 L447.75 1636.22 L449.79 1652.59 L451.84 1669.34 L453.89 1686.4 L455.93 1703.72 L457.98 1721.23 L460.03 1738.87 L462.07 1756.59 L464.12 1774.31 L466.17 1791.98 L468.21 1809.53 L470.26 1826.92 L472.31 1844.06 L474.35 1860.91 L476.4 1877.4 L478.45 1893.47 L480.49 1909.06 L482.54 1924.11 L484.59 1938.55 L486.63 1952.33 L488.68 1965.39 L490.73 1977.67 L492.77 1989.19 L494.82 1999.96 L496.87 2010.01 L498.91 2019.37 L500.96 2028.05 L503.01 2036.07 L505.05 2043.46 L507.1 2050.24 L509.15 2056.43 L511.19 2062.05 L513.24 2067.13 L515.29 2071.68 L517.33 2075.74 L519.38 2079.31 L521.43 2082.43 L523.47 2085.12 L525.52 2087.39 L527.57 2089.27 L529.62 2090.78 L531.66 2091.95 L533.71 2092.78 L535.76 2093.32 L537.8 2093.58 L539.85 2093.57 L541.9 2093.33 L543.94 2092.88 L545.99 2092.23 L548.04 2091.41 L550.08 2090.45 L552.13 2089.35 L554.18 2088.15 L556.22 2086.87 L558.27 2085.53 L560.32 2084.15 L562.36 2082.75 L564.41 2081.35 L566.46 2079.99 L568.5 2078.67 L570.55 2077.42 L572.6 2076.27 L574.64 2075.2 L576.69 2074.22 L578.74 2073.32 L580.78 2072.51 L582.83 2071.77 L584.88 2071.11 L586.92 2070.52 L588.97 2070 L591.02 2069.54 L593.06 2069.15 L595.11 2068.82 L597.16 2068.54 L599.2 2068.32 L601.25 2068.15 L603.3 2068.02 L605.34 2067.95 L607.39 2067.91 L609.44 2067.91 L611.49 2067.95 L613.53 2068.02 L615.58 2068.12 L617.63 2068.25 L619.67 2068.4 L621.72 2068.57 L623.77 2068.76 L625.81 2068.96 L627.86 2069.18 L629.91 2069.4 L631.95 2069.63 L634 2069.86 L636.05 2070.09 L638.09 2070.32 L640.14 2070.54 L642.19 2070.76 L644.23 2070.95 L646.28 2071.14 L648.33 2071.3 L650.37 2071.45 L652.42 2071.57 L654.47 2071.66 L656.51 2071.72 L658.56 2071.76 L660.61 2071.78 L662.65 2071.77 L664.7 2071.74 L666.75 2071.69 L668.79 2071.61 L670.84 2071.52 L672.89 2071.41 L674.93 2071.29 L676.98 2071.15 L679.03 2070.99 L681.07 2070.82 L683.12 2070.63 L685.17 2070.44 L687.21 2070.23 L689.26 2070.02 L691.31 2069.79 L693.36 2069.56 L695.4 2069.32 L697.45 2069.08 L699.5 2068.83 L701.54 2068.58 L703.59 2068.32 L705.64 2068.07 L707.68 2067.81 L709.73 2067.56 L711.78 2067.31 L713.82 2067.06 L715.87 2066.81 L717.92 2066.57 L719.96 2066.34 L722.01 2066.12 L724.06 2065.9 L726.1 2065.69 L728.15 2065.49 L730.2 2065.31 L732.24 2065.13 L734.29 2064.98 L736.34 2064.83 L738.38 2064.7 L740.43 2064.58 L742.48 2064.48 L744.52 2064.39 L746.57 2064.32 L748.62 2064.25 L750.66 2064.2 L752.71 2064.16 L754.76 2064.13 L756.8 2064.11 L758.85 2064.11 L760.9 2064.11 L762.94 2064.13 L764.99 2064.15 L767.04 2064.18 L769.08 2064.22 L771.13 2064.28 L773.18 2064.33 L775.23 2064.4 L777.27 2064.47 L779.32 2064.55 L781.37 2064.64 L783.41 2064.74 L785.46 2064.84 L787.51 2064.94 L789.55 2065.05 L791.6 2065.17 L793.65 2065.29 L795.69 2065.41 L797.74 2065.54 L799.79 2065.67 L801.83 2065.81 L803.88 2065.95 L805.93 2066.09 L807.97 2066.23 L810.02 2066.37 L812.07 2066.51 L814.11 2066.66 L816.16 2066.81 L818.21 2066.95 L820.25 2067.1 L822.3 2067.24 L824.35 2067.39 L826.39 2067.54 L828.44 2067.69 L830.49 2067.83 L832.53 2067.98 L834.58 2068.13 L836.63 2068.28 L838.67 2068.43 L840.72 2068.58 L842.77 2068.74 L844.81 2068.89 L846.86 2069.04 L848.91 2069.2 L850.95 2069.36 L853 2069.51 L855.05 2069.67 L857.1 2069.83 L859.14 2069.99 L861.19 2070.16 L863.24 2070.32 L865.28 2070.49 L867.33 2070.65 L869.38 2070.82 L871.42 2070.99 L873.47 2071.17 L875.52 2071.34 L877.56 2071.52 L879.61 2071.7 L881.66 2071.88 L883.7 2072.06 L885.75 2072.24 L887.8 2072.43 L889.84 2072.62 L891.89 2072.81 L893.94 2073 L895.98 2073.2 L898.03 2073.4 L900.08 2073.6 L902.12 2073.8 L904.17 2074.01 L906.22 2074.21 L908.26 2074.43 L910.31 2074.64 L912.36 2074.85 L914.4 2075.07 L916.45 2075.29 L918.5 2075.51 L920.54 2075.73 L922.59 2075.95 L924.64 2076.18 L926.68 2076.41 L928.73 2076.63 L930.78 2076.86 L932.82 2077.09 L934.87 2077.33 L936.92 2077.56 L938.97 2077.79 L941.01 2078.03 L943.06 2078.26 L945.11 2078.5 L947.15 2078.74 L949.2 2078.97 L951.25 2079.21 L953.29 2079.45 L955.34 2079.69 L957.39 2079.93 L959.43 2080.17 L961.48 2080.41 L963.53 2080.65 L965.57 2080.88 L967.62 2081.12 L969.67 2081.36 L971.71 2081.6 L973.76 2081.84 L975.81 2082.08 L977.85 2082.31 L979.9 2082.55 L981.95 2082.79 L983.99 2083.02 L986.04 2083.25 L988.09 2083.49 L990.13 2083.72 L992.18 2083.95 L994.23 2084.19 L996.27 2084.42 L998.32 2084.65 L1000.37 2084.88 L1002.41 2085.11 L1004.46 2085.35 L1006.51 2085.58 L1008.55 2085.81 L1010.6 2086.04 L1012.65 2086.27 L1014.69 2086.5 L1016.74 2086.74 L1018.79 2086.97 L1020.84 2087.2 L1022.88 2087.44 L1024.93 2087.67 L1026.98 2087.91 L1029.02 2088.14 L1031.07 2088.38 L1033.12 2088.62 L1035.16 2088.86 L1037.21 2089.1 L1039.26 2089.34 L1041.3 2089.58 L1043.35 2089.82 L1045.4 2090.06 L1047.44 2090.31 L1049.49 2090.56 L1051.54 2090.8 L1053.58 2091.05 L1055.63 2091.31 L1057.68 2091.56 L1059.72 2091.81 L1061.77 2092.07 L1063.82 2092.33 L1065.86 2092.59 L1067.91 2092.85 L1069.96 2093.11 L1072 2093.37 L1074.05 2093.64 L1076.1 2093.91 L1078.14 2094.17 L1080.19 2094.44 L1082.24 2094.71 L1084.28 2094.98 L1086.33 2095.25 L1088.38 2095.52 L1090.42 2095.8 L1092.47 2096.07 L1094.52 2096.34 L1096.56 2096.61 L1098.61 2096.89 L1100.66 2097.16 L1102.71 2097.43 L1104.75 2097.7 L1106.8 2097.98 L1108.85 2098.25 L1110.89 2098.52 L1112.94 2098.79 L1114.99 2099.06 L1117.03 2099.33 L1119.08 2099.59 L1121.13 2099.86 L1123.17 2100.12 L1125.22 2100.39 L1127.27 2100.65 L1129.31 2100.91 L1131.36 2101.17 L1133.41 2101.43 L1135.45 2101.68 L1137.5 2101.94 L1139.55 2102.19 L1141.59 2102.44 L1143.64 2102.69 L1145.69 2102.93 L1147.73 2103.17 L1149.78 2103.42 L1151.83 2103.65 L1153.87 2103.89 L1155.92 2104.13 L1157.97 2104.36 L1160.01 2104.59 L1162.06 2104.82 L1164.11 2105.05 L1166.15 2105.28 L1168.2 2105.5 L1170.25 2105.73 L1172.29 2105.95 L1174.34 2106.18 L1176.39 2106.4 L1178.43 2106.62 L1180.48 2106.85 L1182.53 2107.07 L1184.58 2107.29 L1186.62 2107.51 L1188.67 2107.73 L1190.72 2107.95 L1192.76 2108.17 L1194.81 2108.4 L1196.86 2108.62 L1198.9 2108.84 L1200.95 2109.07 L1203 2109.29 L1205.04 2109.52 L1207.09 2109.74 L1209.14 2109.97 L1211.18 2110.2 L1213.23 2110.43 L1215.28 2110.66 L1217.32 2110.89 L1219.37 2111.13 L1221.42 2111.36 L1223.46 2111.6 L1225.51 2111.84 L1227.56 2112.08 L1229.6 2112.33 L1231.65 2112.57 L1233.7 2112.82 L1235.74 2113.07 L1237.79 2113.32 L1239.84 2113.57 L1241.88 2113.82 L1243.93 2114.08 L1245.98 2114.33 L1248.02 2114.59 L1250.07 2114.84 L1252.12 2115.1 L1254.16 2115.36 L1256.21 2115.62 L1258.26 2115.87 L1260.3 2116.13 L1262.35 2116.39 L1264.4 2116.64 L1266.45 2116.9 L1268.49 2117.16 L1270.54 2117.41 L1272.59 2117.67 L1274.63 2117.92 L1276.68 2118.17 L1278.73 2118.42 L1280.77 2118.67 L1282.82 2118.92 L1284.87 2119.16 L1286.91 2119.41 L1288.96 2119.65 L1291.01 2119.89 L1293.05 2120.13 L1295.1 2120.37 L1297.15 2120.6 L1299.19 2120.83 L1301.24 2121.06 L1303.29 2121.28 L1305.33 2121.51 L1307.38 2121.73 L1309.43 2121.94 L1311.47 2122.15 L1313.52 2122.36 L1315.57 2122.57 L1317.61 2122.77 L1319.66 2122.97 L1321.71 2123.17 L1323.75 2123.37 L1325.8 2123.56 L1327.85 2123.75 L1329.89 2123.94 L1331.94 2124.12 L1333.99 2124.31 L1336.03 2124.49 L1338.08 2124.67 L1340.13 2124.84 L1342.17 2125.02 L1344.22 2125.19 L1346.27 2125.36 L1348.32 2125.53 L1350.36 2125.7 L1352.41 2125.86 L1354.46 2126.03 L1356.5 2126.19 L1358.55 2126.35 L1360.6 2126.51 L1362.64 2126.67 L1364.69 2126.83 L1366.74 2126.99 L1368.78 2127.15 L1370.83 2127.3 L1372.88 2127.46 L1374.92 2127.61 L1376.97 2127.77 L1379.02 2127.92 L1381.06 2128.07 L1383.11 2128.23 L1385.16 2128.38 L1387.2 2128.53 L1389.25 2128.68" stroke="#ff0000" stroke-width="4.3" fill="none" stroke-linejoin="round"/><circle cx="243.07" cy="2274.4" r="12.9" fill="#ff0000"/><circle cx="324.94" cy="2260.12" r="12.9" fill="#ff0000"/><circle cx="406.81" cy="1482.1" r="12.9" fill="#ff0000"/><circle cx="488.68" cy="1965.39" r="12.9" fill="#ff0000"/><circle cx="570.55" cy="2077.42" r="12.9" fill="#ff0000"/><circle cx="652.42" cy="2071.57" r="12.9" fill="#ff0000"/><circle cx="734.29" cy="2064.98" r="12.9" fill="#ff0000"/><circle cx="816.16" cy="2066.81" r="12.9" fill="#ff0000"/><circle cx="898.03" cy="2073.4" r="12.9" fill="#ff0000"/><circle cx="979.9" cy="2082.55" r="12.9" fill="#ff0000"/><circle cx="1061.77" cy="2092.07" r="12.9" fill="#ff0000"/><circle cx="1143.64" cy="2102.69" r="12.9" fill="#ff0000"/><circle cx="1225.51" cy="2111.84" r="12.9" fill="#ff0000"/><circle cx="1307.38" cy="2121.73" r="12.9" fill="#ff0000"/><circle cx="1389.25" cy="2128.68" r="12.9" fill="#ff0000"/><path d="M243.07 2274.77 L245.12 2278.88 L247.16 2282.98 L249.21 2287.05 L251.26 2291.07 L253.3 2295.03 L255.35 2298.91 L257.4 2302.7 L259.44 2306.37 L261.49 2309.93 L263.54 2313.34 L265.58 2316.6 L267.63 2319.69 L269.68 2322.59 L271.72 2325.29 L273.77 2327.78 L275.82 2330.02 L277.86 2332.02 L279.91 2333.76 L281.96 2335.22 L284 2336.38 L286.05 2337.23 L288.1 2337.75 L290.15 2337.94 L292.19 2337.76 L294.24 2337.21 L296.29 2336.28 L298.33 2334.94 L300.38 2333.18 L302.43 2330.98 L304.47 2328.33 L306.52 2325.22 L308.57 2321.63 L310.61 2317.54 L312.66 2312.93 L314.71 2307.8 L316.75 2302.12 L318.8 2295.89 L320.85 2289.08 L322.89 2281.68 L324.94 2273.67 L326.99 2265.05 L329.03 2255.84 L331.08 2246.09 L333.13 2235.83 L335.17 2225.09 L337.22 2213.92 L339.27 2202.35 L341.31 2190.41 L343.36 2178.15 L345.41 2165.6 L347.45 2152.8 L349.5 2139.78 L351.55 2126.59 L353.59 2113.25 L355.64 2099.81 L357.69 2086.31 L359.73 2072.77 L361.78 2059.24 L363.83 2045.76 L365.88 2032.36 L367.92 2019.08 L369.97 2005.95 L372.02 1993.01 L374.06 1980.3 L376.11 1967.86 L378.16 1955.72 L380.2 1943.93 L382.25 1932.5 L384.3 1921.5 L386.34 1910.94 L388.39 1900.88 L390.44 1891.33 L392.48 1882.35 L394.53 1873.97 L396.58 1866.23 L398.62 1859.16 L400.67 1852.79 L402.72 1847.18 L404.76 1842.35 L406.81 1838.34 L408.86 1835.18 L410.9 1832.84 L412.95 1831.3 L415 1830.53 L417.04 1830.49 L419.09 1831.15 L421.14 1832.49 L423.18 1834.47 L425.23 1837.05 L427.28 1840.22 L429.32 1843.94 L431.37 1848.17 L433.42 1852.89 L435.46 1858.06 L437.51 1863.66 L439.56 1869.65 L441.6 1876.01 L443.65 1882.7 L445.7 1889.68 L447.75 1896.94 L449.79 1904.44 L451.84 1912.14 L453.89 1920.02 L455.93 1928.05 L457.98 1936.19 L460.03 1944.42 L462.07 1952.7 L464.12 1961 L466.17 1969.29 L468.21 1977.54 L470.26 1985.73 L472.31 1993.81 L474.35 2001.75 L476.4 2009.54 L478.45 2017.12 L480.49 2024.49 L482.54 2031.59 L484.59 2038.41 L486.63 2044.91 L488.68 2051.06 L490.73 2056.84 L492.77 2062.25 L494.82 2067.29 L496.87 2071.99 L498.91 2076.35 L500.96 2080.38 L503.01 2084.1 L505.05 2087.5 L507.1 2090.61 L509.15 2093.44 L511.19 2095.98 L513.24 2098.27 L515.29 2100.29 L517.33 2102.07 L519.38 2103.62 L521.43 2104.95 L523.47 2106.06 L525.52 2106.97 L527.57 2107.68 L529.62 2108.22 L531.66 2108.58 L533.71 2108.78 L535.76 2108.84 L537.8 2108.75 L539.85 2108.53 L541.9 2108.19 L543.94 2107.75 L545.99 2107.2 L548.04 2106.57 L550.08 2105.86 L552.13 2105.09 L554.18 2104.26 L556.22 2103.38 L558.27 2102.47 L560.32 2101.53 L562.36 2100.58 L564.41 2099.62 L566.46 2098.67 L568.5 2097.73 L570.55 2096.83 L572.6 2095.96 L574.64 2095.12 L576.69 2094.33 L578.74 2093.56 L580.78 2092.83 L582.83 2092.13 L584.88 2091.47 L586.92 2090.83 L588.97 2090.22 L591.02 2089.65 L593.06 2089.09 L595.11 2088.57 L597.16 2088.07 L599.2 2087.59 L601.25 2087.13 L603.3 2086.7 L605.34 2086.29 L607.39 2085.89 L609.44 2085.52 L611.49 2085.16 L613.53 2084.82 L615.58 2084.49 L617.63 2084.18 L619.67 2083.88 L621.72 2083.6 L623.77 2083.32 L625.81 2083.05 L627.86 2082.79 L629.91 2082.54 L631.95 2082.3 L634 2082.06 L636.05 2081.83 L638.09 2081.6 L640.14 2081.37 L642.19 2081.14 L644.23 2080.92 L646.28 2080.69 L648.33 2080.46 L650.37 2080.22 L652.42 2079.99 L654.47 2079.74 L656.51 2079.5 L658.56 2079.24 L660.61 2078.99 L662.65 2078.73 L664.7 2078.47 L666.75 2078.2 L668.79 2077.93 L670.84 2077.66 L672.89 2077.39 L674.93 2077.12 L676.98 2076.84 L679.03 2076.57 L681.07 2076.29 L683.12 2076.02 L685.17 2075.75 L687.21 2075.47 L689.26 2075.2 L691.31 2074.94 L693.36 2074.67 L695.4 2074.41 L697.45 2074.15 L699.5 2073.89 L701.54 2073.64 L703.59 2073.39 L705.64 2073.14 L707.68 2072.91 L709.73 2072.67 L711.78 2072.45 L713.82 2072.23 L715.87 2072.01 L717.92 2071.81 L719.96 2071.61 L722.01 2071.42 L724.06 2071.24 L726.1 2071.06 L728.15 2070.9 L730.2 2070.75 L732.24 2070.6 L734.29 2070.47 L736.34 2070.34 L738.38 2070.23 L740.43 2070.13 L742.48 2070.04 L744.52 2069.96 L746.57 2069.88 L748.62 2069.82 L750.66 2069.76 L752.71 2069.72 L754.76 2069.68 L756.8 2069.65 L758.85 2069.63 L760.9 2069.62 L762.94 2069.61 L764.99 2069.61 L767.04 2069.62 L769.08 2069.64 L771.13 2069.66 L773.18 2069.69 L775.23 2069.72 L777.27 2069.76 L779.32 2069.8 L781.37 2069.85 L783.41 2069.9 L785.46 2069.96 L787.51 2070.02 L789.55 2070.09 L791.6 2070.16 L793.65 2070.24 L795.69 2070.31 L797.74 2070.39 L799.79 2070.47 L801.83 2070.56 L803.88 2070.65 L805.93 2070.74 L807.97 2070.83 L810.02 2070.92 L812.07 2071.01 L814.11 2071.11 L816.16 2071.2 L818.21 2071.29 L820.25 2071.39 L822.3 2071.48 L824.35 2071.58 L826.39 2071.68 L828.44 2071.78 L830.49 2071.87 L832.53 2071.97 L834.58 2072.07 L836.63 2072.18 L838.67 2072.28 L840.72 2072.38 L842.77 2072.49 L844.81 2072.6 L846.86 2072.71 L848.91 2072.82 L850.95 2072.93 L853 2073.05 L855.05 2073.17 L857.1 2073.29 L859.14 2073.41 L861.19 2073.53 L863.24 2073.66 L865.28 2073.79 L867.33 2073.93 L869.38 2074.06 L871.42 2074.2 L873.47 2074.34 L875.52 2074.49 L877.56 2074.64 L879.61 2074.79 L881.66 2074.94 L883.7 2075.1 L885.75 2075.26 L887.8 2075.43 L889.84 2075.6 L891.89 2075.78 L893.94 2075.95 L895.98 2076.14 L898.03 2076.33 L900.08 2076.52 L902.12 2076.71 L904.17 2076.91 L906.22 2077.12 L908.26 2077.32 L910.31 2077.54 L912.36 2077.75 L914.4 2077.97 L916.45 2078.19 L918.5 2078.41 L920.54 2078.64 L922.59 2078.87 L924.64 2079.1 L926.68 2079.33 L928.73 2079.57 L930.78 2079.8 L932.82 2080.04 L934.87 2080.28 L936.92 2080.52 L938.97 2080.76 L941.01 2081 L943.06 2081.24 L945.11 2081.49 L947.15 2081.73 L949.2 2081.97 L951.25 2082.21 L953.29 2082.46 L955.34 2082.7 L957.39 2082.94 L959.43 2083.18 L961.48 2083.42 L963.53 2083.65 L965.57 2083.89 L967.62 2084.12 L969.67 2084.35 L971.71 2084.58 L973.76 2084.81 L975.81 2085.04 L977.85 2085.26 L979.9 2085.48 L981.95 2085.7 L983.99 2085.91 L986.04 2086.12 L988.09 2086.33 L990.13 2086.53 L992.18 2086.74 L994.23 2086.94 L996.27 2087.14 L998.32 2087.34 L1000.37 2087.54 L1002.41 2087.73 L1004.46 2087.93 L1006.51 2088.12 L1008.55 2088.31 L1010.6 2088.5 L1012.65 2088.69 L1014.69 2088.88 L1016.74 2089.07 L1018.79 2089.26 L1020.84 2089.45 L1022.88 2089.64 L1024.93 2089.84 L1026.98 2090.03 L1029.02 2090.22 L1031.07 2090.41 L1033.12 2090.61 L1035.16 2090.8 L1037.21 2091 L1039.26 2091.2 L1041.3 2091.4 L1043.35 2091.6 L1045.4 2091.8 L1047.44 2092.01 L1049.49 2092.22 L1051.54 2092.43 L1053.58 2092.65 L1055.63 2092.86 L1057.68 2093.08 L1059.72 2093.31 L1061.77 2093.53 L1063.82 2093.76 L1065.86 2094 L1067.91 2094.23 L1069.96 2094.47 L1072 2094.72 L1074.05 2094.96 L1076.1 2095.21 L1078.14 2095.46 L1080.19 2095.71 L1082.24 2095.97 L1084.28 2096.23 L1086.33 2096.48 L1088.38 2096.74 L1090.42 2097.01 L1092.47 2097.27 L1094.52 2097.53 L1096.56 2097.8 L1098.61 2098.06 L1100.66 2098.33 L1102.71 2098.6 L1104.75 2098.86 L1106.8 2099.13 L1108.85 2099.4 L1110.89 2099.67 L1112.94 2099.93 L1114.99 2100.2 L1117.03 2100.47 L1119.08 2100.73 L1121.13 2100.99 L1123.17 2101.26 L1125.22 2101.52 L1127.27 2101.78 L1129.31 2102.04 L1131.36 2102.29 L1133.41 2102.55 L1135.45 2102.8 L1137.5 2103.05 L1139.55 2103.3 L1141.59 2103.54 L1143.64 2103.79 L1145.69 2104.02 L1147.73 2104.26 L1149.78 2104.49 L1151.83 2104.73 L1153.87 2104.96 L1155.92 2105.18 L1157.97 2105.41 L1160.01 2105.63 L1162.06 2105.85 L1164.11 2106.07 L1166.15 2106.29 L1168.2 2106.5 L1170.25 2106.72 L1172.29 2106.93 L1174.34 2107.15 L1176.39 2107.36 L1178.43 2107.57 L1180.48 2107.78 L1182.53 2107.99 L1184.58 2108.2 L1186.62 2108.41 L1188.67 2108.62 L1190.72 2108.83 L1192.76 2109.04 L1194.81 2109.25 L1196.86 2109.47 L1198.9 2109.68 L1200.95 2109.89 L1203 2110.11 L1205.04 2110.32 L1207.09 2110.54 L1209.14 2110.76 L1211.18 2110.98 L1213.23 2111.2 L1215.28 2111.42 L1217.32 2111.65 L1219.37 2111.88 L1221.42 2112.11 L1223.46 2112.34 L1225.51 2112.57 L1227.56 2112.81 L1229.6 2113.05 L1231.65 2113.29 L1233.7 2113.54 L1235.74 2113.78 L1237.79 2114.03 L1239.84 2114.28 L1241.88 2114.53 L1243.93 2114.79 L1245.98 2115.04 L1248.02 2115.3 L1250.07 2115.55 L1252.12 2115.81 L1254.16 2116.07 L1256.21 2116.33 L1258.26 2116.59 L1260.3 2116.85 L1262.35 2117.1 L1264.4 2117.36 L1266.45 2117.62 L1268.49 2117.88 L1270.54 2118.14 L1272.59 2118.39 L1274.63 2118.65 L1276.68 2118.9 L1278.73 2119.15 L1280.77 2119.4 L1282.82 2119.65 L1284.87 2119.9 L1286.91 2120.15 L1288.96 2120.39 L1291.01 2120.63 L1293.05 2120.87 L1295.1 2121.11 L1297.15 2121.34 L1299.19 2121.57 L1301.24 2121.8 L1303.29 2122.02 L1305.33 2122.24 L1307.38 2122.46 L1309.43 2122.67 L1311.47 2122.88 L1313.52 2123.09 L1315.57 2123.29 L1317.61 2123.49 L1319.66 2123.68 L1321.71 2123.88 L1323.75 2124.06 L1325.8 2124.25 L1327.85 2124.43 L1329.89 2124.62 L1331.94 2124.79 L1333.99 2124.97 L1336.03 2125.14 L1338.08 2125.31 L1340.13 2125.48 L1342.17 2125.65 L1344.22 2125.81 L1346.27 2125.97 L1348.32 2126.13 L1350.36 2126.29 L1352.41 2126.44 L1354.46 2126.6 L1356.5 2126.75 L1358.55 2126.9 L1360.6 2127.05 L1362.64 2127.2 L1364.69 2127.35 L1366.74 2127.49 L1368.78 2127.64 L1370.83 2127.78 L1372.88 2127.92 L1374.92 2128.07 L1376.97 2128.21 L1379.02 2128.35 L1381.06 2128.49 L1383.11 2128.63 L1385.16 2128.77 L1387.2 2128.91 L1389.25 2129.05" stroke="#0000ff" stroke-width="4.3" fill="none" stroke-linejoin="round"/><polygon points="243.07,2256.3 259.07,2284 227.07,2284" fill="#0000ff"/><polygon points="324.94,2255.2 340.94,2282.9 308.94,2282.9" fill="#0000ff"/><polygon points="406.81,1819.87 422.81,1847.57 390.81,1847.57" fill="#0000ff"/><polygon points="488.68,2032.6 504.68,2060.3 472.68,2060.3" fill="#0000ff"/><polygon points="570.55,2078.36 586.55,2106.06 554.55,2106.06" fill="#0000ff"/><polygon points="652.42,2061.52 668.42,2089.22 636.42,2089.22" fill="#0000ff"/><polygon points="734.29,2052 750.29,2079.7 718.29,2079.7" fill="#0000ff"/><polygon points="816.16,2052.73 832.16,2080.43 800.16,2080.43" fill="#0000ff"/><polygon points="898.03,2057.86 914.03,2085.56 882.03,2085.56" fill="#0000ff"/><polygon points="979.9,2067.01 995.9,2094.71 963.9,2094.71" fill="#0000ff"/><polygon points="1061.77,2075.07 1077.77,2102.77 1045.77,2102.77" fill="#0000ff"/><polygon points="1143.64,2085.32 1159.64,2113.02 1127.64,2113.02" fill="#0000ff"/><polygon points="1225.51,2094.11 1241.51,2121.81 1209.51,2121.81" fill="#0000ff"/><polygon points="1307.38,2103.99 1323.38,2131.69 1291.38,2131.69" fill="#0000ff"/><polygon points="1389.25,2110.58 1405.25,2138.28 1373.25,2138.28" fill="#0000ff"/><path d="M243.07 2275.5 L245.12 2275.49 L247.16 2275.49 L249.21 2275.48 L251.26 2275.48 L253.3 2275.47 L255.35 2275.46 L257.4 2275.46 L259.44 2275.45 L261.49 2275.45 L263.54 2275.44 L265.58 2275.44 L267.63 2275.43 L269.68 2275.43 L271.72 2275.42 L273.77 2275.42 L275.82 2275.42 L277.86 2275.41 L279.91 2275.41 L281.96 2275.41 L284 2275.41 L286.05 2275.41 L288.1 2275.4 L290.15 2275.4 L292.19 2275.4 L294.24 2275.41 L296.29 2275.41 L298.33 2275.41 L300.38 2275.41 L302.43 2275.41 L304.47 2275.42 L306.52 2275.42 L308.57 2275.43 L310.61 2275.43 L312.66 2275.44 L314.71 2275.45 L316.75 2275.46 L318.8 2275.47 L320.85 2275.48 L322.89 2275.49 L324.94 2275.5 L326.99 2275.51 L329.03 2275.53 L331.08 2275.54 L333.13 2275.56 L335.17 2275.57 L337.22 2275.59 L339.27 2275.61 L341.31 2275.63 L343.36 2275.64 L345.41 2275.66 L347.45 2275.68 L349.5 2275.7 L351.55 2275.72 L353.59 2275.74 L355.64 2275.76 L357.69 2275.79 L359.73 2275.81 L361.78 2275.83 L363.83 2275.85 L365.88 2275.87 L367.92 2275.89 L369.97 2275.91 L372.02 2275.94 L374.06 2275.96 L376.11 2275.98 L378.16 2276 L380.2 2276.02 L382.25 2276.04 L384.3 2276.06 L386.34 2276.08 L388.39 2276.1 L390.44 2276.11 L392.48 2276.13 L394.53 2276.15 L396.58 2276.16 L398.62 2276.18 L400.67 2276.19 L402.72 2276.21 L404.76 2276.22 L406.81 2276.23 L408.86 2276.24 L410.9 2276.25 L412.95 2276.26 L415 2276.27 L417.04 2276.28 L419.09 2276.28 L421.14 2276.29 L423.18 2276.29 L425.23 2276.3 L427.28 2276.3 L429.32 2276.3 L431.37 2276.31 L433.42 2276.31 L435.46 2276.31 L437.51 2276.31 L439.56 2276.31 L441.6 2276.31 L443.65 2276.31 L445.7 2276.31 L447.75 2276.3 L449.79 2276.3 L451.84 2276.3 L453.89 2276.3 L455.93 2276.29 L457.98 2276.29 L460.03 2276.29 L462.07 2276.28 L464.12 2276.28 L466.17 2276.27 L468.21 2276.27 L470.26 2276.27 L472.31 2276.26 L474.35 2276.26 L476.4 2276.25 L478.45 2276.25 L480.49 2276.25 L482.54 2276.24 L484.59 2276.24 L486.63 2276.24 L488.68 2276.23 L490.73 2276.23 L492.77 2276.23 L494.82 2276.22 L496.87 2276.22 L498.91 2276.22 L500.96 2276.22 L503.01 2276.22 L505.05 2276.22 L507.1 2276.21 L509.15 2276.21 L511.19 2276.21 L513.24 2276.21 L515.29 2276.21 L517.33 2276.21 L519.38 2276.21 L521.43 2276.21 L523.47 2276.21 L525.52 2276.21 L527.57 2276.21 L529.62 2276.21 L531.66 2276.21 L533.71 2276.21 L535.76 2276.21 L537.8 2276.22 L539.85 2276.22 L541.9 2276.22 L543.94 2276.22 L545.99 2276.22 L548.04 2276.22 L550.08 2276.22 L552.13 2276.22 L554.18 2276.22 L556.22 2276.23 L558.27 2276.23 L560.32 2276.23 L562.36 2276.23 L564.41 2276.23 L566.46 2276.23 L568.5 2276.23 L570.55 2276.23 L572.6 2276.23 L574.64 2276.23 L576.69 2276.23 L578.74 2276.23 L580.78 2276.24 L582.83 2276.24 L584.88 2276.24 L586.92 2276.24 L588.97 2276.24 L591.02 2276.24 L593.06 2276.24 L595.11 2276.24 L597.16 2276.24 L599.2 2276.24 L601.25 2276.24 L603.3 2276.24 L605.34 2276.24 L607.39 2276.24 L609.44 2276.24 L611.49 2276.24 L613.53 2276.24 L615.58 2276.24 L617.63 2276.24 L619.67 2276.24 L621.72 2276.24 L623.77 2276.24 L625.81 2276.24 L627.86 2276.24 L629.91 2276.24 L631.95 2276.24 L634 2276.23 L636.05 2276.23 L638.09 2276.23 L640.14 2276.23 L642.19 2276.23 L644.23 2276.23 L646.28 2276.23 L648.33 2276.23 L650.37 2276.23 L652.42 2276.23 L654.47 2276.23 L656.51 2276.23 L658.56 2276.23 L660.61 2276.23 L662.65 2276.23 L664.7 2276.23 L666.75 2276.23 L668.79 2276.23 L670.84 2276.23 L672.89 2276.23 L674.93 2276.23 L676.98 2276.23 L679.03 2276.23 L681.07 2276.23 L683.12 2276.23 L685.17 2276.23 L687.21 2276.23 L689.26 2276.23 L691.31 2276.23 L693.36 2276.23 L695.4 2276.23 L697.45 2276.23 L699.5 2276.23 L701.54 2276.23 L703.59 2276.23 L705.64 2276.23 L707.68 2276.23 L709.73 2276.23 L711.78 2276.23 L713.82 2276.23 L715.87 2276.23 L717.92 2276.23 L719.96 2276.23 L722.01 2276.23 L724.06 2276.23 L726.1 2276.23 L728.15 2276.23 L730.2 2276.23 L732.24 2276.23 L734.29 2276.23 L736.34 2276.23 L738.38 2276.23 L740.43 2276.23 L742.48 2276.23 L744.52 2276.23 L746.57 2276.23 L748.62 2276.23 L750.66 2276.23 L752.71 2276.23 L754.76 2276.23 L756.8 2276.23 L758.85 2276.23 L760.9 2276.23 L762.94 2276.23 L764.99 2276.23 L767.04 2276.23 L769.08 2276.23 L771.13 2276.23 L773.18 2276.23 L775.23 2276.23 L777.27 2276.23 L779.32 2276.23 L781.37 2276.23 L783.41 2276.23 L785.46 2276.23 L787.51 2276.23 L789.55 2276.23 L791.6 2276.23 L793.65 2276.23 L795.69 2276.23 L797.74 2276.23 L799.79 2276.23 L801.83 2276.23 L803.88 2276.23 L805.93 2276.23 L807.97 2276.23 L810.02 2276.23 L812.07 2276.23 L814.11 2276.23 L816.16 2276.23 L818.21 2276.23 L820.25 2276.23 L822.3 2276.23 L824.35 2276.23 L826.39 2276.23 L828.44 2276.23 L830.49 2276.23 L832.53 2276.23 L834.58 2276.23 L836.63 2276.23 L838.67 2276.23 L840.72 2276.23 L842.77 2276.23 L844.81 2276.23 L846.86 2276.23 L848.91 2276.23 L850.95 2276.23 L853 2276.23 L855.05 2276.23 L857.1 2276.23 L859.14 2276.23 L861.19 2276.23 L863.24 2276.23 L865.28 2276.23 L867.33 2276.23 L869.38 2276.23 L871.42 2276.23 L873.47 2276.23 L875.52 2276.23 L877.56 2276.23 L879.61 2276.23 L881.66 2276.23 L883.7 2276.23 L885.75 2276.23 L887.8 2276.23 L889.84 2276.23 L891.89 2276.23 L893.94 2276.23 L895.98 2276.23 L898.03 2276.23 L900.08 2276.23 L902.12 2276.23 L904.17 2276.23 L906.22 2276.23 L908.26 2276.23 L910.31 2276.23 L912.36 2276.23 L914.4 2276.23 L916.45 2276.23 L918.5 2276.23 L920.54 2276.23 L922.59 2276.23 L924.64 2276.23 L926.68 2276.23 L928.73 2276.23 L930.78 2276.23 L932.82 2276.23 L934.87 2276.23 L936.92 2276.23 L938.97 2276.23 L941.01 2276.23 L943.06 2276.23 L945.11 2276.23 L947.15 2276.23 L949.2 2276.23 L951.25 2276.23 L953.29 2276.23 L955.34 2276.23 L957.39 2276.23 L959.43 2276.23 L961.48 2276.23 L963.53 2276.23 L965.57 2276.23 L967.62 2276.23 L969.67 2276.23 L971.71 2276.23 L973.76 2276.23 L975.81 2276.23 L977.85 2276.23 L979.9 2276.23 L981.95 2276.23 L983.99 2276.23 L986.04 2276.23 L988.09 2276.23 L990.13 2276.23 L992.18 2276.23 L994.23 2276.23 L996.27 2276.23 L998.32 2276.23 L1000.37 2276.23 L1002.41 2276.23 L1004.46 2276.23 L1006.51 2276.23 L1008.55 2276.23 L1010.6 2276.23 L1012.65 2276.23 L1014.69 2276.23 L1016.74 2276.23 L1018.79 2276.23 L1020.84 2276.23 L1022.88 2276.23 L1024.93 2276.23 L1026.98 2276.23 L1029.02 2276.23 L1031.07 2276.23 L1033.12 2276.23 L1035.16 2276.23 L1037.21 2276.23 L1039.26 2276.23 L1041.3 2276.23 L1043.35 2276.23 L1045.4 2276.23 L1047.44 2276.23 L1049.49 2276.23 L1051.54 2276.23 L1053.58 2276.23 L1055.63 2276.23 L1057.68 2276.23 L1059.72 2276.23 L1061.77 2276.23 L1063.82 2276.23 L1065.86 2276.23 L1067.91 2276.23 L1069.96 2276.23 L1072 2276.23 L1074.05 2276.23 L1076.1 2276.23 L1078.14 2276.23 L1080.19 2276.23 L1082.24 2276.23 L1084.28 2276.23 L1086.33 2276.23 L1088.38 2276.23 L1090.42 2276.23 L1092.47 2276.23 L1094.52 2276.23 L1096.56 2276.23 L1098.61 2276.23 L1100.66 2276.23 L1102.71 2276.23 L1104.75 2276.23 L1106.8 2276.23 L1108.85 2276.23 L1110.89 2276.23 L1112.94 2276.23 L1114.99 2276.23 L1117.03 2276.23 L1119.08 2276.23 L1121.13 2276.23 L1123.17 2276.23 L1125.22 2276.23 L1127.27 2276.23 L1129.31 2276.23 L1131.36 2276.23 L1133.41 2276.23 L1135.45 2276.23 L1137.5 2276.23 L1139.55 2276.23 L1141.59 2276.23 L1143.64 2276.23 L1145.69 2276.23 L1147.73 2276.23 L1149.78 2276.23 L1151.83 2276.23 L1153.87 2276.23 L1155.92 2276.23 L1157.97 2276.23 L1160.01 2276.23 L1162.06 2276.23 L1164.11 2276.23 L1166.15 2276.23 L1168.2 2276.23 L1170.25 2276.23 L1172.29 2276.23 L1174.34 2276.23 L1176.39 2276.23 L1178.43 2276.23 L1180.48 2276.23 L1182.53 2276.23 L1184.58 2276.23 L1186.62 2276.23 L1188.67 2276.23 L1190.72 2276.23 L1192.76 2276.23 L1194.81 2276.23 L1196.86 2276.23 L1198.9 2276.23 L1200.95 2276.23 L1203 2276.23 L1205.04 2276.23 L1207.09 2276.23 L1209.14 2276.23 L1211.18 2276.23 L1213.23 2276.23 L1215.28 2276.23 L1217.32 2276.23 L1219.37 2276.23 L1221.42 2276.23 L1223.46 2276.23 L1225.51 2276.23 L1227.56 2276.23 L1229.6 2276.23 L1231.65 2276.23 L1233.7 2276.23 L1235.74 2276.23 L1237.79 2276.23 L1239.84 2276.23 L1241.88 2276.23 L1243.93 2276.23 L1245.98 2276.23 L1248.02 2276.23 L1250.07 2276.23 L1252.12 2276.23 L1254.16 2276.23 L1256.21 2276.23 L1258.26 2276.23 L1260.3 2276.23 L1262.35 2276.23 L1264.4 2276.23 L1266.45 2276.23 L1268.49 2276.23 L1270.54 2276.23 L1272.59 2276.23 L1274.63 2276.23 L1276.68 2276.23 L1278.73 2276.23 L1280.77 2276.23 L1282.82 2276.23 L1284.87 2276.23 L1286.91 2276.23 L1288.96 2276.23 L1291.01 2276.23 L1293.05 2276.23 L1295.1 2276.23 L1297.15 2276.23 L1299.19 2276.23 L1301.24 2276.23 L1303.29 2276.23 L1305.33 2276.23 L1307.38 2276.23 L1309.43 2276.23 L1311.47 2276.23 L1313.52 2276.23 L1315.57 2276.23 L1317.61 2276.23 L1319.66 2276.23 L1321.71 2276.23 L1323.75 2276.23 L1325.8 2276.23 L1327.85 2276.23 L1329.89 2276.23 L1331.94 2276.23 L1333.99 2276.23 L1336.03 2276.23 L1338.08 2276.23 L1340.13 2276.23 L1342.17 2276.23 L1344.22 2276.23 L1346.27 2276.23 L1348.32 2276.23 L1350.36 2276.23 L1352.41 2276.23 L1354.46 2276.23 L1356.5 2276.23 L1358.55 2276.23 L1360.6 2276.23 L1362.64 2276.23 L1364.69 2276.23 L1366.74 2276.23 L1368.78 2276.23 L1370.83 2276.23 L1372.88 2276.23 L1374.92 2276.23 L1376.97 2276.23 L1379.02 2276.23 L1381.06 2276.23 L1383.11 2276.23 L1385.16 2276.23 L1387.2 2276.23 L1389.25 2276.23" stroke="#000000" stroke-width="4.3" fill="none" stroke-linecap="round" stroke-dasharray="13.9 24.5"/><rect x="231.77" y="2264.2" width="22.6" height="22.6" fill="#fff" stroke="#000000" stroke-width="1.6"/><rect x="313.64" y="2264.2" width="22.6" height="22.6" fill="#fff" stroke="#000000" stroke-width="1.6"/><rect x="395.51" y="2264.93" width="22.6" height="22.6" fill="#fff" stroke="#000000" stroke-width="1.6"/><rect x="477.38" y="2264.93" width="22.6" height="22.6" fill="#fff" stroke="#000000" stroke-width="1.6"/><rect x="559.25" y="2264.93" width="22.6" height="22.6" fill="#fff" stroke="#000000" stroke-width="1.6"/><rect x="641.12" y="2264.93" width="22.6" height="22.6" fill="#fff" stroke="#000000" stroke-width="1.6"/><rect x="722.99" y="2264.93" width="22.6" height="22.6" fill="#fff" stroke="#000000" stroke-width="1.6"/><rect x="804.86" y="2264.93" width="22.6" height="22.6" fill="#fff" stroke="#000000" stroke-width="1.6"/><rect x="886.73" y="2264.93" width="22.6" height="22.6" fill="#fff" stroke="#000000" stroke-width="1.6"/><rect x="968.6" y="2264.93" width="22.6" height="22.6" fill="#fff" stroke="#000000" stroke-width="1.6"/><rect x="1050.47" y="2264.93" width="22.6" height="22.6" fill="#fff" stroke="#000000" stroke-width="1.6"/><rect x="1132.34" y="2264.93" width="22.6" height="22.6" fill="#fff" stroke="#000000" stroke-width="1.6"/><rect x="1214.21" y="2264.93" width="22.6" height="22.6" fill="#fff" stroke="#000000" stroke-width="1.6"/><rect x="1296.08" y="2264.93" width="22.6" height="22.6" fill="#fff" stroke="#000000" stroke-width="1.6"/><rect x="1377.95" y="2264.93" width="22.6" height="22.6" fill="#fff" stroke="#000000" stroke-width="1.6"/><path d="M243.07 2273.67 L245.12 2274.35 L247.16 2275.02 L249.21 2275.67 L251.26 2276.29 L253.3 2276.88 L255.35 2277.43 L257.4 2277.92 L259.44 2278.34 L261.49 2278.7 L263.54 2278.98 L265.58 2279.16 L267.63 2279.25 L269.68 2279.23 L271.72 2279.1 L273.77 2278.84 L275.82 2278.45 L277.86 2277.91 L279.91 2277.22 L281.96 2276.37 L284 2275.35 L286.05 2274.15 L288.1 2272.77 L290.15 2271.19 L292.19 2269.4 L294.24 2267.4 L296.29 2265.17 L298.33 2262.72 L300.38 2260.02 L302.43 2257.07 L304.47 2253.86 L306.52 2250.39 L308.57 2246.63 L310.61 2242.59 L312.66 2238.26 L314.71 2233.62 L316.75 2228.67 L318.8 2223.4 L320.85 2217.8 L322.89 2211.86 L324.94 2205.57 L326.99 2198.93 L329.03 2191.96 L331.08 2184.68 L333.13 2177.13 L335.17 2169.32 L337.22 2161.29 L339.27 2153.06 L341.31 2144.66 L343.36 2136.12 L345.41 2127.46 L347.45 2118.7 L349.5 2109.88 L351.55 2101.02 L353.59 2092.15 L355.64 2083.3 L357.69 2074.48 L359.73 2065.73 L361.78 2057.08 L363.83 2048.54 L365.88 2040.15 L367.92 2031.94 L369.97 2023.93 L372.02 2016.14 L374.06 2008.61 L376.11 2001.35 L378.16 1994.4 L380.2 1987.79 L382.25 1981.53 L384.3 1975.66 L386.34 1970.21 L388.39 1965.19 L390.44 1960.63 L392.48 1956.57 L394.53 1953.03 L396.58 1950.03 L398.62 1947.61 L400.67 1945.78 L402.72 1944.58 L404.76 1944.03 L406.81 1944.15 L408.86 1944.97 L410.9 1946.47 L412.95 1948.62 L415 1951.38 L417.04 1954.73 L419.09 1958.64 L421.14 1963.08 L423.18 1968.03 L425.23 1973.45 L427.28 1979.31 L429.32 1985.59 L431.37 1992.26 L433.42 1999.28 L435.46 2006.64 L437.51 2014.29 L439.56 2022.22 L441.6 2030.39 L443.65 2038.78 L445.7 2047.35 L447.75 2056.08 L449.79 2064.93 L451.84 2073.89 L453.89 2082.91 L455.93 2091.98 L457.98 2101.05 L460.03 2110.12 L462.07 2119.13 L464.12 2128.07 L466.17 2136.91 L468.21 2145.62 L470.26 2154.17 L472.31 2162.53 L474.35 2170.67 L476.4 2178.56 L478.45 2186.18 L480.49 2193.49 L482.54 2200.47 L484.59 2207.09 L486.63 2213.31 L488.68 2219.12 L490.73 2224.48 L492.77 2229.41 L494.82 2233.92 L496.87 2238.02 L498.91 2241.73 L500.96 2245.06 L503.01 2248.03 L505.05 2250.65 L507.1 2252.94 L509.15 2254.9 L511.19 2256.56 L513.24 2257.93 L515.29 2259.01 L517.33 2259.84 L519.38 2260.41 L521.43 2260.75 L523.47 2260.87 L525.52 2260.78 L527.57 2260.5 L529.62 2260.03 L531.66 2259.41 L533.71 2258.63 L535.76 2257.72 L537.8 2256.69 L539.85 2255.55 L541.9 2254.32 L543.94 2253 L545.99 2251.63 L548.04 2250.2 L550.08 2248.73 L552.13 2247.25 L554.18 2245.75 L556.22 2244.27 L558.27 2242.8 L560.32 2241.37 L562.36 2239.98 L564.41 2238.66 L566.46 2237.42 L568.5 2236.27 L570.55 2235.23 L572.6 2234.3 L574.64 2233.49 L576.69 2232.79 L578.74 2232.2 L580.78 2231.71 L582.83 2231.32 L584.88 2231.03 L586.92 2230.84 L588.97 2230.73 L591.02 2230.7 L593.06 2230.76 L595.11 2230.89 L597.16 2231.09 L599.2 2231.37 L601.25 2231.71 L603.3 2232.1 L605.34 2232.56 L607.39 2233.07 L609.44 2233.62 L611.49 2234.22 L613.53 2234.86 L615.58 2235.54 L617.63 2236.25 L619.67 2236.99 L621.72 2237.76 L623.77 2238.54 L625.81 2239.35 L627.86 2240.16 L629.91 2240.99 L631.95 2241.82 L634 2242.65 L636.05 2243.47 L638.09 2244.29 L640.14 2245.1 L642.19 2245.9 L644.23 2246.67 L646.28 2247.42 L648.33 2248.15 L650.37 2248.84 L652.42 2249.5 L654.47 2250.13 L656.51 2250.71 L658.56 2251.26 L660.61 2251.77 L662.65 2252.25 L664.7 2252.7 L666.75 2253.12 L668.79 2253.5 L670.84 2253.86 L672.89 2254.18 L674.93 2254.49 L676.98 2254.76 L679.03 2255.02 L681.07 2255.25 L683.12 2255.45 L685.17 2255.64 L687.21 2255.81 L689.26 2255.96 L691.31 2256.09 L693.36 2256.21 L695.4 2256.32 L697.45 2256.41 L699.5 2256.48 L701.54 2256.55 L703.59 2256.61 L705.64 2256.66 L707.68 2256.71 L709.73 2256.74 L711.78 2256.78 L713.82 2256.81 L715.87 2256.83 L717.92 2256.86 L719.96 2256.89 L722.01 2256.92 L724.06 2256.95 L726.1 2256.99 L728.15 2257.03 L730.2 2257.07 L732.24 2257.13 L734.29 2257.19 L736.34 2257.27 L738.38 2257.35 L740.43 2257.44 L742.48 2257.55 L744.52 2257.66 L746.57 2257.78 L748.62 2257.9 L750.66 2258.04 L752.71 2258.18 L754.76 2258.32 L756.8 2258.48 L758.85 2258.64 L760.9 2258.8 L762.94 2258.97 L764.99 2259.14 L767.04 2259.32 L769.08 2259.5 L771.13 2259.69 L773.18 2259.87 L775.23 2260.06 L777.27 2260.26 L779.32 2260.45 L781.37 2260.65 L783.41 2260.84 L785.46 2261.04 L787.51 2261.24 L789.55 2261.43 L791.6 2261.63 L793.65 2261.83 L795.69 2262.02 L797.74 2262.21 L799.79 2262.4 L801.83 2262.59 L803.88 2262.77 L805.93 2262.95 L807.97 2263.13 L810.02 2263.3 L812.07 2263.47 L814.11 2263.63 L816.16 2263.78 L818.21 2263.93 L820.25 2264.08 L822.3 2264.22 L824.35 2264.35 L826.39 2264.48 L828.44 2264.61 L830.49 2264.73 L832.53 2264.84 L834.58 2264.95 L836.63 2265.06 L838.67 2265.16 L840.72 2265.25 L842.77 2265.35 L844.81 2265.44 L846.86 2265.52 L848.91 2265.61 L850.95 2265.69 L853 2265.77 L855.05 2265.84 L857.1 2265.91 L859.14 2265.98 L861.19 2266.05 L863.24 2266.11 L865.28 2266.18 L867.33 2266.24 L869.38 2266.3 L871.42 2266.36 L873.47 2266.42 L875.52 2266.47 L877.56 2266.53 L879.61 2266.58 L881.66 2266.64 L883.7 2266.69 L885.75 2266.75 L887.8 2266.8 L889.84 2266.86 L891.89 2266.91 L893.94 2266.97 L895.98 2267.02 L898.03 2267.08 L900.08 2267.14 L902.12 2267.2 L904.17 2267.26 L906.22 2267.32 L908.26 2267.38 L910.31 2267.44 L912.36 2267.51 L914.4 2267.57 L916.45 2267.63 L918.5 2267.7 L920.54 2267.77 L922.59 2267.83 L924.64 2267.9 L926.68 2267.96 L928.73 2268.03 L930.78 2268.1 L932.82 2268.17 L934.87 2268.24 L936.92 2268.3 L938.97 2268.37 L941.01 2268.44 L943.06 2268.51 L945.11 2268.57 L947.15 2268.64 L949.2 2268.71 L951.25 2268.78 L953.29 2268.84 L955.34 2268.91 L957.39 2268.97 L959.43 2269.04 L961.48 2269.1 L963.53 2269.17 L965.57 2269.23 L967.62 2269.29 L969.67 2269.35 L971.71 2269.41 L973.76 2269.47 L975.81 2269.53 L977.85 2269.59 L979.9 2269.64 L981.95 2269.7 L983.99 2269.75 L986.04 2269.8 L988.09 2269.85 L990.13 2269.9 L992.18 2269.95 L994.23 2270 L996.27 2270.05 L998.32 2270.09 L1000.37 2270.14 L1002.41 2270.18 L1004.46 2270.23 L1006.51 2270.27 L1008.55 2270.31 L1010.6 2270.35 L1012.65 2270.39 L1014.69 2270.43 L1016.74 2270.47 L1018.79 2270.5 L1020.84 2270.54 L1022.88 2270.57 L1024.93 2270.61 L1026.98 2270.64 L1029.02 2270.67 L1031.07 2270.7 L1033.12 2270.74 L1035.16 2270.77 L1037.21 2270.8 L1039.26 2270.83 L1041.3 2270.85 L1043.35 2270.88 L1045.4 2270.91 L1047.44 2270.94 L1049.49 2270.96 L1051.54 2270.99 L1053.58 2271.01 L1055.63 2271.04 L1057.68 2271.06 L1059.72 2271.08 L1061.77 2271.11 L1063.82 2271.13 L1065.86 2271.15 L1067.91 2271.17 L1069.96 2271.19 L1072 2271.22 L1074.05 2271.24 L1076.1 2271.26 L1078.14 2271.28 L1080.19 2271.3 L1082.24 2271.31 L1084.28 2271.33 L1086.33 2271.35 L1088.38 2271.37 L1090.42 2271.39 L1092.47 2271.41 L1094.52 2271.43 L1096.56 2271.44 L1098.61 2271.46 L1100.66 2271.48 L1102.71 2271.5 L1104.75 2271.51 L1106.8 2271.53 L1108.85 2271.55 L1110.89 2271.56 L1112.94 2271.58 L1114.99 2271.6 L1117.03 2271.61 L1119.08 2271.63 L1121.13 2271.65 L1123.17 2271.66 L1125.22 2271.68 L1127.27 2271.7 L1129.31 2271.72 L1131.36 2271.73 L1133.41 2271.75 L1135.45 2271.77 L1137.5 2271.78 L1139.55 2271.8 L1141.59 2271.82 L1143.64 2271.84 L1145.69 2271.86 L1147.73 2271.88 L1149.78 2271.89 L1151.83 2271.91 L1153.87 2271.93 L1155.92 2271.95 L1157.97 2271.97 L1160.01 2271.99 L1162.06 2272.01 L1164.11 2272.03 L1166.15 2272.05 L1168.2 2272.07 L1170.25 2272.09 L1172.29 2272.11 L1174.34 2272.13 L1176.39 2272.15 L1178.43 2272.17 L1180.48 2272.19 L1182.53 2272.21 L1184.58 2272.23 L1186.62 2272.24 L1188.67 2272.26 L1190.72 2272.28 L1192.76 2272.3 L1194.81 2272.32 L1196.86 2272.34 L1198.9 2272.36 L1200.95 2272.38 L1203 2272.39 L1205.04 2272.41 L1207.09 2272.43 L1209.14 2272.45 L1211.18 2272.46 L1213.23 2272.48 L1215.28 2272.5 L1217.32 2272.51 L1219.37 2272.53 L1221.42 2272.54 L1223.46 2272.56 L1225.51 2272.57 L1227.56 2272.58 L1229.6 2272.6 L1231.65 2272.61 L1233.7 2272.62 L1235.74 2272.64 L1237.79 2272.65 L1239.84 2272.66 L1241.88 2272.67 L1243.93 2272.68 L1245.98 2272.69 L1248.02 2272.7 L1250.07 2272.71 L1252.12 2272.72 L1254.16 2272.73 L1256.21 2272.74 L1258.26 2272.75 L1260.3 2272.76 L1262.35 2272.77 L1264.4 2272.78 L1266.45 2272.79 L1268.49 2272.79 L1270.54 2272.8 L1272.59 2272.81 L1274.63 2272.82 L1276.68 2272.83 L1278.73 2272.83 L1280.77 2272.84 L1282.82 2272.85 L1284.87 2272.86 L1286.91 2272.86 L1288.96 2272.87 L1291.01 2272.88 L1293.05 2272.88 L1295.1 2272.89 L1297.15 2272.9 L1299.19 2272.91 L1301.24 2272.91 L1303.29 2272.92 L1305.33 2272.93 L1307.38 2272.94 L1309.43 2272.94 L1311.47 2272.95 L1313.52 2272.96 L1315.57 2272.97 L1317.61 2272.98 L1319.66 2272.99 L1321.71 2272.99 L1323.75 2273 L1325.8 2273.01 L1327.85 2273.02 L1329.89 2273.03 L1331.94 2273.04 L1333.99 2273.05 L1336.03 2273.05 L1338.08 2273.06 L1340.13 2273.07 L1342.17 2273.08 L1344.22 2273.09 L1346.27 2273.1 L1348.32 2273.11 L1350.36 2273.12 L1352.41 2273.13 L1354.46 2273.14 L1356.5 2273.15 L1358.55 2273.16 L1360.6 2273.17 L1362.64 2273.18 L1364.69 2273.19 L1366.74 2273.2 L1368.78 2273.21 L1370.83 2273.21 L1372.88 2273.22 L1374.92 2273.23 L1376.97 2273.24 L1379.02 2273.25 L1381.06 2273.26 L1383.11 2273.27 L1385.16 2273.28 L1387.2 2273.29 L1389.25 2273.3" stroke="#ff0000" stroke-width="4.3" fill="none" stroke-linecap="round" stroke-dasharray="13.9 24.5"/><circle cx="243.07" cy="2273.67" r="12.1" fill="#fff" stroke="#ff0000" stroke-width="1.6"/><circle cx="324.94" cy="2205.57" r="12.1" fill="#fff" stroke="#ff0000" stroke-width="1.6"/><circle cx="406.81" cy="1944.15" r="12.1" fill="#fff" stroke="#ff0000" stroke-width="1.6"/><circle cx="488.68" cy="2219.12" r="12.1" fill="#fff" stroke="#ff0000" stroke-width="1.6"/><circle cx="570.55" cy="2235.23" r="12.1" fill="#fff" stroke="#ff0000" stroke-width="1.6"/><circle cx="652.42" cy="2249.5" r="12.1" fill="#fff" stroke="#ff0000" stroke-width="1.6"/><circle cx="734.29" cy="2257.19" r="12.1" fill="#fff" stroke="#ff0000" stroke-width="1.6"/><circle cx="816.16" cy="2263.78" r="12.1" fill="#fff" stroke="#ff0000" stroke-width="1.6"/><circle cx="898.03" cy="2267.08" r="12.1" fill="#fff" stroke="#ff0000" stroke-width="1.6"/><circle cx="979.9" cy="2269.64" r="12.1" fill="#fff" stroke="#ff0000" stroke-width="1.6"/><circle cx="1061.77" cy="2271.11" r="12.1" fill="#fff" stroke="#ff0000" stroke-width="1.6"/><circle cx="1143.64" cy="2271.84" r="12.1" fill="#fff" stroke="#ff0000" stroke-width="1.6"/><circle cx="1225.51" cy="2272.57" r="12.1" fill="#fff" stroke="#ff0000" stroke-width="1.6"/><circle cx="1307.38" cy="2272.94" r="12.1" fill="#fff" stroke="#ff0000" stroke-width="1.6"/><circle cx="1389.25" cy="2273.3" r="12.1" fill="#fff" stroke="#ff0000" stroke-width="1.6"/><path d="M243.07 2274.77 L245.12 2278.78 L247.16 2282.76 L249.21 2286.71 L251.26 2290.6 L253.3 2294.41 L255.35 2298.13 L257.4 2301.72 L259.44 2305.18 L261.49 2308.48 L263.54 2311.61 L265.58 2314.53 L267.63 2317.24 L269.68 2319.72 L271.72 2321.94 L273.77 2323.89 L275.82 2325.54 L277.86 2326.87 L279.91 2327.88 L281.96 2328.53 L284 2328.8 L286.05 2328.69 L288.1 2328.16 L290.15 2327.19 L292.19 2325.78 L294.24 2323.9 L296.29 2321.52 L298.33 2318.64 L300.38 2315.22 L302.43 2311.25 L304.47 2306.72 L306.52 2301.59 L308.57 2295.86 L310.61 2289.49 L312.66 2282.48 L314.71 2274.8 L316.75 2266.44 L318.8 2257.36 L320.85 2247.57 L322.89 2237.02 L324.94 2225.71 L326.99 2213.62 L329.03 2200.8 L331.08 2187.3 L333.13 2173.17 L335.17 2158.47 L337.22 2143.24 L339.27 2127.54 L341.31 2111.42 L343.36 2094.93 L345.41 2078.14 L347.45 2061.07 L349.5 2043.8 L351.55 2026.37 L353.59 2008.84 L355.64 1991.26 L357.69 1973.67 L359.73 1956.14 L361.78 1938.71 L363.83 1921.44 L365.88 1904.38 L367.92 1887.58 L369.97 1871.1 L372.02 1854.98 L374.06 1839.28 L376.11 1824.06 L378.16 1809.35 L380.2 1795.23 L382.25 1781.73 L384.3 1768.91 L386.34 1756.83 L388.39 1745.53 L390.44 1735.07 L392.48 1725.5 L394.53 1716.88 L396.58 1709.25 L398.62 1702.67 L400.67 1697.18 L402.72 1692.85 L404.76 1689.73 L406.81 1687.86 L408.86 1687.29 L410.9 1687.97 L412.95 1689.86 L415 1692.9 L417.04 1697.04 L419.09 1702.23 L421.14 1708.42 L423.18 1715.55 L425.23 1723.58 L427.28 1732.45 L429.32 1742.11 L431.37 1752.5 L433.42 1763.58 L435.46 1775.29 L437.51 1787.58 L439.56 1800.4 L441.6 1813.7 L443.65 1827.42 L445.7 1841.51 L447.75 1855.93 L449.79 1870.61 L451.84 1885.51 L453.89 1900.57 L455.93 1915.74 L457.98 1930.98 L460.03 1946.22 L462.07 1961.42 L464.12 1976.52 L466.17 1991.47 L468.21 2006.22 L470.26 2020.72 L472.31 2034.91 L474.35 2048.75 L476.4 2062.18 L478.45 2075.14 L480.49 2087.6 L482.54 2099.49 L484.59 2110.76 L486.63 2121.36 L488.68 2131.24 L490.73 2140.37 L492.77 2148.74 L494.82 2156.39 L496.87 2163.34 L498.91 2169.61 L500.96 2175.24 L503.01 2180.24 L505.05 2184.65 L507.1 2188.48 L509.15 2191.76 L511.19 2194.52 L513.24 2196.77 L515.29 2198.56 L517.33 2199.89 L519.38 2200.8 L521.43 2201.31 L523.47 2201.44 L525.52 2201.22 L527.57 2200.68 L529.62 2199.84 L531.66 2198.72 L533.71 2197.36 L535.76 2195.76 L537.8 2193.97 L539.85 2192 L541.9 2189.88 L543.94 2187.64 L545.99 2185.29 L548.04 2182.87 L550.08 2180.4 L552.13 2177.9 L554.18 2175.4 L556.22 2172.92 L558.27 2170.49 L560.32 2168.14 L562.36 2165.88 L564.41 2163.75 L566.46 2161.76 L568.5 2159.95 L570.55 2158.34 L572.6 2156.94 L574.64 2155.76 L576.69 2154.79 L578.74 2154.02 L580.78 2153.44 L582.83 2153.05 L584.88 2152.84 L586.92 2152.8 L588.97 2152.92 L591.02 2153.2 L593.06 2153.63 L595.11 2154.2 L597.16 2154.91 L599.2 2155.75 L601.25 2156.7 L603.3 2157.77 L605.34 2158.94 L607.39 2160.22 L609.44 2161.58 L611.49 2163.03 L613.53 2164.55 L615.58 2166.14 L617.63 2167.8 L619.67 2169.5 L621.72 2171.26 L623.77 2173.05 L625.81 2174.88 L627.86 2176.73 L629.91 2178.6 L631.95 2180.49 L634 2182.37 L636.05 2184.25 L638.09 2186.12 L640.14 2187.96 L642.19 2189.79 L644.23 2191.57 L646.28 2193.32 L648.33 2195.02 L650.37 2196.67 L652.42 2198.25 L654.47 2199.76 L656.51 2201.2 L658.56 2202.58 L660.61 2203.89 L662.65 2205.14 L664.7 2206.33 L666.75 2207.47 L668.79 2208.54 L670.84 2209.56 L672.89 2210.53 L674.93 2211.45 L676.98 2212.32 L679.03 2213.14 L681.07 2213.92 L683.12 2214.66 L685.17 2215.35 L687.21 2216.01 L689.26 2216.63 L691.31 2217.21 L693.36 2217.76 L695.4 2218.28 L697.45 2218.78 L699.5 2219.24 L701.54 2219.68 L703.59 2220.1 L705.64 2220.5 L707.68 2220.88 L709.73 2221.24 L711.78 2221.59 L713.82 2221.92 L715.87 2222.24 L717.92 2222.56 L719.96 2222.86 L722.01 2223.16 L724.06 2223.46 L726.1 2223.76 L728.15 2224.06 L730.2 2224.36 L732.24 2224.66 L734.29 2224.97 L736.34 2225.29 L738.38 2225.62 L740.43 2225.96 L742.48 2226.31 L744.52 2226.66 L746.57 2227.02 L748.62 2227.38 L750.66 2227.75 L752.71 2228.13 L754.76 2228.51 L756.8 2228.9 L758.85 2229.29 L760.9 2229.69 L762.94 2230.09 L764.99 2230.5 L767.04 2230.9 L769.08 2231.32 L771.13 2231.73 L773.18 2232.14 L775.23 2232.56 L777.27 2232.98 L779.32 2233.4 L781.37 2233.82 L783.41 2234.24 L785.46 2234.66 L787.51 2235.08 L789.55 2235.5 L791.6 2235.92 L793.65 2236.34 L795.69 2236.75 L797.74 2237.16 L799.79 2237.57 L801.83 2237.98 L803.88 2238.39 L805.93 2238.79 L807.97 2239.18 L810.02 2239.57 L812.07 2239.96 L814.11 2240.34 L816.16 2240.72 L818.21 2241.09 L820.25 2241.45 L822.3 2241.81 L824.35 2242.16 L826.39 2242.51 L828.44 2242.85 L830.49 2243.19 L832.53 2243.52 L834.58 2243.85 L836.63 2244.17 L838.67 2244.48 L840.72 2244.79 L842.77 2245.1 L844.81 2245.4 L846.86 2245.69 L848.91 2245.98 L850.95 2246.27 L853 2246.55 L855.05 2246.83 L857.1 2247.1 L859.14 2247.37 L861.19 2247.63 L863.24 2247.89 L865.28 2248.14 L867.33 2248.39 L869.38 2248.64 L871.42 2248.88 L873.47 2249.12 L875.52 2249.36 L877.56 2249.59 L879.61 2249.81 L881.66 2250.04 L883.7 2250.26 L885.75 2250.47 L887.8 2250.69 L889.84 2250.9 L891.89 2251.1 L893.94 2251.3 L895.98 2251.5 L898.03 2251.7 L900.08 2251.9 L902.12 2252.09 L904.17 2252.27 L906.22 2252.46 L908.26 2252.64 L910.31 2252.82 L912.36 2253 L914.4 2253.17 L916.45 2253.34 L918.5 2253.51 L920.54 2253.68 L922.59 2253.84 L924.64 2254 L926.68 2254.16 L928.73 2254.32 L930.78 2254.47 L932.82 2254.62 L934.87 2254.77 L936.92 2254.92 L938.97 2255.06 L941.01 2255.21 L943.06 2255.35 L945.11 2255.49 L947.15 2255.62 L949.2 2255.76 L951.25 2255.89 L953.29 2256.02 L955.34 2256.15 L957.39 2256.27 L959.43 2256.4 L961.48 2256.52 L963.53 2256.64 L965.57 2256.76 L967.62 2256.88 L969.67 2257 L971.71 2257.11 L973.76 2257.23 L975.81 2257.34 L977.85 2257.45 L979.9 2257.56 L981.95 2257.67 L983.99 2257.77 L986.04 2257.88 L988.09 2257.98 L990.13 2258.09 L992.18 2258.19 L994.23 2258.29 L996.27 2258.39 L998.32 2258.49 L1000.37 2258.58 L1002.41 2258.68 L1004.46 2258.78 L1006.51 2258.87 L1008.55 2258.97 L1010.6 2259.06 L1012.65 2259.15 L1014.69 2259.24 L1016.74 2259.33 L1018.79 2259.42 L1020.84 2259.51 L1022.88 2259.6 L1024.93 2259.69 L1026.98 2259.78 L1029.02 2259.86 L1031.07 2259.95 L1033.12 2260.04 L1035.16 2260.12 L1037.21 2260.21 L1039.26 2260.29 L1041.3 2260.38 L1043.35 2260.46 L1045.4 2260.55 L1047.44 2260.63 L1049.49 2260.72 L1051.54 2260.8 L1053.58 2260.88 L1055.63 2260.97 L1057.68 2261.05 L1059.72 2261.14 L1061.77 2261.22 L1063.82 2261.31 L1065.86 2261.39 L1067.91 2261.47 L1069.96 2261.56 L1072 2261.64 L1074.05 2261.73 L1076.1 2261.81 L1078.14 2261.9 L1080.19 2261.98 L1082.24 2262.07 L1084.28 2262.15 L1086.33 2262.23 L1088.38 2262.32 L1090.42 2262.4 L1092.47 2262.49 L1094.52 2262.57 L1096.56 2262.66 L1098.61 2262.74 L1100.66 2262.82 L1102.71 2262.91 L1104.75 2262.99 L1106.8 2263.07 L1108.85 2263.16 L1110.89 2263.24 L1112.94 2263.32 L1114.99 2263.4 L1117.03 2263.48 L1119.08 2263.57 L1121.13 2263.65 L1123.17 2263.73 L1125.22 2263.81 L1127.27 2263.89 L1129.31 2263.97 L1131.36 2264.05 L1133.41 2264.13 L1135.45 2264.21 L1137.5 2264.28 L1139.55 2264.36 L1141.59 2264.44 L1143.64 2264.52 L1145.69 2264.59 L1147.73 2264.67 L1149.78 2264.74 L1151.83 2264.82 L1153.87 2264.89 L1155.92 2264.97 L1157.97 2265.04 L1160.01 2265.11 L1162.06 2265.18 L1164.11 2265.25 L1166.15 2265.33 L1168.2 2265.4 L1170.25 2265.47 L1172.29 2265.53 L1174.34 2265.6 L1176.39 2265.67 L1178.43 2265.74 L1180.48 2265.8 L1182.53 2265.87 L1184.58 2265.93 L1186.62 2266 L1188.67 2266.06 L1190.72 2266.13 L1192.76 2266.19 L1194.81 2266.25 L1196.86 2266.31 L1198.9 2266.37 L1200.95 2266.43 L1203 2266.49 L1205.04 2266.55 L1207.09 2266.6 L1209.14 2266.66 L1211.18 2266.71 L1213.23 2266.77 L1215.28 2266.82 L1217.32 2266.88 L1219.37 2266.93 L1221.42 2266.98 L1223.46 2267.03 L1225.51 2267.08 L1227.56 2267.13 L1229.6 2267.18 L1231.65 2267.22 L1233.7 2267.27 L1235.74 2267.31 L1237.79 2267.36 L1239.84 2267.4 L1241.88 2267.45 L1243.93 2267.49 L1245.98 2267.53 L1248.02 2267.57 L1250.07 2267.61 L1252.12 2267.65 L1254.16 2267.69 L1256.21 2267.73 L1258.26 2267.77 L1260.3 2267.8 L1262.35 2267.84 L1264.4 2267.88 L1266.45 2267.91 L1268.49 2267.95 L1270.54 2267.98 L1272.59 2268.02 L1274.63 2268.05 L1276.68 2268.08 L1278.73 2268.12 L1280.77 2268.15 L1282.82 2268.18 L1284.87 2268.21 L1286.91 2268.24 L1288.96 2268.27 L1291.01 2268.3 L1293.05 2268.34 L1295.1 2268.37 L1297.15 2268.4 L1299.19 2268.43 L1301.24 2268.46 L1303.29 2268.49 L1305.33 2268.51 L1307.38 2268.54 L1309.43 2268.57 L1311.47 2268.6 L1313.52 2268.63 L1315.57 2268.66 L1317.61 2268.69 L1319.66 2268.72 L1321.71 2268.74 L1323.75 2268.77 L1325.8 2268.8 L1327.85 2268.83 L1329.89 2268.86 L1331.94 2268.88 L1333.99 2268.91 L1336.03 2268.94 L1338.08 2268.97 L1340.13 2269 L1342.17 2269.02 L1344.22 2269.05 L1346.27 2269.08 L1348.32 2269.11 L1350.36 2269.13 L1352.41 2269.16 L1354.46 2269.19 L1356.5 2269.21 L1358.55 2269.24 L1360.6 2269.27 L1362.64 2269.29 L1364.69 2269.32 L1366.74 2269.35 L1368.78 2269.38 L1370.83 2269.4 L1372.88 2269.43 L1374.92 2269.46 L1376.97 2269.48 L1379.02 2269.51 L1381.06 2269.54 L1383.11 2269.56 L1385.16 2269.59 L1387.2 2269.62 L1389.25 2269.64" stroke="#0000ff" stroke-width="4.3" fill="none" stroke-linecap="round" stroke-dasharray="13.9 24.5"/><polygon points="243.07,2257.83 257.77,2283.23 228.37,2283.23" fill="#fff" stroke="#0000ff" stroke-width="1.6" stroke-linejoin="miter"/><polygon points="324.94,2208.77 339.64,2234.17 310.24,2234.17" fill="#fff" stroke="#0000ff" stroke-width="1.6" stroke-linejoin="miter"/><polygon points="406.81,1670.93 421.51,1696.33 392.11,1696.33" fill="#fff" stroke="#0000ff" stroke-width="1.6" stroke-linejoin="miter"/><polygon points="488.68,2114.31 503.38,2139.71 473.98,2139.71" fill="#fff" stroke="#0000ff" stroke-width="1.6" stroke-linejoin="miter"/><polygon points="570.55,2141.41 585.25,2166.81 555.85,2166.81" fill="#fff" stroke="#0000ff" stroke-width="1.6" stroke-linejoin="miter"/><polygon points="652.42,2181.31 667.12,2206.71 637.72,2206.71" fill="#fff" stroke="#0000ff" stroke-width="1.6" stroke-linejoin="miter"/><polygon points="734.29,2208.04 748.99,2233.44 719.59,2233.44" fill="#fff" stroke="#0000ff" stroke-width="1.6" stroke-linejoin="miter"/><polygon points="816.16,2223.78 830.86,2249.18 801.46,2249.18" fill="#fff" stroke="#0000ff" stroke-width="1.6" stroke-linejoin="miter"/><polygon points="898.03,2234.77 912.73,2260.17 883.33,2260.17" fill="#fff" stroke="#0000ff" stroke-width="1.6" stroke-linejoin="miter"/><polygon points="979.9,2240.63 994.6,2266.03 965.2,2266.03" fill="#fff" stroke="#0000ff" stroke-width="1.6" stroke-linejoin="miter"/><polygon points="1061.77,2244.29 1076.47,2269.69 1047.07,2269.69" fill="#fff" stroke="#0000ff" stroke-width="1.6" stroke-linejoin="miter"/><polygon points="1143.64,2247.58 1158.34,2272.98 1128.94,2272.98" fill="#fff" stroke="#0000ff" stroke-width="1.6" stroke-linejoin="miter"/><polygon points="1225.51,2250.15 1240.21,2275.55 1210.81,2275.55" fill="#fff" stroke="#0000ff" stroke-width="1.6" stroke-linejoin="miter"/><polygon points="1307.38,2251.61 1322.08,2277.01 1292.68,2277.01" fill="#fff" stroke="#0000ff" stroke-width="1.6" stroke-linejoin="miter"/><polygon points="1389.25,2252.71 1403.95,2278.11 1374.55,2278.11" fill="#fff" stroke="#0000ff" stroke-width="1.6" stroke-linejoin="miter"/><path d="M243.07 2275.5 L245.12 2275.51 L247.16 2275.53 L249.21 2275.54 L251.26 2275.55 L253.3 2275.57 L255.35 2275.58 L257.4 2275.59 L259.44 2275.6 L261.49 2275.62 L263.54 2275.63 L265.58 2275.64 L267.63 2275.65 L269.68 2275.66 L271.72 2275.67 L273.77 2275.67 L275.82 2275.68 L277.86 2275.69 L279.91 2275.69 L281.96 2275.7 L284 2275.7 L286.05 2275.71 L288.1 2275.71 L290.15 2275.71 L292.19 2275.71 L294.24 2275.71 L296.29 2275.7 L298.33 2275.7 L300.38 2275.69 L302.43 2275.69 L304.47 2275.68 L306.52 2275.67 L308.57 2275.66 L310.61 2275.64 L312.66 2275.63 L314.71 2275.61 L316.75 2275.59 L318.8 2275.57 L320.85 2275.55 L322.89 2275.53 L324.94 2275.5 L326.99 2275.47 L329.03 2275.44 L331.08 2275.41 L333.13 2275.38 L335.17 2275.34 L337.22 2275.3 L339.27 2275.27 L341.31 2275.23 L343.36 2275.19 L345.41 2275.14 L347.45 2275.1 L349.5 2275.05 L351.55 2275.01 L353.59 2274.96 L355.64 2274.91 L357.69 2274.87 L359.73 2274.82 L361.78 2274.77 L363.83 2274.72 L365.88 2274.66 L367.92 2274.61 L369.97 2274.56 L372.02 2274.51 L374.06 2274.46 L376.11 2274.41 L378.16 2274.35 L380.2 2274.3 L382.25 2274.25 L384.3 2274.2 L386.34 2274.15 L388.39 2274.1 L390.44 2274.05 L392.48 2274 L394.53 2273.95 L396.58 2273.9 L398.62 2273.85 L400.67 2273.8 L402.72 2273.76 L404.76 2273.71 L406.81 2273.67 L408.86 2273.63 L410.9 2273.59 L412.95 2273.55 L415 2273.51 L417.04 2273.47 L419.09 2273.43 L421.14 2273.4 L423.18 2273.36 L425.23 2273.33 L427.28 2273.3 L429.32 2273.26 L431.37 2273.23 L433.42 2273.2 L435.46 2273.17 L437.51 2273.14 L439.56 2273.12 L441.6 2273.09 L443.65 2273.06 L445.7 2273.04 L447.75 2273.01 L449.79 2272.99 L451.84 2272.96 L453.89 2272.94 L455.93 2272.91 L457.98 2272.89 L460.03 2272.87 L462.07 2272.85 L464.12 2272.82 L466.17 2272.8 L468.21 2272.78 L470.26 2272.76 L472.31 2272.74 L474.35 2272.72 L476.4 2272.7 L478.45 2272.67 L480.49 2272.65 L482.54 2272.63 L484.59 2272.61 L486.63 2272.59 L488.68 2272.57 L490.73 2272.55 L492.77 2272.53 L494.82 2272.51 L496.87 2272.49 L498.91 2272.47 L500.96 2272.44 L503.01 2272.42 L505.05 2272.4 L507.1 2272.38 L509.15 2272.36 L511.19 2272.34 L513.24 2272.32 L515.29 2272.3 L517.33 2272.27 L519.38 2272.25 L521.43 2272.23 L523.47 2272.21 L525.52 2272.19 L527.57 2272.17 L529.62 2272.15 L531.66 2272.13 L533.71 2272.11 L535.76 2272.1 L537.8 2272.08 L539.85 2272.06 L541.9 2272.04 L543.94 2272.02 L545.99 2272.01 L548.04 2271.99 L550.08 2271.97 L552.13 2271.96 L554.18 2271.94 L556.22 2271.93 L558.27 2271.91 L560.32 2271.9 L562.36 2271.89 L564.41 2271.87 L566.46 2271.86 L568.5 2271.85 L570.55 2271.84 L572.6 2271.83 L574.64 2271.82 L576.69 2271.81 L578.74 2271.8 L580.78 2271.79 L582.83 2271.79 L584.88 2271.78 L586.92 2271.77 L588.97 2271.77 L591.02 2271.76 L593.06 2271.76 L595.11 2271.75 L597.16 2271.75 L599.2 2271.75 L601.25 2271.75 L603.3 2271.74 L605.34 2271.74 L607.39 2271.74 L609.44 2271.74 L611.49 2271.74 L613.53 2271.74 L615.58 2271.74 L617.63 2271.75 L619.67 2271.75 L621.72 2271.75 L623.77 2271.75 L625.81 2271.76 L627.86 2271.76 L629.91 2271.77 L631.95 2271.77 L634 2271.78 L636.05 2271.78 L638.09 2271.79 L640.14 2271.79 L642.19 2271.8 L644.23 2271.81 L646.28 2271.81 L648.33 2271.82 L650.37 2271.83 L652.42 2271.84 L654.47 2271.85 L656.51 2271.86 L658.56 2271.87 L660.61 2271.88 L662.65 2271.89 L664.7 2271.9 L666.75 2271.91 L668.79 2271.92 L670.84 2271.93 L672.89 2271.94 L674.93 2271.95 L676.98 2271.96 L679.03 2271.97 L681.07 2271.98 L683.12 2271.99 L685.17 2272 L687.21 2272.02 L689.26 2272.03 L691.31 2272.04 L693.36 2272.05 L695.4 2272.06 L697.45 2272.07 L699.5 2272.08 L701.54 2272.09 L703.59 2272.1 L705.64 2272.11 L707.68 2272.12 L709.73 2272.13 L711.78 2272.14 L713.82 2272.14 L715.87 2272.15 L717.92 2272.16 L719.96 2272.17 L722.01 2272.17 L724.06 2272.18 L726.1 2272.19 L728.15 2272.19 L730.2 2272.2 L732.24 2272.2 L734.29 2272.2 L736.34 2272.21 L738.38 2272.21 L740.43 2272.21 L742.48 2272.21 L744.52 2272.22 L746.57 2272.22 L748.62 2272.22 L750.66 2272.22 L752.71 2272.22 L754.76 2272.22 L756.8 2272.21 L758.85 2272.21 L760.9 2272.21 L762.94 2272.21 L764.99 2272.21 L767.04 2272.21 L769.08 2272.2 L771.13 2272.2 L773.18 2272.2 L775.23 2272.2 L777.27 2272.2 L779.32 2272.19 L781.37 2272.19 L783.41 2272.19 L785.46 2272.19 L787.51 2272.19 L789.55 2272.19 L791.6 2272.19 L793.65 2272.18 L795.69 2272.18 L797.74 2272.18 L799.79 2272.18 L801.83 2272.19 L803.88 2272.19 L805.93 2272.19 L807.97 2272.19 L810.02 2272.19 L812.07 2272.2 L814.11 2272.2 L816.16 2272.2 L818.21 2272.21 L820.25 2272.22 L822.3 2272.22 L824.35 2272.23 L826.39 2272.24 L828.44 2272.24 L830.49 2272.25 L832.53 2272.26 L834.58 2272.27 L836.63 2272.28 L838.67 2272.29 L840.72 2272.3 L842.77 2272.31 L844.81 2272.32 L846.86 2272.33 L848.91 2272.34 L850.95 2272.35 L853 2272.37 L855.05 2272.38 L857.1 2272.39 L859.14 2272.4 L861.19 2272.41 L863.24 2272.42 L865.28 2272.43 L867.33 2272.44 L869.38 2272.46 L871.42 2272.47 L873.47 2272.48 L875.52 2272.49 L877.56 2272.5 L879.61 2272.51 L881.66 2272.52 L883.7 2272.52 L885.75 2272.53 L887.8 2272.54 L889.84 2272.55 L891.89 2272.55 L893.94 2272.56 L895.98 2272.57 L898.03 2272.57 L900.08 2272.58 L902.12 2272.58 L904.17 2272.58 L906.22 2272.58 L908.26 2272.59 L910.31 2272.59 L912.36 2272.59 L914.4 2272.59 L916.45 2272.59 L918.5 2272.59 L920.54 2272.59 L922.59 2272.59 L924.64 2272.59 L926.68 2272.59 L928.73 2272.58 L930.78 2272.58 L932.82 2272.58 L934.87 2272.58 L936.92 2272.58 L938.97 2272.57 L941.01 2272.57 L943.06 2272.57 L945.11 2272.57 L947.15 2272.57 L949.2 2272.56 L951.25 2272.56 L953.29 2272.56 L955.34 2272.56 L957.39 2272.56 L959.43 2272.56 L961.48 2272.56 L963.53 2272.56 L965.57 2272.56 L967.62 2272.56 L969.67 2272.56 L971.71 2272.56 L973.76 2272.56 L975.81 2272.56 L977.85 2272.57 L979.9 2272.57 L981.95 2272.58 L983.99 2272.58 L986.04 2272.59 L988.09 2272.59 L990.13 2272.6 L992.18 2272.61 L994.23 2272.61 L996.27 2272.62 L998.32 2272.63 L1000.37 2272.64 L1002.41 2272.65 L1004.46 2272.66 L1006.51 2272.67 L1008.55 2272.68 L1010.6 2272.69 L1012.65 2272.7 L1014.69 2272.71 L1016.74 2272.72 L1018.79 2272.73 L1020.84 2272.74 L1022.88 2272.75 L1024.93 2272.76 L1026.98 2272.77 L1029.02 2272.79 L1031.07 2272.8 L1033.12 2272.81 L1035.16 2272.82 L1037.21 2272.83 L1039.26 2272.84 L1041.3 2272.85 L1043.35 2272.86 L1045.4 2272.87 L1047.44 2272.88 L1049.49 2272.89 L1051.54 2272.9 L1053.58 2272.91 L1055.63 2272.91 L1057.68 2272.92 L1059.72 2272.93 L1061.77 2272.94 L1063.82 2272.94 L1065.86 2272.95 L1067.91 2272.95 L1069.96 2272.96 L1072 2272.96 L1074.05 2272.97 L1076.1 2272.97 L1078.14 2272.98 L1080.19 2272.98 L1082.24 2272.98 L1084.28 2272.98 L1086.33 2272.98 L1088.38 2272.99 L1090.42 2272.99 L1092.47 2272.99 L1094.52 2272.99 L1096.56 2272.99 L1098.61 2272.99 L1100.66 2272.99 L1102.71 2272.99 L1104.75 2272.99 L1106.8 2272.98 L1108.85 2272.98 L1110.89 2272.98 L1112.94 2272.98 L1114.99 2272.98 L1117.03 2272.98 L1119.08 2272.97 L1121.13 2272.97 L1123.17 2272.97 L1125.22 2272.96 L1127.27 2272.96 L1129.31 2272.96 L1131.36 2272.96 L1133.41 2272.95 L1135.45 2272.95 L1137.5 2272.95 L1139.55 2272.94 L1141.59 2272.94 L1143.64 2272.94 L1145.69 2272.93 L1147.73 2272.93 L1149.78 2272.93 L1151.83 2272.92 L1153.87 2272.92 L1155.92 2272.92 L1157.97 2272.92 L1160.01 2272.91 L1162.06 2272.91 L1164.11 2272.91 L1166.15 2272.91 L1168.2 2272.9 L1170.25 2272.9 L1172.29 2272.9 L1174.34 2272.9 L1176.39 2272.9 L1178.43 2272.89 L1180.48 2272.89 L1182.53 2272.89 L1184.58 2272.89 L1186.62 2272.89 L1188.67 2272.89 L1190.72 2272.89 L1192.76 2272.89 L1194.81 2272.89 L1196.86 2272.89 L1198.9 2272.89 L1200.95 2272.89 L1203 2272.89 L1205.04 2272.9 L1207.09 2272.9 L1209.14 2272.9 L1211.18 2272.9 L1213.23 2272.91 L1215.28 2272.91 L1217.32 2272.92 L1219.37 2272.92 L1221.42 2272.93 L1223.46 2272.93 L1225.51 2272.94 L1227.56 2272.94 L1229.6 2272.95 L1231.65 2272.96 L1233.7 2272.97 L1235.74 2272.97 L1237.79 2272.98 L1239.84 2272.99 L1241.88 2273 L1243.93 2273.01 L1245.98 2273.02 L1248.02 2273.03 L1250.07 2273.04 L1252.12 2273.05 L1254.16 2273.06 L1256.21 2273.07 L1258.26 2273.08 L1260.3 2273.09 L1262.35 2273.1 L1264.4 2273.11 L1266.45 2273.12 L1268.49 2273.13 L1270.54 2273.14 L1272.59 2273.15 L1274.63 2273.16 L1276.68 2273.17 L1278.73 2273.18 L1280.77 2273.19 L1282.82 2273.2 L1284.87 2273.21 L1286.91 2273.22 L1288.96 2273.23 L1291.01 2273.24 L1293.05 2273.25 L1295.1 2273.26 L1297.15 2273.27 L1299.19 2273.28 L1301.24 2273.28 L1303.29 2273.29 L1305.33 2273.3 L1307.38 2273.3 L1309.43 2273.31 L1311.47 2273.31 L1313.52 2273.32 L1315.57 2273.32 L1317.61 2273.33 L1319.66 2273.33 L1321.71 2273.34 L1323.75 2273.34 L1325.8 2273.34 L1327.85 2273.34 L1329.89 2273.35 L1331.94 2273.35 L1333.99 2273.35 L1336.03 2273.35 L1338.08 2273.35 L1340.13 2273.35 L1342.17 2273.35 L1344.22 2273.35 L1346.27 2273.35 L1348.32 2273.35 L1350.36 2273.35 L1352.41 2273.35 L1354.46 2273.35 L1356.5 2273.34 L1358.55 2273.34 L1360.6 2273.34 L1362.64 2273.34 L1364.69 2273.34 L1366.74 2273.33 L1368.78 2273.33 L1370.83 2273.33 L1372.88 2273.33 L1374.92 2273.32 L1376.97 2273.32 L1379.02 2273.32 L1381.06 2273.32 L1383.11 2273.31 L1385.16 2273.31 L1387.2 2273.31 L1389.25 2273.3" stroke="#000000" stroke-width="3.8" fill="none" stroke-linecap="round" stroke-dasharray="0.01 7.8"/><polygon points="224.6,2275.5 252.3,2259.5 252.3,2291.5" fill="#000000"/><polygon points="306.47,2275.5 334.17,2259.5 334.17,2291.5" fill="#000000"/><polygon points="388.34,2273.67 416.04,2257.67 416.04,2289.67" fill="#000000"/><polygon points="470.21,2272.57 497.91,2256.57 497.91,2288.57" fill="#000000"/><polygon points="552.08,2271.84 579.78,2255.84 579.78,2287.84" fill="#000000"/><polygon points="633.95,2271.84 661.65,2255.84 661.65,2287.84" fill="#000000"/><polygon points="715.82,2272.2 743.52,2256.2 743.52,2288.2" fill="#000000"/><polygon points="797.69,2272.2 825.39,2256.2 825.39,2288.2" fill="#000000"/><polygon points="879.56,2272.57 907.26,2256.57 907.26,2288.57" fill="#000000"/><polygon points="961.43,2272.57 989.13,2256.57 989.13,2288.57" fill="#000000"/><polygon points="1043.3,2272.94 1071,2256.94 1071,2288.94" fill="#000000"/><polygon points="1125.17,2272.94 1152.87,2256.94 1152.87,2288.94" fill="#000000"/><polygon points="1207.04,2272.94 1234.74,2256.94 1234.74,2288.94" fill="#000000"/><polygon points="1288.91,2273.3 1316.61,2257.3 1316.61,2289.3" fill="#000000"/><polygon points="1370.78,2273.3 1398.48,2257.3 1398.48,2289.3" fill="#000000"/><path d="M243.07 2267.45 L245.12 2268.94 L247.16 2270.43 L249.21 2271.92 L251.26 2273.38 L253.3 2274.83 L255.35 2276.25 L257.4 2277.63 L259.44 2278.99 L261.49 2280.3 L263.54 2281.56 L265.58 2282.77 L267.63 2283.92 L269.68 2285.01 L271.72 2286.04 L273.77 2286.99 L275.82 2287.86 L277.86 2288.65 L279.91 2289.35 L281.96 2289.96 L284 2290.47 L286.05 2290.87 L288.1 2291.17 L290.15 2291.35 L292.19 2291.41 L294.24 2291.34 L296.29 2291.15 L298.33 2290.82 L300.38 2290.35 L302.43 2289.73 L304.47 2288.96 L306.52 2288.04 L308.57 2286.95 L310.61 2285.7 L312.66 2284.28 L314.71 2282.68 L316.75 2280.9 L318.8 2278.93 L320.85 2276.76 L322.89 2274.4 L324.94 2271.84 L326.99 2269.07 L329.03 2266.1 L331.08 2262.94 L333.13 2259.6 L335.17 2256.08 L337.22 2252.4 L339.27 2248.56 L341.31 2244.57 L343.36 2240.44 L345.41 2236.19 L347.45 2231.8 L349.5 2227.31 L351.55 2222.71 L353.59 2218.01 L355.64 2213.22 L357.69 2208.36 L359.73 2203.42 L361.78 2198.42 L363.83 2193.37 L365.88 2188.27 L367.92 2183.13 L369.97 2177.96 L372.02 2172.78 L374.06 2167.58 L376.11 2162.38 L378.16 2157.19 L380.2 2152.01 L382.25 2146.85 L384.3 2141.73 L386.34 2136.64 L388.39 2131.61 L390.44 2126.63 L392.48 2121.71 L394.53 2116.87 L396.58 2112.12 L398.62 2107.45 L400.67 2102.88 L402.72 2098.43 L404.76 2094.09 L406.81 2089.87 L408.86 2085.79 L410.9 2081.84 L412.95 2078.01 L415 2074.3 L417.04 2070.7 L419.09 2067.21 L421.14 2063.83 L423.18 2060.55 L425.23 2057.36 L427.28 2054.26 L429.32 2051.24 L431.37 2048.3 L433.42 2045.44 L435.46 2042.64 L437.51 2039.91 L439.56 2037.24 L441.6 2034.62 L443.65 2032.06 L445.7 2029.53 L447.75 2027.05 L449.79 2024.6 L451.84 2022.17 L453.89 2019.78 L455.93 2017.4 L457.98 2015.03 L460.03 2012.68 L462.07 2010.32 L464.12 2007.97 L466.17 2005.61 L468.21 2003.24 L470.26 2000.86 L472.31 1998.45 L474.35 1996.02 L476.4 1993.55 L478.45 1991.05 L480.49 1988.51 L482.54 1985.92 L484.59 1983.29 L486.63 1980.59 L488.68 1977.84 L490.73 1975.02 L492.77 1972.14 L494.82 1969.2 L496.87 1966.22 L498.91 1963.19 L500.96 1960.13 L503.01 1957.03 L505.05 1953.91 L507.1 1950.77 L509.15 1947.61 L511.19 1944.45 L513.24 1941.28 L515.29 1938.11 L517.33 1934.96 L519.38 1931.81 L521.43 1928.69 L523.47 1925.59 L525.52 1922.53 L527.57 1919.5 L529.62 1916.51 L531.66 1913.57 L533.71 1910.69 L535.76 1907.87 L537.8 1905.11 L539.85 1902.42 L541.9 1899.81 L543.94 1897.28 L545.99 1894.85 L548.04 1892.5 L550.08 1890.26 L552.13 1888.12 L554.18 1886.1 L556.22 1884.19 L558.27 1882.4 L560.32 1880.74 L562.36 1879.22 L564.41 1877.84 L566.46 1876.6 L568.5 1875.52 L570.55 1874.59 L572.6 1873.82 L574.64 1873.21 L576.69 1872.76 L578.74 1872.45 L580.78 1872.28 L582.83 1872.26 L584.88 1872.36 L586.92 1872.6 L588.97 1872.96 L591.02 1873.43 L593.06 1874.02 L595.11 1874.71 L597.16 1875.51 L599.2 1876.4 L601.25 1877.39 L603.3 1878.47 L605.34 1879.62 L607.39 1880.86 L609.44 1882.17 L611.49 1883.54 L613.53 1884.98 L615.58 1886.47 L617.63 1888.02 L619.67 1889.61 L621.72 1891.25 L623.77 1892.92 L625.81 1894.63 L627.86 1896.36 L629.91 1898.11 L631.95 1899.89 L634 1901.67 L636.05 1903.46 L638.09 1905.25 L640.14 1907.04 L642.19 1908.82 L644.23 1910.59 L646.28 1912.34 L648.33 1914.06 L650.37 1915.76 L652.42 1917.42 L654.47 1919.05 L656.51 1920.64 L658.56 1922.19 L660.61 1923.71 L662.65 1925.19 L664.7 1926.64 L666.75 1928.06 L668.79 1929.45 L670.84 1930.81 L672.89 1932.13 L674.93 1933.43 L676.98 1934.7 L679.03 1935.95 L681.07 1937.17 L683.12 1938.37 L685.17 1939.54 L687.21 1940.7 L689.26 1941.83 L691.31 1942.94 L693.36 1944.03 L695.4 1945.11 L697.45 1946.17 L699.5 1947.21 L701.54 1948.24 L703.59 1949.25 L705.64 1950.26 L707.68 1951.25 L709.73 1952.23 L711.78 1953.2 L713.82 1954.16 L715.87 1955.12 L717.92 1956.07 L719.96 1957.01 L722.01 1957.95 L724.06 1958.89 L726.1 1959.82 L728.15 1960.75 L730.2 1961.69 L732.24 1962.62 L734.29 1963.56 L736.34 1964.5 L738.38 1965.44 L740.43 1966.38 L742.48 1967.33 L744.52 1968.28 L746.57 1969.23 L748.62 1970.18 L750.66 1971.13 L752.71 1972.09 L754.76 1973.04 L756.8 1974 L758.85 1974.95 L760.9 1975.91 L762.94 1976.87 L764.99 1977.82 L767.04 1978.78 L769.08 1979.73 L771.13 1980.68 L773.18 1981.64 L775.23 1982.59 L777.27 1983.54 L779.32 1984.48 L781.37 1985.43 L783.41 1986.37 L785.46 1987.31 L787.51 1988.24 L789.55 1989.18 L791.6 1990.11 L793.65 1991.03 L795.69 1991.95 L797.74 1992.87 L799.79 1993.78 L801.83 1994.69 L803.88 1995.6 L805.93 1996.5 L807.97 1997.39 L810.02 1998.28 L812.07 1999.16 L814.11 2000.03 L816.16 2000.9 L818.21 2001.77 L820.25 2002.62 L822.3 2003.47 L824.35 2004.31 L826.39 2005.15 L828.44 2005.98 L830.49 2006.8 L832.53 2007.62 L834.58 2008.43 L836.63 2009.24 L838.67 2010.04 L840.72 2010.83 L842.77 2011.61 L844.81 2012.39 L846.86 2013.17 L848.91 2013.93 L850.95 2014.69 L853 2015.45 L855.05 2016.2 L857.1 2016.94 L859.14 2017.68 L861.19 2018.41 L863.24 2019.13 L865.28 2019.85 L867.33 2020.56 L869.38 2021.27 L871.42 2021.97 L873.47 2022.67 L875.52 2023.36 L877.56 2024.04 L879.61 2024.72 L881.66 2025.39 L883.7 2026.05 L885.75 2026.71 L887.8 2027.37 L889.84 2028.02 L891.89 2028.66 L893.94 2029.3 L895.98 2029.93 L898.03 2030.56 L900.08 2031.18 L902.12 2031.8 L904.17 2032.41 L906.22 2033.01 L908.26 2033.61 L910.31 2034.21 L912.36 2034.8 L914.4 2035.39 L916.45 2035.97 L918.5 2036.55 L920.54 2037.12 L922.59 2037.69 L924.64 2038.25 L926.68 2038.82 L928.73 2039.37 L930.78 2039.93 L932.82 2040.48 L934.87 2041.03 L936.92 2041.57 L938.97 2042.11 L941.01 2042.65 L943.06 2043.19 L945.11 2043.72 L947.15 2044.25 L949.2 2044.78 L951.25 2045.31 L953.29 2045.83 L955.34 2046.36 L957.39 2046.88 L959.43 2047.4 L961.48 2047.92 L963.53 2048.43 L965.57 2048.95 L967.62 2049.46 L969.67 2049.97 L971.71 2050.49 L973.76 2051 L975.81 2051.51 L977.85 2052.02 L979.9 2052.53 L981.95 2053.04 L983.99 2053.55 L986.04 2054.05 L988.09 2054.56 L990.13 2055.07 L992.18 2055.58 L994.23 2056.08 L996.27 2056.59 L998.32 2057.1 L1000.37 2057.6 L1002.41 2058.1 L1004.46 2058.61 L1006.51 2059.11 L1008.55 2059.61 L1010.6 2060.11 L1012.65 2060.6 L1014.69 2061.1 L1016.74 2061.59 L1018.79 2062.09 L1020.84 2062.58 L1022.88 2063.07 L1024.93 2063.55 L1026.98 2064.04 L1029.02 2064.52 L1031.07 2065 L1033.12 2065.48 L1035.16 2065.96 L1037.21 2066.44 L1039.26 2066.91 L1041.3 2067.38 L1043.35 2067.85 L1045.4 2068.31 L1047.44 2068.77 L1049.49 2069.23 L1051.54 2069.69 L1053.58 2070.15 L1055.63 2070.6 L1057.68 2071.04 L1059.72 2071.49 L1061.77 2071.93 L1063.82 2072.37 L1065.86 2072.81 L1067.91 2073.24 L1069.96 2073.67 L1072 2074.09 L1074.05 2074.52 L1076.1 2074.94 L1078.14 2075.36 L1080.19 2075.77 L1082.24 2076.19 L1084.28 2076.6 L1086.33 2077.01 L1088.38 2077.42 L1090.42 2077.82 L1092.47 2078.23 L1094.52 2078.63 L1096.56 2079.03 L1098.61 2079.43 L1100.66 2079.83 L1102.71 2080.22 L1104.75 2080.62 L1106.8 2081.01 L1108.85 2081.41 L1110.89 2081.8 L1112.94 2082.19 L1114.99 2082.58 L1117.03 2082.97 L1119.08 2083.36 L1121.13 2083.75 L1123.17 2084.14 L1125.22 2084.53 L1127.27 2084.92 L1129.31 2085.31 L1131.36 2085.7 L1133.41 2086.09 L1135.45 2086.48 L1137.5 2086.87 L1139.55 2087.26 L1141.59 2087.65 L1143.64 2088.04 L1145.69 2088.43 L1147.73 2088.83 L1149.78 2089.22 L1151.83 2089.62 L1153.87 2090.01 L1155.92 2090.41 L1157.97 2090.8 L1160.01 2091.2 L1162.06 2091.59 L1164.11 2091.99 L1166.15 2092.38 L1168.2 2092.77 L1170.25 2093.16 L1172.29 2093.55 L1174.34 2093.94 L1176.39 2094.33 L1178.43 2094.71 L1180.48 2095.1 L1182.53 2095.48 L1184.58 2095.86 L1186.62 2096.23 L1188.67 2096.61 L1190.72 2096.98 L1192.76 2097.34 L1194.81 2097.71 L1196.86 2098.07 L1198.9 2098.43 L1200.95 2098.78 L1203 2099.13 L1205.04 2099.48 L1207.09 2099.82 L1209.14 2100.16 L1211.18 2100.49 L1213.23 2100.82 L1215.28 2101.14 L1217.32 2101.46 L1219.37 2101.78 L1221.42 2102.09 L1223.46 2102.39 L1225.51 2102.69 L1227.56 2102.98 L1229.6 2103.26 L1231.65 2103.54 L1233.7 2103.82 L1235.74 2104.09 L1237.79 2104.36 L1239.84 2104.62 L1241.88 2104.88 L1243.93 2105.13 L1245.98 2105.38 L1248.02 2105.62 L1250.07 2105.87 L1252.12 2106.11 L1254.16 2106.34 L1256.21 2106.58 L1258.26 2106.81 L1260.3 2107.04 L1262.35 2107.26 L1264.4 2107.49 L1266.45 2107.71 L1268.49 2107.93 L1270.54 2108.16 L1272.59 2108.38 L1274.63 2108.6 L1276.68 2108.81 L1278.73 2109.03 L1280.77 2109.25 L1282.82 2109.47 L1284.87 2109.69 L1286.91 2109.91 L1288.96 2110.13 L1291.01 2110.36 L1293.05 2110.58 L1295.1 2110.81 L1297.15 2111.03 L1299.19 2111.26 L1301.24 2111.49 L1303.29 2111.73 L1305.33 2111.97 L1307.38 2112.21 L1309.43 2112.45 L1311.47 2112.7 L1313.52 2112.94 L1315.57 2113.2 L1317.61 2113.45 L1319.66 2113.71 L1321.71 2113.97 L1323.75 2114.23 L1325.8 2114.5 L1327.85 2114.77 L1329.89 2115.04 L1331.94 2115.31 L1333.99 2115.58 L1336.03 2115.86 L1338.08 2116.14 L1340.13 2116.42 L1342.17 2116.7 L1344.22 2116.99 L1346.27 2117.28 L1348.32 2117.56 L1350.36 2117.85 L1352.41 2118.14 L1354.46 2118.44 L1356.5 2118.73 L1358.55 2119.03 L1360.6 2119.32 L1362.64 2119.62 L1364.69 2119.92 L1366.74 2120.22 L1368.78 2120.52 L1370.83 2120.82 L1372.88 2121.12 L1374.92 2121.43 L1376.97 2121.73 L1379.02 2122.03 L1381.06 2122.34 L1383.11 2122.64 L1385.16 2122.95 L1387.2 2123.25 L1389.25 2123.56" stroke="#ff0000" stroke-width="3.8" fill="none" stroke-linecap="round" stroke-dasharray="0.01 7.8"/><polygon points="243.07,2251.85 258.67,2267.45 243.07,2283.05 227.47,2267.45" fill="#fff" stroke="#ff0000" stroke-width="1.6"/><polygon points="258.67,2267.45 243.07,2283.05 227.47,2267.45" fill="#ff0000" stroke="#ff0000" stroke-width="1.6"/><polygon points="324.94,2256.24 340.54,2271.84 324.94,2287.44 309.34,2271.84" fill="#fff" stroke="#ff0000" stroke-width="1.6"/><polygon points="340.54,2271.84 324.94,2287.44 309.34,2271.84" fill="#ff0000" stroke="#ff0000" stroke-width="1.6"/><polygon points="406.81,2074.27 422.41,2089.87 406.81,2105.47 391.21,2089.87" fill="#fff" stroke="#ff0000" stroke-width="1.6"/><polygon points="422.41,2089.87 406.81,2105.47 391.21,2089.87" fill="#ff0000" stroke="#ff0000" stroke-width="1.6"/><polygon points="488.68,1962.24 504.28,1977.84 488.68,1993.44 473.08,1977.84" fill="#fff" stroke="#ff0000" stroke-width="1.6"/><polygon points="504.28,1977.84 488.68,1993.44 473.08,1977.84" fill="#ff0000" stroke="#ff0000" stroke-width="1.6"/><polygon points="570.55,1858.99 586.15,1874.59 570.55,1890.19 554.95,1874.59" fill="#fff" stroke="#ff0000" stroke-width="1.6"/><polygon points="586.15,1874.59 570.55,1890.19 554.95,1874.59" fill="#ff0000" stroke="#ff0000" stroke-width="1.6"/><polygon points="652.42,1901.82 668.02,1917.42 652.42,1933.02 636.82,1917.42" fill="#fff" stroke="#ff0000" stroke-width="1.6"/><polygon points="668.02,1917.42 652.42,1933.02 636.82,1917.42" fill="#ff0000" stroke="#ff0000" stroke-width="1.6"/><polygon points="734.29,1947.96 749.89,1963.56 734.29,1979.16 718.69,1963.56" fill="#fff" stroke="#ff0000" stroke-width="1.6"/><polygon points="749.89,1963.56 734.29,1979.16 718.69,1963.56" fill="#ff0000" stroke="#ff0000" stroke-width="1.6"/><polygon points="816.16,1985.3 831.76,2000.9 816.16,2016.5 800.56,2000.9" fill="#fff" stroke="#ff0000" stroke-width="1.6"/><polygon points="831.76,2000.9 816.16,2016.5 800.56,2000.9" fill="#ff0000" stroke="#ff0000" stroke-width="1.6"/><polygon points="898.03,2014.96 913.63,2030.56 898.03,2046.16 882.43,2030.56" fill="#fff" stroke="#ff0000" stroke-width="1.6"/><polygon points="913.63,2030.56 898.03,2046.16 882.43,2030.56" fill="#ff0000" stroke="#ff0000" stroke-width="1.6"/><polygon points="979.9,2036.93 995.5,2052.53 979.9,2068.13 964.3,2052.53" fill="#fff" stroke="#ff0000" stroke-width="1.6"/><polygon points="995.5,2052.53 979.9,2068.13 964.3,2052.53" fill="#ff0000" stroke="#ff0000" stroke-width="1.6"/><polygon points="1061.77,2056.33 1077.37,2071.93 1061.77,2087.53 1046.17,2071.93" fill="#fff" stroke="#ff0000" stroke-width="1.6"/><polygon points="1077.37,2071.93 1061.77,2087.53 1046.17,2071.93" fill="#ff0000" stroke="#ff0000" stroke-width="1.6"/><polygon points="1143.64,2072.44 1159.24,2088.04 1143.64,2103.64 1128.04,2088.04" fill="#fff" stroke="#ff0000" stroke-width="1.6"/><polygon points="1159.24,2088.04 1143.64,2103.64 1128.04,2088.04" fill="#ff0000" stroke="#ff0000" stroke-width="1.6"/><polygon points="1225.51,2087.09 1241.11,2102.69 1225.51,2118.29 1209.91,2102.69" fill="#fff" stroke="#ff0000" stroke-width="1.6"/><polygon points="1241.11,2102.69 1225.51,2118.29 1209.91,2102.69" fill="#ff0000" stroke="#ff0000" stroke-width="1.6"/><polygon points="1307.38,2096.61 1322.98,2112.21 1307.38,2127.81 1291.78,2112.21" fill="#fff" stroke="#ff0000" stroke-width="1.6"/><polygon points="1322.98,2112.21 1307.38,2127.81 1291.78,2112.21" fill="#ff0000" stroke="#ff0000" stroke-width="1.6"/><polygon points="1389.25,2107.96 1404.85,2123.56 1389.25,2139.16 1373.65,2123.56" fill="#fff" stroke="#ff0000" stroke-width="1.6"/><polygon points="1404.85,2123.56 1389.25,2139.16 1373.65,2123.56" fill="#ff0000" stroke="#ff0000" stroke-width="1.6"/><path d="M243.07 2253.9 L245.12 2255.14 L247.16 2256.38 L249.21 2257.61 L251.26 2258.83 L253.3 2260.04 L255.35 2261.24 L257.4 2262.43 L259.44 2263.59 L261.49 2264.73 L263.54 2265.84 L265.58 2266.93 L267.63 2267.98 L269.68 2269.01 L271.72 2269.99 L273.77 2270.94 L275.82 2271.84 L277.86 2272.7 L279.91 2273.51 L281.96 2274.28 L284 2274.98 L286.05 2275.64 L288.1 2276.23 L290.15 2276.76 L292.19 2277.23 L294.24 2277.63 L296.29 2277.96 L298.33 2278.22 L300.38 2278.4 L302.43 2278.5 L304.47 2278.53 L306.52 2278.47 L308.57 2278.32 L310.61 2278.08 L312.66 2277.75 L314.71 2277.32 L316.75 2276.8 L318.8 2276.18 L320.85 2275.45 L322.89 2274.61 L324.94 2273.67 L326.99 2272.61 L329.03 2271.45 L331.08 2270.17 L333.13 2268.78 L335.17 2267.28 L337.22 2265.67 L339.27 2263.95 L341.31 2262.12 L343.36 2260.18 L345.41 2258.13 L347.45 2255.98 L349.5 2253.71 L351.55 2251.34 L353.59 2248.86 L355.64 2246.27 L357.69 2243.58 L359.73 2240.78 L361.78 2237.87 L363.83 2234.86 L365.88 2231.74 L367.92 2228.51 L369.97 2225.19 L372.02 2221.75 L374.06 2218.21 L376.11 2214.57 L378.16 2210.83 L380.2 2206.98 L382.25 2203.03 L384.3 2198.98 L386.34 2194.82 L388.39 2190.56 L390.44 2186.2 L392.48 2181.74 L394.53 2177.18 L396.58 2172.52 L398.62 2167.76 L400.67 2162.9 L402.72 2157.94 L404.76 2152.88 L406.81 2147.72 L408.86 2142.46 L410.9 2137.12 L412.95 2131.68 L415 2126.17 L417.04 2120.58 L419.09 2114.93 L421.14 2109.22 L423.18 2103.45 L425.23 2097.63 L427.28 2091.77 L429.32 2085.88 L431.37 2079.96 L433.42 2074.02 L435.46 2068.05 L437.51 2062.08 L439.56 2056.11 L441.6 2050.14 L443.65 2044.17 L445.7 2038.23 L447.75 2032.3 L449.79 2026.4 L451.84 2020.54 L453.89 2014.72 L455.93 2008.94 L457.98 2003.22 L460.03 1997.55 L462.07 1991.95 L464.12 1986.43 L466.17 1980.98 L468.21 1975.62 L470.26 1970.35 L472.31 1965.17 L474.35 1960.1 L476.4 1955.14 L478.45 1950.3 L480.49 1945.58 L482.54 1940.98 L484.59 1936.53 L486.63 1932.21 L488.68 1928.04 L490.73 1924.03 L492.77 1920.16 L494.82 1916.45 L496.87 1912.89 L498.91 1909.47 L500.96 1906.19 L503.01 1903.06 L505.05 1900.07 L507.1 1897.21 L509.15 1894.49 L511.19 1891.91 L513.24 1889.45 L515.29 1887.13 L517.33 1884.93 L519.38 1882.86 L521.43 1880.91 L523.47 1879.08 L525.52 1877.38 L527.57 1875.79 L529.62 1874.31 L531.66 1872.95 L533.71 1871.7 L535.76 1870.55 L537.8 1869.52 L539.85 1868.59 L541.9 1867.76 L543.94 1867.03 L545.99 1866.4 L548.04 1865.87 L550.08 1865.43 L552.13 1865.09 L554.18 1864.83 L556.22 1864.67 L558.27 1864.58 L560.32 1864.59 L562.36 1864.68 L564.41 1864.84 L566.46 1865.09 L568.5 1865.41 L570.55 1865.8 L572.6 1866.27 L574.64 1866.8 L576.69 1867.41 L578.74 1868.07 L580.78 1868.8 L582.83 1869.59 L584.88 1870.44 L586.92 1871.35 L588.97 1872.3 L591.02 1873.31 L593.06 1874.37 L595.11 1875.47 L597.16 1876.62 L599.2 1877.8 L601.25 1879.03 L603.3 1880.29 L605.34 1881.59 L607.39 1882.92 L609.44 1884.28 L611.49 1885.67 L613.53 1887.08 L615.58 1888.52 L617.63 1889.98 L619.67 1891.45 L621.72 1892.94 L623.77 1894.44 L625.81 1895.96 L627.86 1897.48 L629.91 1899.01 L631.95 1900.55 L634 1902.08 L636.05 1903.62 L638.09 1905.15 L640.14 1906.67 L642.19 1908.19 L644.23 1909.7 L646.28 1911.2 L648.33 1912.68 L650.37 1914.15 L652.42 1915.59 L654.47 1917.02 L656.51 1918.42 L658.56 1919.81 L660.61 1921.17 L662.65 1922.51 L664.7 1923.84 L666.75 1925.14 L668.79 1926.43 L670.84 1927.7 L672.89 1928.96 L674.93 1930.2 L676.98 1931.42 L679.03 1932.62 L681.07 1933.82 L683.12 1934.99 L685.17 1936.16 L687.21 1937.31 L689.26 1938.45 L691.31 1939.57 L693.36 1940.69 L695.4 1941.79 L697.45 1942.88 L699.5 1943.97 L701.54 1945.04 L703.59 1946.11 L705.64 1947.16 L707.68 1948.21 L709.73 1949.25 L711.78 1950.29 L713.82 1951.31 L715.87 1952.33 L717.92 1953.35 L719.96 1954.36 L722.01 1955.37 L724.06 1956.38 L726.1 1957.38 L728.15 1958.38 L730.2 1959.37 L732.24 1960.37 L734.29 1961.36 L736.34 1962.35 L738.38 1963.35 L740.43 1964.34 L742.48 1965.33 L744.52 1966.32 L746.57 1967.31 L748.62 1968.29 L750.66 1969.28 L752.71 1970.26 L754.76 1971.25 L756.8 1972.23 L758.85 1973.2 L760.9 1974.18 L762.94 1975.15 L764.99 1976.12 L767.04 1977.09 L769.08 1978.05 L771.13 1979.02 L773.18 1979.97 L775.23 1980.93 L777.27 1981.88 L779.32 1982.83 L781.37 1983.77 L783.41 1984.71 L785.46 1985.65 L787.51 1986.58 L789.55 1987.5 L791.6 1988.43 L793.65 1989.34 L795.69 1990.26 L797.74 1991.16 L799.79 1992.06 L801.83 1992.96 L803.88 1993.85 L805.93 1994.74 L807.97 1995.62 L810.02 1996.49 L812.07 1997.36 L814.11 1998.22 L816.16 1999.07 L818.21 1999.92 L820.25 2000.76 L822.3 2001.6 L824.35 2002.42 L826.39 2003.25 L828.44 2004.06 L830.49 2004.87 L832.53 2005.67 L834.58 2006.47 L836.63 2007.26 L838.67 2008.05 L840.72 2008.83 L842.77 2009.61 L844.81 2010.38 L846.86 2011.14 L848.91 2011.9 L850.95 2012.65 L853 2013.4 L855.05 2014.14 L857.1 2014.88 L859.14 2015.61 L861.19 2016.34 L863.24 2017.07 L865.28 2017.78 L867.33 2018.5 L869.38 2019.21 L871.42 2019.91 L873.47 2020.62 L875.52 2021.31 L877.56 2022.01 L879.61 2022.69 L881.66 2023.38 L883.7 2024.06 L885.75 2024.74 L887.8 2025.41 L889.84 2026.08 L891.89 2026.75 L893.94 2027.41 L895.98 2028.07 L898.03 2028.73 L900.08 2029.38 L902.12 2030.03 L904.17 2030.68 L906.22 2031.32 L908.26 2031.96 L910.31 2032.6 L912.36 2033.24 L914.4 2033.87 L916.45 2034.5 L918.5 2035.12 L920.54 2035.74 L922.59 2036.36 L924.64 2036.98 L926.68 2037.59 L928.73 2038.2 L930.78 2038.81 L932.82 2039.42 L934.87 2040.02 L936.92 2040.62 L938.97 2041.21 L941.01 2041.8 L943.06 2042.39 L945.11 2042.98 L947.15 2043.57 L949.2 2044.15 L951.25 2044.72 L953.29 2045.3 L955.34 2045.87 L957.39 2046.44 L959.43 2047.01 L961.48 2047.57 L963.53 2048.13 L965.57 2048.69 L967.62 2049.25 L969.67 2049.8 L971.71 2050.35 L973.76 2050.9 L975.81 2051.45 L977.85 2051.99 L979.9 2052.53 L981.95 2053.06 L983.99 2053.6 L986.04 2054.13 L988.09 2054.66 L990.13 2055.18 L992.18 2055.71 L994.23 2056.23 L996.27 2056.75 L998.32 2057.26 L1000.37 2057.77 L1002.41 2058.29 L1004.46 2058.79 L1006.51 2059.3 L1008.55 2059.8 L1010.6 2060.3 L1012.65 2060.8 L1014.69 2061.29 L1016.74 2061.78 L1018.79 2062.27 L1020.84 2062.76 L1022.88 2063.24 L1024.93 2063.72 L1026.98 2064.2 L1029.02 2064.68 L1031.07 2065.15 L1033.12 2065.62 L1035.16 2066.09 L1037.21 2066.55 L1039.26 2067.02 L1041.3 2067.48 L1043.35 2067.93 L1045.4 2068.39 L1047.44 2068.84 L1049.49 2069.29 L1051.54 2069.74 L1053.58 2070.18 L1055.63 2070.62 L1057.68 2071.06 L1059.72 2071.5 L1061.77 2071.93 L1063.82 2072.36 L1065.86 2072.79 L1067.91 2073.22 L1069.96 2073.64 L1072 2074.06 L1074.05 2074.48 L1076.1 2074.9 L1078.14 2075.32 L1080.19 2075.73 L1082.24 2076.14 L1084.28 2076.55 L1086.33 2076.96 L1088.38 2077.37 L1090.42 2077.77 L1092.47 2078.17 L1094.52 2078.58 L1096.56 2078.98 L1098.61 2079.38 L1100.66 2079.78 L1102.71 2080.17 L1104.75 2080.57 L1106.8 2080.97 L1108.85 2081.36 L1110.89 2081.76 L1112.94 2082.15 L1114.99 2082.54 L1117.03 2082.94 L1119.08 2083.33 L1121.13 2083.72 L1123.17 2084.11 L1125.22 2084.51 L1127.27 2084.9 L1129.31 2085.29 L1131.36 2085.68 L1133.41 2086.07 L1135.45 2086.47 L1137.5 2086.86 L1139.55 2087.25 L1141.59 2087.65 L1143.64 2088.04 L1145.69 2088.44 L1147.73 2088.83 L1149.78 2089.23 L1151.83 2089.63 L1153.87 2090.02 L1155.92 2090.42 L1157.97 2090.81 L1160.01 2091.21 L1162.06 2091.61 L1164.11 2092 L1166.15 2092.39 L1168.2 2092.79 L1170.25 2093.18 L1172.29 2093.57 L1174.34 2093.96 L1176.39 2094.34 L1178.43 2094.73 L1180.48 2095.11 L1182.53 2095.49 L1184.58 2095.87 L1186.62 2096.25 L1188.67 2096.62 L1190.72 2096.99 L1192.76 2097.36 L1194.81 2097.72 L1196.86 2098.08 L1198.9 2098.44 L1200.95 2098.79 L1203 2099.14 L1205.04 2099.49 L1207.09 2099.83 L1209.14 2100.16 L1211.18 2100.5 L1213.23 2100.82 L1215.28 2101.15 L1217.32 2101.47 L1219.37 2101.78 L1221.42 2102.09 L1223.46 2102.39 L1225.51 2102.69 L1227.56 2102.98 L1229.6 2103.26 L1231.65 2103.54 L1233.7 2103.82 L1235.74 2104.09 L1237.79 2104.35 L1239.84 2104.62 L1241.88 2104.87 L1243.93 2105.13 L1245.98 2105.37 L1248.02 2105.62 L1250.07 2105.86 L1252.12 2106.1 L1254.16 2106.34 L1256.21 2106.57 L1258.26 2106.8 L1260.3 2107.03 L1262.35 2107.26 L1264.4 2107.48 L1266.45 2107.71 L1268.49 2107.93 L1270.54 2108.15 L1272.59 2108.37 L1274.63 2108.59 L1276.68 2108.81 L1278.73 2109.03 L1280.77 2109.25 L1282.82 2109.47 L1284.87 2109.69 L1286.91 2109.91 L1288.96 2110.13 L1291.01 2110.36 L1293.05 2110.58 L1295.1 2110.81 L1297.15 2111.03 L1299.19 2111.26 L1301.24 2111.49 L1303.29 2111.73 L1305.33 2111.97 L1307.38 2112.21 L1309.43 2112.45 L1311.47 2112.7 L1313.52 2112.94 L1315.57 2113.2 L1317.61 2113.45 L1319.66 2113.71 L1321.71 2113.97 L1323.75 2114.23 L1325.8 2114.5 L1327.85 2114.77 L1329.89 2115.04 L1331.94 2115.31 L1333.99 2115.59 L1336.03 2115.86 L1338.08 2116.14 L1340.13 2116.42 L1342.17 2116.71 L1344.22 2116.99 L1346.27 2117.28 L1348.32 2117.57 L1350.36 2117.85 L1352.41 2118.15 L1354.46 2118.44 L1356.5 2118.73 L1358.55 2119.03 L1360.6 2119.32 L1362.64 2119.62 L1364.69 2119.92 L1366.74 2120.22 L1368.78 2120.52 L1370.83 2120.82 L1372.88 2121.12 L1374.92 2121.43 L1376.97 2121.73 L1379.02 2122.03 L1381.06 2122.34 L1383.11 2122.64 L1385.16 2122.95 L1387.2 2123.25 L1389.25 2123.56" stroke="#0000ff" stroke-width="3.8" fill="none" stroke-linecap="round" stroke-dasharray="0.01 7.8"/><polygon points="243.07,2238.3 247.01,2248.47 257.91,2249.08 249.45,2255.97 252.24,2266.52 243.07,2260.61 233.9,2266.52 236.69,2255.97 228.23,2249.08 239.13,2248.47" fill="#0000ff"/><polygon points="324.94,2258.07 328.88,2268.24 339.78,2268.85 331.32,2275.74 334.11,2286.29 324.94,2280.38 315.77,2286.29 318.56,2275.74 310.1,2268.85 321,2268.24" fill="#0000ff"/><polygon points="406.81,2132.12 410.75,2142.29 421.65,2142.9 413.19,2149.79 415.98,2160.34 406.81,2154.43 397.64,2160.34 400.43,2149.79 391.97,2142.9 402.87,2142.29" fill="#0000ff"/><polygon points="488.68,1912.44 492.62,1922.62 503.52,1923.22 495.06,1930.12 497.85,1940.66 488.68,1934.75 479.51,1940.66 482.3,1930.12 473.84,1923.22 484.74,1922.62" fill="#0000ff"/><polygon points="570.55,1850.2 574.49,1860.37 585.39,1860.98 576.93,1867.87 579.72,1878.42 570.55,1872.51 561.38,1878.42 564.17,1867.87 555.71,1860.98 566.61,1860.37" fill="#0000ff"/><polygon points="652.42,1899.99 656.36,1910.17 667.26,1910.77 658.8,1917.67 661.59,1928.21 652.42,1922.3 643.25,1928.21 646.04,1917.67 637.58,1910.77 648.48,1910.17" fill="#0000ff"/><polygon points="734.29,1945.76 738.23,1955.93 749.13,1956.54 740.67,1963.43 743.46,1973.98 734.29,1968.07 725.12,1973.98 727.91,1963.43 719.45,1956.54 730.35,1955.93" fill="#0000ff"/><polygon points="816.16,1983.47 820.1,1993.64 831,1994.25 822.54,2001.14 825.33,2011.69 816.16,2005.78 806.99,2011.69 809.78,2001.14 801.32,1994.25 812.22,1993.64" fill="#0000ff"/><polygon points="898.03,2013.13 901.97,2023.3 912.87,2023.91 904.41,2030.8 907.2,2041.35 898.03,2035.44 888.86,2041.35 891.65,2030.8 883.19,2023.91 894.09,2023.3" fill="#0000ff"/><polygon points="979.9,2036.93 983.84,2047.1 994.74,2047.71 986.28,2054.6 989.07,2065.15 979.9,2059.23 970.73,2065.15 973.52,2054.6 965.06,2047.71 975.96,2047.1" fill="#0000ff"/><polygon points="1061.77,2056.33 1065.71,2066.5 1076.61,2067.11 1068.15,2074 1070.94,2084.55 1061.77,2078.64 1052.6,2084.55 1055.39,2074 1046.93,2067.11 1057.83,2066.5" fill="#0000ff"/><polygon points="1143.64,2072.44 1147.58,2082.61 1158.48,2083.22 1150.02,2090.11 1152.81,2100.66 1143.64,2094.75 1134.47,2100.66 1137.26,2090.11 1128.8,2083.22 1139.7,2082.61" fill="#0000ff"/><polygon points="1225.51,2087.09 1229.45,2097.26 1240.35,2097.87 1231.89,2104.76 1234.68,2115.31 1225.51,2109.39 1216.34,2115.31 1219.13,2104.76 1210.67,2097.87 1221.57,2097.26" fill="#0000ff"/><polygon points="1307.38,2096.61 1311.32,2106.78 1322.22,2107.39 1313.76,2114.28 1316.55,2124.83 1307.38,2118.91 1298.21,2124.83 1301,2114.28 1292.54,2107.39 1303.44,2106.78" fill="#0000ff"/><polygon points="1389.25,2107.96 1393.19,2118.13 1404.09,2118.74 1395.63,2125.63 1398.42,2136.18 1389.25,2130.26 1380.08,2136.18 1382.87,2125.63 1374.41,2118.74 1385.31,2118.13" fill="#0000ff"/></g><g transform="translate(479,1308.6) scale(1.0)"><rect x="0" y="0" width="562.7" height="421" fill="#fff"/><defs><radialGradient id="cy479" gradientUnits="userSpaceOnUse" cx="275" cy="236" r="230" gradientTransform="translate(0,236) scale(1,0.5) translate(0,-236)"><stop offset="0" stop-color="#76f5f4"/><stop offset="0.45" stop-color="#84f9f8"/><stop offset="1" stop-color="#8efcfb"/></radialGradient><linearGradient id="cy479l" x1="0" x2="1" y1="0" y2="0"><stop offset="0" stop-color="#fa9a76"/><stop offset="1" stop-color="#ef8c68"/></linearGradient></defs><polygon points="11.2,129.7 309.8,78.9 552.9,179.3 545.7,308.2 206.4,412.8 21.9,246.3" fill="url(#cy479)"/><path d="M136.12 17.41 L136 21.12 L135.93 24.83 L135.92 28.53 L135.96 32.24 L136.06 35.94 L136.22 39.64 L136.42 43.34 L136.68 47.03 L136.99 50.73 L137.34 54.41 L137.74 58.09 L138.19 61.77 L138.69 65.44 L139.22 69.11 L139.8 72.77 L140.42 76.42 L141.08 80.07 L141.79 83.71 L142.53 87.34 L143.32 90.95 L144.16 94.56 L145.04 98.16 L145.97 101.74 L146.96 105.31 L147.99 108.87 L149.08 112.41 L150.22 115.93 L151.42 119.44 L152.67 122.93 L152.59 123 L153.09 125.22 L153.66 127.42 L154.3 129.61 L155.02 131.77 L155.81 133.9 L156.66 136.01 L157.59 138.09 L158.59 140.14 L159.65 142.15 L160.78 144.13 L161.97 146.07 L163.23 147.96 L164.55 149.82 L165.93 151.63 L167.36 153.39 L168.86 155.11 L170.41 156.77 L172.02 158.39 L173.68 159.95 L175.39 161.45 L177.15 162.89 L178.95 164.28 L180.8 165.61 L182.7 166.87 L184.63 168.07 L186.6 169.21 L188.61 170.28 L190.65 171.28 L192.73 172.21 L252.69 198.02 L250.62 197.08 L248.58 196.08 L246.57 195.01 L244.59 193.87 L242.66 192.67 L240.77 191.41 L238.92 190.08 L237.11 188.69 L235.35 187.25 L233.64 185.75 L231.98 184.19 L230.38 182.57 L228.83 180.91 L227.33 179.19 L225.89 177.43 L224.51 175.62 L223.19 173.76 L221.93 171.87 L220.74 169.93 L219.61 167.95 L218.55 165.94 L217.56 163.89 L216.63 161.81 L215.77 159.7 L214.98 157.57 L214.27 155.41 L213.62 153.22 L213.05 151.02 L212.55 148.8 L212.64 148.73 L211.38 145.24 L210.19 141.73 L209.04 138.21 L207.96 134.67 L206.92 131.11 L205.94 127.54 L205.01 123.96 L204.12 120.36 L203.29 116.75 L202.5 113.14 L201.75 109.51 L201.05 105.87 L200.39 102.22 L199.77 98.57 L199.19 94.91 L198.65 91.24 L198.16 87.57 L197.71 83.9 L197.3 80.21 L196.95 76.53 L196.64 72.84 L196.39 69.14 L196.18 65.44 L196.03 61.74 L195.93 58.04 L195.88 54.34 L195.89 50.63 L195.96 46.92 L196.09 43.21Z" fill="#9ad6d4"/><path d="M136.12 17.41 L136 21.12 L135.93 24.83 L135.92 28.53 L135.96 32.24 L136.06 35.94 L136.22 39.64 L136.42 43.34 L136.68 47.03 L136.99 50.73 L137.34 54.41 L137.74 58.09 L138.19 61.77 L138.69 65.44 L139.22 69.11 L139.8 72.77 L140.42 76.42 L141.08 80.07 L141.79 83.71 L142.53 87.34 L143.32 90.95 L144.16 94.56 L145.04 98.16 L145.97 101.74 L146.96 105.31 L147.99 108.87 L149.08 112.41 L150.22 115.93 L151.42 119.44 L152.67 122.93 L156.05 128.09 L214.83 157.13 L214.83 157.13 L214.29 155.49 L213.8 153.83 L213.34 152.16 L212.93 150.49 L212.55 148.8 L212.64 148.73 L211.38 145.24 L210.19 141.73 L209.04 138.21 L207.96 134.67 L206.92 131.11 L205.94 127.54 L205.01 123.96 L204.12 120.36 L203.29 116.75 L202.5 113.14 L201.75 109.51 L201.05 105.87 L200.39 102.22 L199.77 98.57 L199.19 94.91 L198.65 91.24 L198.16 87.57 L197.71 83.9 L197.3 80.21 L196.95 76.53 L196.64 72.84 L196.39 69.14 L196.18 65.44 L196.03 61.74 L195.93 58.04 L195.88 54.34 L195.89 50.63 L195.96 46.92 L196.09 43.21Z" fill="url(#cy479l)"/><path d="M136.12 17.41 L139.14 17 L142.15 16.64 L145.18 16.33 L148.21 16.08 L151.25 15.88 L154.29 15.73 L157.33 15.63 L160.38 15.59 L163.42 15.6 L166.46 15.66 L169.51 15.77 L172.55 15.94 L175.58 16.16 L178.61 16.43 L181.64 16.76 L184.66 17.13 L187.67 17.56 L190.67 18.04 L193.66 18.58 L196.64 19.16 L199.61 19.78 L202.57 20.45 L205.53 21.15 L208.48 21.88 L211.43 22.63 L214.38 23.4 L217.33 24.18 L220.26 24.98 L223.19 25.82 L226.11 26.71 L228.99 27.65 L231.85 28.68 L234.68 29.79 L237.46 30.99 L240.21 32.29 L242.92 33.66 L245.62 35.08 L248.29 36.53 L250.95 38.01 L253.6 39.5 L256.25 40.99 L258.9 42.48 L261.54 43.98 L264.19 45.47 L266.84 46.94 L269.51 48.4 L272.18 49.84 L274.87 51.26 L277.58 52.65 L277.67 52.15 L274.53 51.07 L271.37 50.06 L268.2 49.12 L265 48.24 L261.8 47.42 L258.57 46.66 L255.33 45.95 L252.08 45.29 L248.83 44.68 L245.56 44.11 L242.28 43.57 L239 43.09 L235.71 42.65 L232.42 42.27 L229.12 41.95 L225.82 41.69 L222.51 41.51 L219.21 41.4 L215.9 41.37 L212.6 41.43 L209.29 41.58 L205.99 41.83 L202.68 42.18 L199.38 42.64 L196.09 43.21Z" fill="#f79c78"/><path d="M348.62 132.21 L348.67 134.69 L348.63 137.17 L348.5 139.65 L348.28 142.12 L347.98 144.58 L347.58 147.03 L347.1 149.47 L346.53 151.88 L345.87 154.27 L345.13 156.64 L344.3 158.98 L343.39 161.29 L342.39 163.56 L341.31 165.79 L340.16 167.99 L338.92 170.14 L337.61 172.25 L336.23 174.31 L334.77 176.31 L333.24 178.26 L331.64 180.16 L329.97 182 L328.23 183.77 L326.44 185.48 L324.58 187.13 L322.67 188.71 L320.7 190.21 L318.67 191.65 L316.6 193.01 L314.48 194.3 L312.31 195.51 L310.1 196.64 L307.85 197.69 L305.57 198.65 L303.25 199.54 L300.9 200.34 L298.53 201.05 L296.13 201.68 L293.71 202.22 L291.27 202.68 L288.81 203.04 L286.35 203.32 L283.87 203.51 L281.39 203.61 L278.91 203.62 L276.43 203.54 L273.96 203.37 L271.49 203.11 L269.03 202.76 L266.59 202.33 L264.17 201.8 L261.76 201.19 L259.38 200.49 L257.03 199.71 L254.7 198.84 L252.41 197.89 L250.16 196.86 L247.94 195.75 L245.76 194.56 L243.63 193.28 L241.55 191.94 L239.51 190.52 L237.53 189.03 L235.6 187.46 L233.74 185.83 L231.93 184.13 L230.18 182.37 L228.5 180.55 L226.88 178.66 L225.34 176.72 L223.86 174.73 L222.46 172.68 L221.14 170.58 L219.88 168.44 L218.71 166.25 L217.62 164.03 L216.61 161.76 L215.68 159.46 L214.83 157.13Z" fill="#a1c9c4"/><path d="M196.09 43.21 L199.38 42.64 L202.68 42.18 L205.99 41.83 L209.29 41.58 L212.6 41.43 L215.9 41.37 L219.21 41.4 L222.51 41.51 L225.82 41.69 L229.12 41.95 L232.42 42.27 L235.71 42.65 L239 43.09 L242.28 43.57 L245.56 44.11 L248.83 44.68 L252.08 45.29 L255.33 45.95 L258.57 46.66 L261.8 47.42 L265 48.24 L268.2 49.12 L271.37 50.06 L274.53 51.07 L277.67 52.15 L280.78 53.3 L283.86 54.53 L286.92 55.82 L289.94 57.2 L292.92 58.65 L295.87 60.19 L298.77 61.8 L301.62 63.5 L304.43 65.28 L307.18 67.14 L309.88 69.08 L312.51 71.1 L315.08 73.2 L317.58 75.38 L320.01 77.64 L322.36 79.97 L324.63 82.38 L326.83 84.86 L328.96 87.4 L331.02 90 L333 92.67 L334.91 95.39 L336.75 98.17 L338.51 101 L340.19 103.88 L341.76 106.81 L343.22 109.8 L344.54 112.84 L345.71 115.93 L346.71 119.07 L347.53 122.27 L348.16 125.52 L348.57 128.82 L348.76 132.18 L214.83 157.13 L214.83 157.13 L214.29 155.49 L213.8 153.83 L213.34 152.16 L212.93 150.49 L212.55 148.8 L212.64 148.73 L211.38 145.24 L210.19 141.73 L209.04 138.21 L207.96 134.67 L206.92 131.11 L205.94 127.54 L205.01 123.96 L204.12 120.36 L203.29 116.75 L202.5 113.14 L201.75 109.51 L201.05 105.87 L200.39 102.22 L199.77 98.57 L199.19 94.91 L198.65 91.24 L198.16 87.57 L197.71 83.9 L197.3 80.21 L196.95 76.53 L196.64 72.84 L196.39 69.14 L196.18 65.44 L196.03 61.74 L195.93 58.04 L195.88 54.34 L195.89 50.63 L195.96 46.92 L196.09 43.21Z" fill="#e17e60"/><path d="M348.62 132.21 L348.67 134.69 L348.63 137.17 L348.5 139.65 L348.28 142.12 L347.98 144.58 L347.58 147.03 L347.1 149.47 L346.53 151.88 L345.87 154.27 L345.13 156.64 L344.3 158.98 L343.39 161.29 L342.39 163.56 L341.31 165.79 L340.16 167.99 L338.92 170.14 L337.61 172.25 L336.23 174.31 L334.77 176.31 L333.24 178.26 L331.64 180.16 L329.97 182 L328.23 183.77 L326.44 185.48 L324.58 187.13 L322.67 188.71 L320.7 190.21 L318.67 191.65 L316.6 193.01 L314.48 194.3 L312.31 195.51 L310.1 196.64 L307.85 197.69 L305.57 198.65 L303.25 199.54 L300.9 200.34 L298.53 201.05 L296.13 201.68 L293.71 202.22 L291.27 202.68 L288.81 203.04 L286.35 203.32 L283.87 203.51 L281.39 203.61 L278.91 203.62 L276.43 203.54 L273.96 203.37 L271.49 203.11 L269.03 202.76 L266.59 202.33 L264.17 201.8 L261.76 201.19 L259.38 200.49 L257.03 199.71 L254.7 198.84 L252.41 197.89 L250.16 196.86 L247.94 195.75 L245.76 194.56 L243.63 193.28 L241.55 191.94 L239.51 190.52 L237.53 189.03 L235.6 187.46 L233.74 185.83 L231.93 184.13 L230.18 182.37 L228.5 180.55 L226.88 178.66 L225.34 176.72 L223.86 174.73 L222.46 172.68 L221.14 170.58 L219.88 168.44 L218.71 166.25 L217.62 164.03 L216.61 161.76 L215.68 159.46 L214.83 157.13" fill="none" stroke="#25a9b9" stroke-width="1.5"/><path d="M156.05 128.09 L154.3 129.61 L155.02 131.77 L155.81 133.9 L156.66 136.01 L157.59 138.09 L158.59 140.14 L159.65 142.15 L160.78 144.13 L161.97 146.07 L163.23 147.96 L164.55 149.82 L165.93 151.63 L167.36 153.39 L168.86 155.11 L170.41 156.77 L172.02 158.39 L173.68 159.95 L175.39 161.45 L177.15 162.89 L178.95 164.28 L180.8 165.61 L182.7 166.87 L184.63 168.07 L186.6 169.21 L188.61 170.28 L190.65 171.28 L192.73 172.21 L252.69 198.02" fill="none" stroke="#4cc4cc" stroke-width="1.2"/><path d="M196.09 43.21 L199.38 42.64 L202.68 42.18 L205.99 41.83 L209.29 41.58 L212.6 41.43 L215.9 41.37 L219.21 41.4 L222.51 41.51 L225.82 41.69 L229.12 41.95 L232.42 42.27 L235.71 42.65 L239 43.09 L242.28 43.57 L245.56 44.11 L248.83 44.68 L252.08 45.29 L255.33 45.95 L258.57 46.66 L261.8 47.42 L265 48.24 L268.2 49.12 L271.37 50.06 L274.53 51.07 L277.67 52.15 L280.78 53.3 L283.86 54.53 L286.92 55.82 L289.94 57.2 L292.92 58.65 L295.87 60.19 L298.77 61.8 L301.62 63.5 L304.43 65.28 L307.18 67.14 L309.88 69.08 L312.51 71.1 L315.08 73.2 L317.58 75.38 L320.01 77.64 L322.36 79.97 L324.63 82.38 L326.83 84.86 L328.96 87.4 L331.02 90 L333 92.67 L334.91 95.39 L336.75 98.17 L338.51 101 L340.19 103.88 L341.76 106.81 L343.22 109.8 L344.54 112.84 L345.71 115.93 L346.71 119.07 L347.53 122.27 L348.16 125.52 L348.57 128.82 L348.76 132.18" fill="none" stroke="#000" stroke-width="2" stroke-linecap="round"/><path d="M196.09 43.21 L195.96 46.92 L195.89 50.63 L195.88 54.34 L195.93 58.04 L196.03 61.74 L196.18 65.44 L196.39 69.14 L196.64 72.84 L196.95 76.53 L197.3 80.21 L197.71 83.9 L198.16 87.57 L198.65 91.24 L199.19 94.91 L199.77 98.57 L200.39 102.22 L201.05 105.87 L201.75 109.51 L202.5 113.14 L203.29 116.75 L204.12 120.36 L205.01 123.96 L205.94 127.54 L206.92 131.11 L207.96 134.67 L209.04 138.21 L210.19 141.73 L211.38 145.24 L212.64 148.73 L214.83 157.13" fill="none" stroke="#000" stroke-width="2" stroke-linecap="round"/><path d="M196.09 43.21 L136.12 17.41" fill="none" stroke="#000" stroke-width="2" stroke-linecap="round"/><path d="M136.12 17.41 L139.14 17 L142.15 16.64 L145.18 16.33 L148.21 16.08 L151.25 15.88 L154.29 15.73 L157.33 15.63 L160.38 15.59 L163.42 15.6 L166.46 15.66 L169.51 15.77 L172.55 15.94 L175.58 16.16 L178.61 16.43 L181.64 16.76 L184.66 17.13 L187.67 17.56 L190.67 18.04 L193.66 18.58 L196.64 19.16 L199.61 19.78 L202.57 20.45 L205.53 21.15 L208.48 21.88 L211.43 22.63 L214.38 23.4 L217.33 24.18 L220.26 24.98 L223.19 25.82 L226.11 26.71 L228.99 27.65" fill="none" stroke="#000" stroke-width="1.5" stroke-linecap="round"/><path d="M136.12 17.41 L136 21.12 L135.93 24.83 L135.92 28.53 L135.96 32.24 L136.06 35.94 L136.22 39.64 L136.42 43.34 L136.68 47.03 L136.99 50.73 L137.34 54.41 L137.74 58.09 L138.19 61.77 L138.69 65.44 L139.22 69.11 L139.8 72.77 L140.42 76.42 L141.08 80.07 L141.79 83.71 L142.53 87.34 L143.32 90.95 L144.16 94.56 L145.04 98.16 L145.97 101.74 L146.96 105.31 L147.99 108.87 L149.08 112.41 L150.22 115.93 L151.42 119.44 L152.67 122.93 L156.05 128.09" fill="none" stroke="#000" stroke-width="1.1" stroke-linecap="round"/><path d="M196.09 43.21 L279.9 134.85" stroke="#f00" stroke-width="2" stroke-dasharray="8 4.5" fill="none"/><path d="M279.9 134.85 L212.64 148.73" stroke="#000" stroke-width="1" fill="none"/><path d="M279.9 134.85 L338.44 165.63" stroke="#000" stroke-width="1" fill="none"/><polygon points="339.44,166.13 333.8,160.49 331.57,164.73" fill="#000"/><path d="M261.97 138.66 L261.7 137.06 L261.58 135.43 L261.6 133.81 L261.76 132.19 L262.07 130.59 L262.52 129.02 L263.11 127.5 L263.83 126.04 L264.67 124.65 L265.64 123.34 L266.71 122.12" fill="none" stroke="#000" stroke-width="1"/><text x="252.85" y="95.71" font-family='"Liberation Serif", serif' font-size="14.5">l</text><text x="256.59" y="99.62" font-family='"Liberation Serif", serif' font-weight="bold" font-size="10">d</text><text x="251.43" y="133.43" font-family='"Liberation Serif", serif' font-size="15">β</text><text x="304.81" y="146.42" font-family='"Liberation Serif", serif' font-style="italic" font-size="14.5">R</text></g><path d="M141.55 1286.95 H1389.65 V2294.6 M161.75 1285.05 V2285.1 M141.55 2276.2 H1391.55 M141.55 2110.74 H161.75 M141.55 1945.98 H161.75 M141.55 1781.22 H161.75 M141.55 1616.47 H161.75 M141.55 1451.71 H161.75 M151.25 2193.12 H161.75 M151.25 2028.36 H161.75 M151.25 1863.6 H161.75 M151.25 1698.85 H161.75 M151.25 1534.09 H161.75 M151.25 1369.33 H161.75 M243.07 2276.2 V2294.6 M324.94 2276.2 V2285.1 M406.81 2276.2 V2294.6 M488.68 2276.2 V2285.1 M570.55 2276.2 V2294.6 M652.42 2276.2 V2285.1 M734.29 2276.2 V2294.6 M816.16 2276.2 V2285.1 M898.03 2276.2 V2294.6 M979.9 2276.2 V2285.1 M1061.77 2276.2 V2294.6 M1143.64 2276.2 V2285.1 M1225.51 2276.2 V2294.6 M1307.38 2276.2 V2285.1" stroke="#000" stroke-width="3.8" fill="none"/><text x="128.9" y="2288.2" text-anchor="end" font-family='"Liberation Sans", sans-serif' font-size="43">0</text><text x="128.9" y="2123.44" text-anchor="end" font-family='"Liberation Sans", sans-serif' font-size="43">45</text><text x="128.9" y="1958.68" text-anchor="end" font-family='"Liberation Sans", sans-serif' font-size="43">90</text><text x="128.9" y="1793.92" text-anchor="end" font-family='"Liberation Sans", sans-serif' font-size="43">135</text><text x="128.9" y="1629.17" text-anchor="end" font-family='"Liberation Sans", sans-serif' font-size="43">180</text><text x="128.9" y="1464.41" text-anchor="end" font-family='"Liberation Sans", sans-serif' font-size="43">225</text><text x="128.9" y="1299.65" text-anchor="end" font-family='"Liberation Sans", sans-serif' font-size="43">270</text><text x="243.07" y="2341.2" text-anchor="middle" font-family='"Liberation Sans", sans-serif' font-size="43">1</text><text x="406.81" y="2341.2" text-anchor="middle" font-family='"Liberation Sans", sans-serif' font-size="43">3</text><text x="570.55" y="2341.2" text-anchor="middle" font-family='"Liberation Sans", sans-serif' font-size="43">5</text><text x="734.29" y="2341.2" text-anchor="middle" font-family='"Liberation Sans", sans-serif' font-size="43">7</text><text x="898.03" y="2341.2" text-anchor="middle" font-family='"Liberation Sans", sans-serif' font-size="43">9</text><text x="1061.77" y="2341.2" text-anchor="middle" font-family='"Liberation Sans", sans-serif' font-size="43">11</text><text x="1225.51" y="2341.2" text-anchor="middle" font-family='"Liberation Sans", sans-serif' font-size="43">13</text><text x="1389.25" y="2341.2" text-anchor="middle" font-family='"Liberation Sans", sans-serif' font-size="43">15</text><text transform="translate(31,2038.8) rotate(-90)" font-family='"Liberation Sans", sans-serif' font-size="42">Power absorbed</text><text transform="translate(31,1522.8) rotate(-90)" text-anchor="end" font-family='"Liberation Sans", sans-serif' font-style="italic" font-size="42">(P<tspan font-size="29" dy="10">abs</tspan><tspan dy="-10" dx="-0.65"> ,</tspan><tspan dx="2.15"> kW)</tspan></text><text x="775.7" y="2402.4" text-anchor="middle" font-family='"Liberation Sans", sans-serif' font-size="42.4">Time Period (<tspan font-style="italic">s</tspan>)</text><text x="798.5" y="2485.3" text-anchor="middle" font-family='"Liberation Serif", serif' font-size="64">(b)</text><rect x="1046.8" y="1307.7" width="328.4" height="572.7" fill="#fff" stroke="#000" stroke-width="1.15"/><path d="M1051.6 1339.5 L1143.8 1339.5" stroke="#000000" stroke-width="4.3" fill="none" stroke-linejoin="round"/><rect x="1084.8" y="1327.4" width="24.2" height="24.2" fill="#000000"/><text transform="translate(1161.4,1353.2) scale(1.16,1.03)" font-family='"Liberation Serif", serif' font-size="38">θ</text><text transform="translate(1191,1353.2) scale(1.22,1)" font-family='"Liberation Serif", serif' font-size="38">=</text><text x="1235.3" y="1353.2" font-family='"Liberation Serif", serif' font-size="38">0</text><text x="1255.8" y="1338.7" font-family='"Liberation Serif", serif' font-size="25.5">o</text><text transform="translate(1280,1352.8) scale(1,0.92)" font-family='"Liberation Sans", sans-serif' font-weight="bold" font-size="38">-</text><text x="1302.5" y="1355.2" font-family='"Liberation Serif", serif' font-size="41">ζ</text><text x="1322.3" y="1363.2" font-family='"Liberation Serif", serif' font-size="25.5">33</text><path d="M1051.6 1403.8 L1143.8 1403.8" stroke="#ff0000" stroke-width="4.3" fill="none" stroke-linejoin="round"/><circle cx="1096.9" cy="1403.8" r="12.9" fill="#ff0000"/><text transform="translate(1161.4,1417.5) scale(1.16,1.03)" font-family='"Liberation Serif", serif' font-size="38">θ</text><text transform="translate(1191,1417.5) scale(1.22,1)" font-family='"Liberation Serif", serif' font-size="38">=</text><text x="1225.3" y="1417.5" font-family='"Liberation Serif", serif' font-size="38">30</text><text x="1264.4" y="1403" font-family='"Liberation Serif", serif' font-size="25.5">o</text><text transform="translate(1290,1417.1) scale(1,0.92)" font-family='"Liberation Sans", sans-serif' font-weight="bold" font-size="38">-</text><text x="1312.5" y="1419.5" font-family='"Liberation Serif", serif' font-size="41">ζ</text><text x="1332.3" y="1427.5" font-family='"Liberation Serif", serif' font-size="25.5">33</text><path d="M1051.6 1467 L1143.8 1467" stroke="#0000ff" stroke-width="4.3" fill="none" stroke-linejoin="round"/><polygon points="1096.9,1448.53 1112.9,1476.23 1080.9,1476.23" fill="#0000ff"/><text transform="translate(1161.4,1480.7) scale(1.16,1.03)" font-family='"Liberation Serif", serif' font-size="38">θ</text><text transform="translate(1191,1480.7) scale(1.22,1)" font-family='"Liberation Serif", serif' font-size="38">=</text><text x="1225.3" y="1480.7" font-family='"Liberation Serif", serif' font-size="38">45</text><text x="1264.4" y="1466.2" font-family='"Liberation Serif", serif' font-size="25.5">o</text><text transform="translate(1290,1480.3) scale(1,0.92)" font-family='"Liberation Sans", sans-serif' font-weight="bold" font-size="38">-</text><text x="1312.5" y="1482.7" font-family='"Liberation Serif", serif' font-size="41">ζ</text><text x="1332.3" y="1490.7" font-family='"Liberation Serif", serif' font-size="25.5">33</text><path d="M1053.75 1530.2 L1143.8 1530.2" stroke="#000000" stroke-width="4.3" fill="none" stroke-linecap="round" stroke-dasharray="13.9 24.5"/><rect x="1085.6" y="1518.9" width="22.6" height="22.6" fill="#fff" stroke="#000000" stroke-width="1.6"/><text transform="translate(1161.4,1543.9) scale(1.16,1.03)" font-family='"Liberation Serif", serif' font-size="38">θ</text><text transform="translate(1191,1543.9) scale(1.22,1)" font-family='"Liberation Serif", serif' font-size="38">=</text><text x="1235.3" y="1543.9" font-family='"Liberation Serif", serif' font-size="38">0</text><text x="1255.8" y="1529.4" font-family='"Liberation Serif", serif' font-size="25.5">o</text><text transform="translate(1280,1543.5) scale(1,0.92)" font-family='"Liberation Sans", sans-serif' font-weight="bold" font-size="38">-</text><text x="1302.5" y="1545.9" font-family='"Liberation Serif", serif' font-size="41">ζ</text><text x="1322.3" y="1553.9" font-family='"Liberation Serif", serif' font-size="25.5">44</text><path d="M1053.75 1592.9 L1143.8 1592.9" stroke="#ff0000" stroke-width="4.3" fill="none" stroke-linecap="round" stroke-dasharray="13.9 24.5"/><circle cx="1096.9" cy="1592.9" r="12.1" fill="#fff" stroke="#ff0000" stroke-width="1.6"/><text transform="translate(1161.4,1606.6) scale(1.16,1.03)" font-family='"Liberation Serif", serif' font-size="38">θ</text><text transform="translate(1191,1606.6) scale(1.22,1)" font-family='"Liberation Serif", serif' font-size="38">=</text><text x="1225.3" y="1606.6" font-family='"Liberation Serif", serif' font-size="38">30</text><text x="1264.4" y="1592.1" font-family='"Liberation Serif", serif' font-size="25.5">o</text><text transform="translate(1290,1606.2) scale(1,0.92)" font-family='"Liberation Sans", sans-serif' font-weight="bold" font-size="38">-</text><text x="1312.5" y="1608.6" font-family='"Liberation Serif", serif' font-size="41">ζ</text><text x="1332.3" y="1616.6" font-family='"Liberation Serif", serif' font-size="25.5">44</text><path d="M1053.75 1656.1 L1143.8 1656.1" stroke="#0000ff" stroke-width="4.3" fill="none" stroke-linecap="round" stroke-dasharray="13.9 24.5"/><polygon points="1096.9,1639.17 1111.6,1664.57 1082.2,1664.57" fill="#fff" stroke="#0000ff" stroke-width="1.6" stroke-linejoin="miter"/><text transform="translate(1161.4,1669.8) scale(1.16,1.03)" font-family='"Liberation Serif", serif' font-size="38">θ</text><text transform="translate(1191,1669.8) scale(1.22,1)" font-family='"Liberation Serif", serif' font-size="38">=</text><text x="1225.3" y="1669.8" font-family='"Liberation Serif", serif' font-size="38">45</text><text x="1264.4" y="1655.3" font-family='"Liberation Serif", serif' font-size="25.5">o</text><text transform="translate(1290,1669.4) scale(1,0.92)" font-family='"Liberation Sans", sans-serif' font-weight="bold" font-size="38">-</text><text x="1312.5" y="1671.8" font-family='"Liberation Serif", serif' font-size="41">ζ</text><text x="1332.3" y="1679.8" font-family='"Liberation Serif", serif' font-size="25.5">44</text><path d="M1052.4 1719.9 L1143.8 1719.9" stroke="#000000" stroke-width="3.8" fill="none" stroke-linecap="round" stroke-dasharray="0.01 7.8"/><polygon points="1078.43,1719.9 1106.13,1703.9 1106.13,1735.9" fill="#000000"/><text transform="translate(1161.4,1733.6) scale(1.16,1.03)" font-family='"Liberation Serif", serif' font-size="38">θ</text><text transform="translate(1191,1733.6) scale(1.22,1)" font-family='"Liberation Serif", serif' font-size="38">=</text><text x="1235.3" y="1733.6" font-family='"Liberation Serif", serif' font-size="38">0</text><text x="1255.8" y="1719.1" font-family='"Liberation Serif", serif' font-size="25.5">o</text><text transform="translate(1280,1733.2) scale(1,0.92)" font-family='"Liberation Sans", sans-serif' font-weight="bold" font-size="38">-</text><text x="1302.5" y="1735.6" font-family='"Liberation Serif", serif' font-size="41">ζ</text><text x="1322.3" y="1743.6" font-family='"Liberation Serif", serif' font-size="25.5">55</text><path d="M1052.4 1783.3 L1143.8 1783.3" stroke="#ff0000" stroke-width="3.8" fill="none" stroke-linecap="round" stroke-dasharray="0.01 7.8"/><polygon points="1096.9,1767.7 1112.5,1783.3 1096.9,1798.9 1081.3,1783.3" fill="#fff" stroke="#ff0000" stroke-width="1.6"/><polygon points="1112.5,1783.3 1096.9,1798.9 1081.3,1783.3" fill="#ff0000" stroke="#ff0000" stroke-width="1.6"/><text transform="translate(1161.4,1797) scale(1.16,1.03)" font-family='"Liberation Serif", serif' font-size="38">θ</text><text transform="translate(1191,1797) scale(1.22,1)" font-family='"Liberation Serif", serif' font-size="38">=</text><text x="1225.3" y="1797" font-family='"Liberation Serif", serif' font-size="38">30</text><text x="1264.4" y="1782.5" font-family='"Liberation Serif", serif' font-size="25.5">o</text><text transform="translate(1290,1796.6) scale(1,0.92)" font-family='"Liberation Sans", sans-serif' font-weight="bold" font-size="38">-</text><text x="1312.5" y="1799" font-family='"Liberation Serif", serif' font-size="41">ζ</text><text x="1332.3" y="1807" font-family='"Liberation Serif", serif' font-size="25.5">55</text><path d="M1052.4 1846.3 L1143.8 1846.3" stroke="#0000ff" stroke-width="3.8" fill="none" stroke-linecap="round" stroke-dasharray="0.01 7.8"/><polygon points="1096.9,1830.7 1100.84,1840.87 1111.74,1841.48 1103.28,1848.37 1106.07,1858.92 1096.9,1853.01 1087.73,1858.92 1090.52,1848.37 1082.06,1841.48 1092.96,1840.87" fill="#0000ff"/><text transform="translate(1161.4,1860) scale(1.16,1.03)" font-family='"Liberation Serif", serif' font-size="38">θ</text><text transform="translate(1191,1860) scale(1.22,1)" font-family='"Liberation Serif", serif' font-size="38">=</text><text x="1225.3" y="1860" font-family='"Liberation Serif", serif' font-size="38">45</text><text x="1264.4" y="1845.5" font-family='"Liberation Serif", serif' font-size="25.5">o</text><text transform="translate(1290,1859.6) scale(1,0.92)" font-family='"Liberation Sans", sans-serif' font-weight="bold" font-size="38">-</text><text x="1312.5" y="1862" font-family='"Liberation Serif", serif' font-size="41">ζ</text><text x="1332.3" y="1870" font-family='"Liberation Serif", serif' font-size="25.5">55</text></svg></body></html>
